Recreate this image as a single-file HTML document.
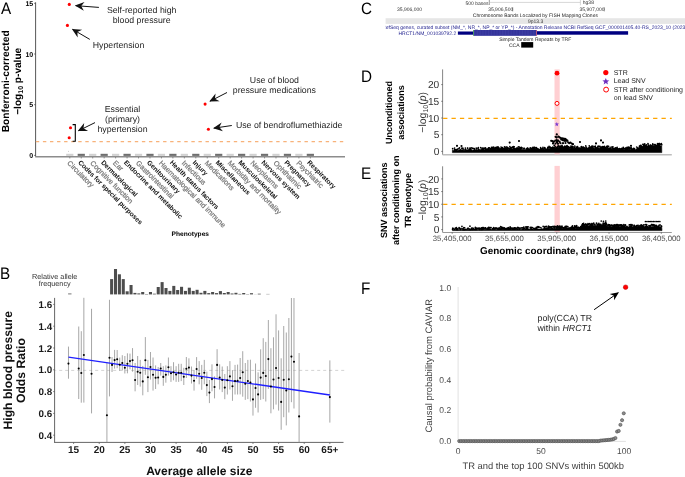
<!DOCTYPE html>
<html><head><meta charset="utf-8"><style>
html,body{margin:0;padding:0;background:#fff;overflow:hidden}
svg{display:block;will-change:transform}
text{font-family:"Liberation Sans",sans-serif;text-rendering:geometricPrecision}
</style></head><body>
<svg width="685" height="477" viewBox="0 0 685 477" font-family="Liberation Sans, sans-serif">
<rect width="685" height="477" fill="#fff"/>
<text transform="translate(1.0,14.3) scale(0.92,1)" font-size="16.6">A</text>
<line x1="35.6" y1="2.3" x2="35.6" y2="156.7" stroke="#444" stroke-width="0.9"/>
<line x1="35.2" y1="156.7" x2="345" y2="156.7" stroke="#8c8c8c" stroke-width="1.4"/>
<line x1="34.1" y1="155.40" x2="35.6" y2="155.40" stroke="#444" stroke-width="0.7"/>
<text x="33.20" y="157.90" font-size="7" font-weight="bold" fill="#000" text-anchor="end" >0</text>
<line x1="34.1" y1="104.70" x2="35.6" y2="104.70" stroke="#444" stroke-width="0.7"/>
<text x="33.20" y="107.20" font-size="7" font-weight="bold" fill="#000" text-anchor="end" >5</text>
<line x1="34.1" y1="54.00" x2="35.6" y2="54.00" stroke="#444" stroke-width="0.7"/>
<text x="33.20" y="56.50" font-size="7" font-weight="bold" fill="#000" text-anchor="end" >10</text>
<line x1="34.1" y1="3.30" x2="35.6" y2="3.30" stroke="#444" stroke-width="0.7"/>
<text x="33.20" y="5.80" font-size="7" font-weight="bold" fill="#000" text-anchor="end" >15</text>
<text transform="translate(8.8,81.3) rotate(-90)" font-size="10.2" font-weight="bold" text-anchor="middle">Bonferroni-corrected</text>
<text transform="translate(20.5,81.3) rotate(-90)" font-size="10.1" font-weight="bold" text-anchor="middle">−log<tspan font-size="7" dy="2">10</tspan><tspan dy="-2"> p-value</tspan></text>
<line x1="35.83" y1="141.6" x2="345" y2="141.6" stroke="#f8b27a" stroke-width="1.1" stroke-dasharray="3.4 3.67"/>
<rect x="66.20" y="153.8" width="7.2" height="2.1" fill="#d2d2d2"/>
<line x1="69.80" y1="157.2" x2="69.80" y2="158.4" stroke="#555" stroke-width="0.7"/>
<text transform="translate(66.80,163.60) rotate(45)" font-size="7.2" fill="#777" stroke="#777" stroke-width="0.22">Circulatory</text>
<rect x="77.66" y="153.8" width="7.2" height="2.1" fill="#6e6e6e"/>
<line x1="81.25" y1="157.2" x2="81.25" y2="158.4" stroke="#555" stroke-width="0.7"/>
<text transform="translate(77.75,162.90) rotate(45)" font-size="6.7" font-weight="bold" fill="#111">Codes for special purposes</text>
<rect x="89.11" y="153.8" width="7.2" height="2.1" fill="#d2d2d2"/>
<line x1="92.71" y1="157.2" x2="92.71" y2="158.4" stroke="#555" stroke-width="0.7"/>
<text transform="translate(89.71,163.60) rotate(45)" font-size="7.2" fill="#777" stroke="#777" stroke-width="0.22">Cognitive function</text>
<rect x="100.56" y="153.8" width="7.2" height="2.1" fill="#6e6e6e"/>
<line x1="104.16" y1="157.2" x2="104.16" y2="158.4" stroke="#555" stroke-width="0.7"/>
<text transform="translate(100.66,162.90) rotate(45)" font-size="6.7" font-weight="bold" fill="#111">Dermatological</text>
<rect x="112.02" y="153.8" width="7.2" height="2.1" fill="#d2d2d2"/>
<line x1="115.62" y1="157.2" x2="115.62" y2="158.4" stroke="#555" stroke-width="0.7"/>
<text transform="translate(112.62,163.60) rotate(45)" font-size="7.2" fill="#777" stroke="#777" stroke-width="0.22">Ear</text>
<rect x="123.47" y="153.8" width="7.2" height="2.1" fill="#6e6e6e"/>
<line x1="127.07" y1="157.2" x2="127.07" y2="158.4" stroke="#555" stroke-width="0.7"/>
<text transform="translate(123.57,162.90) rotate(45)" font-size="6.7" font-weight="bold" fill="#111">Endocrine and metabolic</text>
<rect x="134.93" y="153.8" width="7.2" height="2.1" fill="#d2d2d2"/>
<line x1="138.53" y1="157.2" x2="138.53" y2="158.4" stroke="#555" stroke-width="0.7"/>
<text transform="translate(135.53,163.60) rotate(45)" font-size="7.2" fill="#777" stroke="#777" stroke-width="0.22">Gastrointestinal</text>
<rect x="146.39" y="153.8" width="7.2" height="2.1" fill="#6e6e6e"/>
<line x1="149.99" y1="157.2" x2="149.99" y2="158.4" stroke="#555" stroke-width="0.7"/>
<text transform="translate(146.49,162.90) rotate(45)" font-size="6.7" font-weight="bold" fill="#111">Genitourinary</text>
<rect x="157.84" y="153.8" width="7.2" height="2.1" fill="#d2d2d2"/>
<line x1="161.44" y1="157.2" x2="161.44" y2="158.4" stroke="#555" stroke-width="0.7"/>
<text transform="translate(158.44,163.60) rotate(45)" font-size="7.2" fill="#777" stroke="#777" stroke-width="0.22">Haematological and immune</text>
<rect x="169.29" y="153.8" width="7.2" height="2.1" fill="#6e6e6e"/>
<line x1="172.89" y1="157.2" x2="172.89" y2="158.4" stroke="#555" stroke-width="0.7"/>
<text transform="translate(169.39,162.90) rotate(45)" font-size="6.7" font-weight="bold" fill="#111">Health status factors</text>
<rect x="180.75" y="153.8" width="7.2" height="2.1" fill="#d2d2d2"/>
<line x1="184.35" y1="157.2" x2="184.35" y2="158.4" stroke="#555" stroke-width="0.7"/>
<text transform="translate(181.35,163.60) rotate(45)" font-size="7.2" fill="#777" stroke="#777" stroke-width="0.22">Infectious</text>
<rect x="192.21" y="153.8" width="7.2" height="2.1" fill="#6e6e6e"/>
<line x1="195.81" y1="157.2" x2="195.81" y2="158.4" stroke="#555" stroke-width="0.7"/>
<text transform="translate(192.31,162.90) rotate(45)" font-size="6.7" font-weight="bold" fill="#111">Injury</text>
<rect x="203.66" y="153.8" width="7.2" height="2.1" fill="#d2d2d2"/>
<line x1="207.26" y1="157.2" x2="207.26" y2="158.4" stroke="#555" stroke-width="0.7"/>
<text transform="translate(204.26,163.60) rotate(45)" font-size="7.2" fill="#777" stroke="#777" stroke-width="0.22">Medications</text>
<rect x="215.11" y="153.8" width="7.2" height="2.1" fill="#6e6e6e"/>
<line x1="218.71" y1="157.2" x2="218.71" y2="158.4" stroke="#555" stroke-width="0.7"/>
<text transform="translate(215.21,162.90) rotate(45)" font-size="6.7" font-weight="bold" fill="#111">Miscellaneous</text>
<rect x="226.57" y="153.8" width="7.2" height="2.1" fill="#d2d2d2"/>
<line x1="230.17" y1="157.2" x2="230.17" y2="158.4" stroke="#555" stroke-width="0.7"/>
<text transform="translate(227.17,163.60) rotate(45)" font-size="7.2" fill="#777" stroke="#777" stroke-width="0.22">Morbidity and mortality</text>
<rect x="238.03" y="153.8" width="7.2" height="2.1" fill="#6e6e6e"/>
<line x1="241.62" y1="157.2" x2="241.62" y2="158.4" stroke="#555" stroke-width="0.7"/>
<text transform="translate(238.12,162.90) rotate(45)" font-size="6.7" font-weight="bold" fill="#111">Musculoskeletal</text>
<rect x="249.48" y="153.8" width="7.2" height="2.1" fill="#d2d2d2"/>
<line x1="253.08" y1="157.2" x2="253.08" y2="158.4" stroke="#555" stroke-width="0.7"/>
<text transform="translate(250.08,163.60) rotate(45)" font-size="7.2" fill="#777" stroke="#777" stroke-width="0.22">Neoplasms</text>
<rect x="260.94" y="153.8" width="7.2" height="2.1" fill="#6e6e6e"/>
<line x1="264.54" y1="157.2" x2="264.54" y2="158.4" stroke="#555" stroke-width="0.7"/>
<text transform="translate(261.04,162.90) rotate(45)" font-size="6.7" font-weight="bold" fill="#111">Nervous system</text>
<rect x="272.39" y="153.8" width="7.2" height="2.1" fill="#d2d2d2"/>
<line x1="275.99" y1="157.2" x2="275.99" y2="158.4" stroke="#555" stroke-width="0.7"/>
<text transform="translate(272.99,163.60) rotate(45)" font-size="7.2" fill="#777" stroke="#777" stroke-width="0.22">Ophthalmic</text>
<rect x="283.84" y="153.8" width="7.2" height="2.1" fill="#6e6e6e"/>
<line x1="287.44" y1="157.2" x2="287.44" y2="158.4" stroke="#555" stroke-width="0.7"/>
<text transform="translate(283.94,162.90) rotate(45)" font-size="6.7" font-weight="bold" fill="#111">Pregnancy</text>
<rect x="295.30" y="153.8" width="7.2" height="2.1" fill="#d2d2d2"/>
<line x1="298.90" y1="157.2" x2="298.90" y2="158.4" stroke="#555" stroke-width="0.7"/>
<text transform="translate(295.90,163.60) rotate(45)" font-size="7.2" fill="#777" stroke="#777" stroke-width="0.22">Psychiatric</text>
<rect x="306.75" y="153.8" width="7.2" height="2.1" fill="#6e6e6e"/>
<line x1="310.36" y1="157.2" x2="310.36" y2="158.4" stroke="#555" stroke-width="0.7"/>
<text transform="translate(306.86,162.90) rotate(45)" font-size="6.7" font-weight="bold" fill="#111">Respiratory</text>
<circle cx="68.5" cy="151.3" r="0.5" fill="#bbb"/>
<text x="190.30" y="236.40" font-size="6.6" font-weight="bold" fill="#000" text-anchor="middle" >Phenotypes</text>
<circle cx="69.3" cy="4.4" r="1.55" fill="#f00"/>
<circle cx="67.4" cy="25.4" r="1.55" fill="#f00"/>
<circle cx="70.5" cy="127.7" r="1.55" fill="#f00"/>
<circle cx="69.2" cy="137.7" r="1.55" fill="#f00"/>
<circle cx="205.1" cy="104.1" r="1.55" fill="#f00"/>
<circle cx="208.4" cy="129.3" r="1.55" fill="#f00"/>
<path d="M72.6,124.6 H75.3 V141.2 H72.6" fill="none" stroke="#000" stroke-width="1.1"/>
<line x1="98.90" y1="7.40" x2="75.70" y2="5.66" stroke="#111" stroke-width="1.0"/>
<path d="M74.90,5.60 L84.50,1.91 L81.21,6.07 L83.84,10.68 Z" fill="#111"/>
<line x1="89.80" y1="39.40" x2="72.59" y2="29.30" stroke="#111" stroke-width="1.0"/>
<path d="M71.90,28.90 L82.15,29.81 L77.35,32.10 L77.70,37.40 Z" fill="#111"/>
<line x1="95.00" y1="122.60" x2="78.52" y2="130.75" stroke="#111" stroke-width="1.0"/>
<path d="M77.80,131.10 L84.19,123.04 L83.47,128.30 L88.09,130.92 Z" fill="#111"/>
<line x1="227.00" y1="92.50" x2="210.01" y2="101.23" stroke="#111" stroke-width="1.0"/>
<path d="M209.30,101.60 L215.56,93.43 L214.92,98.71 L219.58,101.26 Z" fill="#111"/>
<line x1="231.80" y1="125.50" x2="213.89" y2="128.18" stroke="#111" stroke-width="1.0"/>
<path d="M213.10,128.30 L221.65,122.57 L219.35,127.36 L222.95,131.27 Z" fill="#111"/>
<text x="141.70" y="13.10" font-size="8.75" fill="#1c1c1c" text-anchor="middle" >Self-reported high</text>
<text x="141.70" y="22.80" font-size="8.75" fill="#1c1c1c" text-anchor="middle" >blood pressure</text>
<text x="118.50" y="48.20" font-size="8.75" fill="#1c1c1c" text-anchor="middle" >Hypertension</text>
<text x="122.50" y="111.70" font-size="8.75" fill="#1c1c1c" text-anchor="middle" >Essential</text>
<text x="122.50" y="121.80" font-size="8.75" fill="#1c1c1c" text-anchor="middle" >(primary)</text>
<text x="122.50" y="131.80" font-size="8.75" fill="#1c1c1c" text-anchor="middle" >hypertension</text>
<text x="274.40" y="82.50" font-size="8.75" fill="#1c1c1c" text-anchor="middle" >Use of blood</text>
<text x="274.40" y="93.20" font-size="8.75" fill="#1c1c1c" text-anchor="middle" >pressure medications</text>
<text x="235.90" y="127.90" font-size="8.75" fill="#1c1c1c" text-anchor="start" >Use of bendroflumethiazide</text>
<text transform="translate(0.0,278.7) scale(0.92,1)" font-size="16.6">B</text>
<text x="54.70" y="278.60" font-size="7.3" fill="#333" text-anchor="middle" >Relative allele</text>
<text x="54.70" y="286.10" font-size="7.3" fill="#333" text-anchor="middle" >frequency</text>
<rect x="68.1" y="293.4" width="3.4" height="1" fill="#777"/>
<rect x="110.10" y="279.10" width="3.05" height="15.30" fill="#4d4d4d"/>
<rect x="113.98" y="269.00" width="3.05" height="25.40" fill="#4d4d4d"/>
<rect x="117.87" y="274.30" width="3.05" height="20.10" fill="#4d4d4d"/>
<rect x="121.75" y="279.10" width="3.05" height="15.30" fill="#4d4d4d"/>
<rect x="125.64" y="291.30" width="3.05" height="3.10" fill="#4d4d4d"/>
<rect x="129.52" y="285.00" width="3.05" height="9.40" fill="#4d4d4d"/>
<rect x="133.41" y="292.90" width="3.05" height="1.50" fill="#4d4d4d"/>
<rect x="137.29" y="293.40" width="3.05" height="1.00" fill="#4d4d4d"/>
<rect x="141.18" y="292.00" width="3.05" height="2.40" fill="#4d4d4d"/>
<rect x="145.06" y="294.00" width="3.05" height="0.40" fill="#4d4d4d"/>
<rect x="148.95" y="292.00" width="3.05" height="2.40" fill="#4d4d4d"/>
<rect x="152.83" y="293.70" width="3.05" height="0.70" fill="#4d4d4d"/>
<rect x="156.72" y="287.00" width="3.05" height="7.40" fill="#4d4d4d"/>
<rect x="160.60" y="282.10" width="3.05" height="12.30" fill="#4d4d4d"/>
<rect x="164.49" y="288.00" width="3.05" height="6.40" fill="#4d4d4d"/>
<rect x="168.38" y="290.90" width="3.05" height="3.50" fill="#4d4d4d"/>
<rect x="172.26" y="285.90" width="3.05" height="8.50" fill="#4d4d4d"/>
<rect x="176.14" y="290.00" width="3.05" height="4.40" fill="#4d4d4d"/>
<rect x="180.03" y="286.80" width="3.05" height="7.60" fill="#4d4d4d"/>
<rect x="183.91" y="290.90" width="3.05" height="3.50" fill="#4d4d4d"/>
<rect x="187.80" y="287.70" width="3.05" height="6.70" fill="#4d4d4d"/>
<rect x="191.69" y="290.90" width="3.05" height="3.50" fill="#4d4d4d"/>
<rect x="195.57" y="289.80" width="3.05" height="4.60" fill="#4d4d4d"/>
<rect x="199.45" y="292.80" width="3.05" height="1.60" fill="#4d4d4d"/>
<rect x="203.34" y="290.90" width="3.05" height="3.50" fill="#4d4d4d"/>
<rect x="207.22" y="293.10" width="3.05" height="1.30" fill="#4d4d4d"/>
<rect x="211.11" y="292.00" width="3.05" height="2.40" fill="#4d4d4d"/>
<rect x="215.00" y="293.10" width="3.05" height="1.30" fill="#4d4d4d"/>
<rect x="218.88" y="291.10" width="3.05" height="3.30" fill="#4d4d4d"/>
<rect x="222.76" y="293.00" width="3.05" height="1.40" fill="#4d4d4d"/>
<rect x="226.65" y="292.00" width="3.05" height="2.40" fill="#4d4d4d"/>
<rect x="230.53" y="293.50" width="3.05" height="0.90" fill="#4d4d4d"/>
<rect x="234.42" y="292.80" width="3.05" height="1.60" fill="#4d4d4d"/>
<rect x="238.30" y="293.90" width="3.05" height="0.50" fill="#4d4d4d"/>
<rect x="242.19" y="293.00" width="3.05" height="1.40" fill="#4d4d4d"/>
<rect x="246.07" y="294.10" width="3.05" height="0.30" fill="#4d4d4d"/>
<rect x="249.96" y="293.20" width="3.05" height="1.20" fill="#4d4d4d"/>
<rect x="253.84" y="294.30" width="3.05" height="0.10" fill="#4d4d4d"/>
<rect x="257.73" y="293.70" width="3.05" height="0.70" fill="#4d4d4d"/>
<rect x="266.2" y="293.9" width="3.4" height="0.5" fill="#999"/>
<line x1="54.6" y1="297.9" x2="54.6" y2="442.6" stroke="#555" stroke-width="0.9"/>
<line x1="54.2" y1="442.4" x2="343.5" y2="442.4" stroke="#555" stroke-width="0.9"/>
<line x1="53.1" y1="435.20" x2="54.6" y2="435.20" stroke="#555" stroke-width="0.7"/>
<text x="52.20" y="438.70" font-size="9.8" font-weight="bold" fill="#1a1a1a" text-anchor="end" >0.4</text>
<line x1="53.1" y1="413.40" x2="54.6" y2="413.40" stroke="#555" stroke-width="0.7"/>
<text x="52.20" y="416.90" font-size="9.8" font-weight="bold" fill="#1a1a1a" text-anchor="end" >0.6</text>
<line x1="53.1" y1="391.60" x2="54.6" y2="391.60" stroke="#555" stroke-width="0.7"/>
<text x="52.20" y="395.10" font-size="9.8" font-weight="bold" fill="#1a1a1a" text-anchor="end" >0.8</text>
<line x1="53.1" y1="369.80" x2="54.6" y2="369.80" stroke="#555" stroke-width="0.7"/>
<text x="52.20" y="373.30" font-size="9.8" font-weight="bold" fill="#1a1a1a" text-anchor="end" >1.0</text>
<line x1="53.1" y1="348.00" x2="54.6" y2="348.00" stroke="#555" stroke-width="0.7"/>
<text x="52.20" y="351.50" font-size="9.8" font-weight="bold" fill="#1a1a1a" text-anchor="end" >1.2</text>
<line x1="53.1" y1="326.20" x2="54.6" y2="326.20" stroke="#555" stroke-width="0.7"/>
<text x="52.20" y="329.70" font-size="9.8" font-weight="bold" fill="#1a1a1a" text-anchor="end" >1.4</text>
<line x1="53.1" y1="304.40" x2="54.6" y2="304.40" stroke="#555" stroke-width="0.7"/>
<text x="52.20" y="307.90" font-size="9.8" font-weight="bold" fill="#1a1a1a" text-anchor="end" >1.6</text>
<line x1="73.60" y1="442.4" x2="73.60" y2="444" stroke="#555" stroke-width="0.7"/>
<text x="73.60" y="452.60" font-size="10" font-weight="bold" fill="#1a1a1a" text-anchor="middle" >15</text>
<line x1="99.22" y1="442.4" x2="99.22" y2="444" stroke="#555" stroke-width="0.7"/>
<text x="99.22" y="452.60" font-size="10" font-weight="bold" fill="#1a1a1a" text-anchor="middle" >20</text>
<line x1="124.85" y1="442.4" x2="124.85" y2="444" stroke="#555" stroke-width="0.7"/>
<text x="124.85" y="452.60" font-size="10" font-weight="bold" fill="#1a1a1a" text-anchor="middle" >25</text>
<line x1="150.47" y1="442.4" x2="150.47" y2="444" stroke="#555" stroke-width="0.7"/>
<text x="150.47" y="452.60" font-size="10" font-weight="bold" fill="#1a1a1a" text-anchor="middle" >30</text>
<line x1="176.10" y1="442.4" x2="176.10" y2="444" stroke="#555" stroke-width="0.7"/>
<text x="176.10" y="452.60" font-size="10" font-weight="bold" fill="#1a1a1a" text-anchor="middle" >35</text>
<line x1="201.72" y1="442.4" x2="201.72" y2="444" stroke="#555" stroke-width="0.7"/>
<text x="201.72" y="452.60" font-size="10" font-weight="bold" fill="#1a1a1a" text-anchor="middle" >40</text>
<line x1="227.35" y1="442.4" x2="227.35" y2="444" stroke="#555" stroke-width="0.7"/>
<text x="227.35" y="452.60" font-size="10" font-weight="bold" fill="#1a1a1a" text-anchor="middle" >45</text>
<line x1="252.97" y1="442.4" x2="252.97" y2="444" stroke="#555" stroke-width="0.7"/>
<text x="252.97" y="452.60" font-size="10" font-weight="bold" fill="#1a1a1a" text-anchor="middle" >50</text>
<line x1="278.60" y1="442.4" x2="278.60" y2="444" stroke="#555" stroke-width="0.7"/>
<text x="278.60" y="452.60" font-size="10" font-weight="bold" fill="#1a1a1a" text-anchor="middle" >55</text>
<line x1="304.23" y1="442.4" x2="304.23" y2="444" stroke="#555" stroke-width="0.7"/>
<text x="304.23" y="452.60" font-size="10" font-weight="bold" fill="#1a1a1a" text-anchor="middle" >60</text>
<line x1="329.85" y1="442.4" x2="329.85" y2="444" stroke="#555" stroke-width="0.7"/>
<text x="329.85" y="452.60" font-size="10" font-weight="bold" fill="#1a1a1a" text-anchor="middle" >65+</text>
<text x="199.30" y="474.80" font-size="12" font-weight="bold" fill="#111" text-anchor="middle" >Average allele size</text>
<text transform="translate(11.5,370.3) rotate(-90)" font-size="12.2" font-weight="bold" text-anchor="middle" fill="#111">High blood pressure</text>
<text transform="translate(25.0,370.6) rotate(-90)" font-size="12.2" font-weight="bold" text-anchor="middle" fill="#111">Odds Ratio</text>
<line x1="55.1" y1="370.4" x2="345.5" y2="370.4" stroke="#c8c8c8" stroke-width="0.8" stroke-dasharray="3 3" stroke-dashoffset="1.9"/>
<line x1="68.47" y1="346.60" x2="68.47" y2="378.70" stroke="#8a8a8a" stroke-width="0.75"/>
<line x1="78.72" y1="326.50" x2="78.72" y2="399.00" stroke="#8a8a8a" stroke-width="0.75"/>
<line x1="81.29" y1="331.20" x2="81.29" y2="402.70" stroke="#8a8a8a" stroke-width="0.75"/>
<line x1="83.85" y1="297.80" x2="83.85" y2="402.60" stroke="#8a8a8a" stroke-width="0.75"/>
<line x1="91.54" y1="308.80" x2="91.54" y2="413.40" stroke="#8a8a8a" stroke-width="0.75"/>
<line x1="106.91" y1="362.50" x2="106.91" y2="442.40" stroke="#8a8a8a" stroke-width="0.75"/>
<line x1="109.47" y1="299.80" x2="109.47" y2="396.40" stroke="#8a8a8a" stroke-width="0.75"/>
<line x1="112.04" y1="357.00" x2="112.04" y2="372.00" stroke="#8a8a8a" stroke-width="0.75"/>
<line x1="114.60" y1="349.90" x2="114.60" y2="368.60" stroke="#8a8a8a" stroke-width="0.75"/>
<line x1="117.16" y1="350.00" x2="117.16" y2="368.20" stroke="#8a8a8a" stroke-width="0.75"/>
<line x1="119.72" y1="357.60" x2="119.72" y2="370.80" stroke="#8a8a8a" stroke-width="0.75"/>
<line x1="122.29" y1="355.20" x2="122.29" y2="370.40" stroke="#8a8a8a" stroke-width="0.75"/>
<line x1="124.85" y1="356.00" x2="124.85" y2="373.50" stroke="#8a8a8a" stroke-width="0.75"/>
<line x1="127.41" y1="353.30" x2="127.41" y2="373.30" stroke="#8a8a8a" stroke-width="0.75"/>
<line x1="129.97" y1="353.60" x2="129.97" y2="369.30" stroke="#8a8a8a" stroke-width="0.75"/>
<line x1="132.54" y1="348.10" x2="132.54" y2="371.70" stroke="#8a8a8a" stroke-width="0.75"/>
<line x1="135.10" y1="363.00" x2="135.10" y2="391.30" stroke="#8a8a8a" stroke-width="0.75"/>
<line x1="137.66" y1="356.00" x2="137.66" y2="385.00" stroke="#8a8a8a" stroke-width="0.75"/>
<line x1="140.22" y1="359.90" x2="140.22" y2="386.60" stroke="#8a8a8a" stroke-width="0.75"/>
<line x1="142.79" y1="365.90" x2="142.79" y2="395.30" stroke="#8a8a8a" stroke-width="0.75"/>
<line x1="145.35" y1="337.10" x2="145.35" y2="374.80" stroke="#8a8a8a" stroke-width="0.75"/>
<line x1="147.91" y1="359.90" x2="147.91" y2="392.10" stroke="#8a8a8a" stroke-width="0.75"/>
<line x1="150.47" y1="352.00" x2="150.47" y2="379.60" stroke="#8a8a8a" stroke-width="0.75"/>
<line x1="153.04" y1="357.50" x2="153.04" y2="390.60" stroke="#8a8a8a" stroke-width="0.75"/>
<line x1="155.60" y1="365.40" x2="155.60" y2="389.00" stroke="#8a8a8a" stroke-width="0.75"/>
<line x1="158.16" y1="367.00" x2="158.16" y2="384.30" stroke="#8a8a8a" stroke-width="0.75"/>
<line x1="160.72" y1="363.00" x2="160.72" y2="375.60" stroke="#8a8a8a" stroke-width="0.75"/>
<line x1="163.29" y1="366.20" x2="163.29" y2="385.80" stroke="#8a8a8a" stroke-width="0.75"/>
<line x1="165.85" y1="365.40" x2="165.85" y2="382.70" stroke="#8a8a8a" stroke-width="0.75"/>
<line x1="168.41" y1="357.50" x2="168.41" y2="375.60" stroke="#8a8a8a" stroke-width="0.75"/>
<line x1="170.97" y1="366.20" x2="170.97" y2="381.90" stroke="#8a8a8a" stroke-width="0.75"/>
<line x1="173.54" y1="362.20" x2="173.54" y2="380.30" stroke="#8a8a8a" stroke-width="0.75"/>
<line x1="176.10" y1="366.20" x2="176.10" y2="381.90" stroke="#8a8a8a" stroke-width="0.75"/>
<line x1="178.66" y1="363.80" x2="178.66" y2="381.90" stroke="#8a8a8a" stroke-width="0.75"/>
<line x1="181.22" y1="363.80" x2="181.22" y2="381.10" stroke="#8a8a8a" stroke-width="0.75"/>
<line x1="183.79" y1="367.80" x2="183.79" y2="385.00" stroke="#8a8a8a" stroke-width="0.75"/>
<line x1="186.35" y1="357.00" x2="186.35" y2="378.00" stroke="#8a8a8a" stroke-width="0.75"/>
<line x1="188.91" y1="358.30" x2="188.91" y2="375.60" stroke="#8a8a8a" stroke-width="0.75"/>
<line x1="191.47" y1="366.50" x2="191.47" y2="383.50" stroke="#8a8a8a" stroke-width="0.75"/>
<line x1="194.04" y1="370.10" x2="194.04" y2="390.60" stroke="#8a8a8a" stroke-width="0.75"/>
<line x1="196.60" y1="357.10" x2="196.60" y2="378.80" stroke="#8a8a8a" stroke-width="0.75"/>
<line x1="199.16" y1="361.10" x2="199.16" y2="384.30" stroke="#8a8a8a" stroke-width="0.75"/>
<line x1="201.72" y1="364.90" x2="201.72" y2="389.80" stroke="#8a8a8a" stroke-width="0.75"/>
<line x1="204.29" y1="359.90" x2="204.29" y2="384.30" stroke="#8a8a8a" stroke-width="0.75"/>
<line x1="206.85" y1="371.70" x2="206.85" y2="396.10" stroke="#8a8a8a" stroke-width="0.75"/>
<line x1="209.41" y1="380.00" x2="209.41" y2="403.10" stroke="#8a8a8a" stroke-width="0.75"/>
<line x1="211.97" y1="364.30" x2="211.97" y2="391.30" stroke="#8a8a8a" stroke-width="0.75"/>
<line x1="214.54" y1="376.40" x2="214.54" y2="398.40" stroke="#8a8a8a" stroke-width="0.75"/>
<line x1="217.10" y1="349.20" x2="217.10" y2="378.00" stroke="#8a8a8a" stroke-width="0.75"/>
<line x1="219.66" y1="364.30" x2="219.66" y2="389.50" stroke="#8a8a8a" stroke-width="0.75"/>
<line x1="222.22" y1="366.50" x2="222.22" y2="392.10" stroke="#8a8a8a" stroke-width="0.75"/>
<line x1="224.79" y1="374.00" x2="224.79" y2="399.20" stroke="#8a8a8a" stroke-width="0.75"/>
<line x1="227.35" y1="366.20" x2="227.35" y2="394.50" stroke="#8a8a8a" stroke-width="0.75"/>
<line x1="229.91" y1="361.10" x2="229.91" y2="389.50" stroke="#8a8a8a" stroke-width="0.75"/>
<line x1="232.47" y1="370.10" x2="232.47" y2="400.80" stroke="#8a8a8a" stroke-width="0.75"/>
<line x1="235.04" y1="364.90" x2="235.04" y2="394.50" stroke="#8a8a8a" stroke-width="0.75"/>
<line x1="237.60" y1="364.60" x2="237.60" y2="394.50" stroke="#8a8a8a" stroke-width="0.75"/>
<line x1="240.16" y1="358.00" x2="240.16" y2="394.40" stroke="#8a8a8a" stroke-width="0.75"/>
<line x1="242.72" y1="351.20" x2="242.72" y2="396.70" stroke="#8a8a8a" stroke-width="0.75"/>
<line x1="245.29" y1="363.00" x2="245.29" y2="399.90" stroke="#8a8a8a" stroke-width="0.75"/>
<line x1="247.85" y1="359.90" x2="247.85" y2="399.10" stroke="#8a8a8a" stroke-width="0.75"/>
<line x1="250.41" y1="359.70" x2="250.41" y2="401.50" stroke="#8a8a8a" stroke-width="0.75"/>
<line x1="252.97" y1="384.00" x2="252.97" y2="415.60" stroke="#8a8a8a" stroke-width="0.75"/>
<line x1="255.54" y1="363.50" x2="255.54" y2="407.80" stroke="#8a8a8a" stroke-width="0.75"/>
<line x1="258.10" y1="372.30" x2="258.10" y2="412.50" stroke="#8a8a8a" stroke-width="0.75"/>
<line x1="260.66" y1="349.30" x2="260.66" y2="399.90" stroke="#8a8a8a" stroke-width="0.75"/>
<line x1="263.23" y1="338.20" x2="263.23" y2="399.10" stroke="#8a8a8a" stroke-width="0.75"/>
<line x1="265.79" y1="341.90" x2="265.79" y2="401.50" stroke="#8a8a8a" stroke-width="0.75"/>
<line x1="268.35" y1="320.00" x2="268.35" y2="388.90" stroke="#8a8a8a" stroke-width="0.75"/>
<line x1="270.91" y1="348.20" x2="270.91" y2="413.30" stroke="#8a8a8a" stroke-width="0.75"/>
<line x1="273.48" y1="337.30" x2="273.48" y2="409.30" stroke="#8a8a8a" stroke-width="0.75"/>
<line x1="276.04" y1="314.30" x2="276.04" y2="404.60" stroke="#8a8a8a" stroke-width="0.75"/>
<line x1="278.60" y1="330.40" x2="278.60" y2="410.60" stroke="#8a8a8a" stroke-width="0.75"/>
<line x1="281.16" y1="358.30" x2="281.16" y2="429.80" stroke="#8a8a8a" stroke-width="0.75"/>
<line x1="283.73" y1="326.00" x2="283.73" y2="417.20" stroke="#8a8a8a" stroke-width="0.75"/>
<line x1="286.29" y1="332.50" x2="286.29" y2="425.40" stroke="#8a8a8a" stroke-width="0.75"/>
<line x1="288.85" y1="318.00" x2="288.85" y2="412.50" stroke="#8a8a8a" stroke-width="0.75"/>
<line x1="291.41" y1="298.00" x2="291.41" y2="402.20" stroke="#8a8a8a" stroke-width="0.75"/>
<line x1="293.98" y1="298.00" x2="293.98" y2="408.50" stroke="#8a8a8a" stroke-width="0.75"/>
<line x1="299.10" y1="353.00" x2="299.10" y2="442.40" stroke="#8a8a8a" stroke-width="0.75"/>
<line x1="329.85" y1="360.40" x2="329.85" y2="422.60" stroke="#8a8a8a" stroke-width="0.75"/>
<line x1="68.47" y1="357.1" x2="329.85" y2="395.0" stroke="#1f1fff" stroke-width="1.3"/>
<circle cx="68.47" cy="363.60" r="1.05" fill="#000"/>
<circle cx="78.72" cy="368.50" r="1.05" fill="#000"/>
<circle cx="81.29" cy="373.00" r="1.05" fill="#000"/>
<circle cx="83.85" cy="355.00" r="1.05" fill="#000"/>
<circle cx="91.54" cy="373.80" r="1.05" fill="#000"/>
<circle cx="106.91" cy="415.30" r="1.05" fill="#000"/>
<circle cx="109.47" cy="357.70" r="1.05" fill="#000"/>
<circle cx="112.04" cy="364.90" r="1.05" fill="#000"/>
<circle cx="114.60" cy="360.10" r="1.05" fill="#000"/>
<circle cx="117.16" cy="359.30" r="1.05" fill="#000"/>
<circle cx="119.72" cy="364.70" r="1.05" fill="#000"/>
<circle cx="122.29" cy="363.00" r="1.05" fill="#000"/>
<circle cx="124.85" cy="367.70" r="1.05" fill="#000"/>
<circle cx="127.41" cy="363.80" r="1.05" fill="#000"/>
<circle cx="129.97" cy="361.10" r="1.05" fill="#000"/>
<circle cx="132.54" cy="360.20" r="1.05" fill="#000"/>
<circle cx="135.10" cy="380.00" r="1.05" fill="#000"/>
<circle cx="137.66" cy="371.70" r="1.05" fill="#000"/>
<circle cx="140.22" cy="372.80" r="1.05" fill="#000"/>
<circle cx="142.79" cy="381.40" r="1.05" fill="#000"/>
<circle cx="145.35" cy="360.20" r="1.05" fill="#000"/>
<circle cx="147.91" cy="377.20" r="1.05" fill="#000"/>
<circle cx="150.47" cy="367.00" r="1.05" fill="#000"/>
<circle cx="153.04" cy="374.80" r="1.05" fill="#000"/>
<circle cx="155.60" cy="377.70" r="1.05" fill="#000"/>
<circle cx="158.16" cy="377.50" r="1.05" fill="#000"/>
<circle cx="160.72" cy="368.50" r="1.05" fill="#000"/>
<circle cx="163.29" cy="376.90" r="1.05" fill="#000"/>
<circle cx="165.85" cy="374.80" r="1.05" fill="#000"/>
<circle cx="168.41" cy="367.30" r="1.05" fill="#000"/>
<circle cx="170.97" cy="373.30" r="1.05" fill="#000"/>
<circle cx="173.54" cy="372.20" r="1.05" fill="#000"/>
<circle cx="176.10" cy="374.50" r="1.05" fill="#000"/>
<circle cx="178.66" cy="372.80" r="1.05" fill="#000"/>
<circle cx="181.22" cy="372.80" r="1.05" fill="#000"/>
<circle cx="183.79" cy="376.70" r="1.05" fill="#000"/>
<circle cx="186.35" cy="368.70" r="1.05" fill="#000"/>
<circle cx="188.91" cy="367.60" r="1.05" fill="#000"/>
<circle cx="191.47" cy="375.60" r="1.05" fill="#000"/>
<circle cx="194.04" cy="380.80" r="1.05" fill="#000"/>
<circle cx="196.60" cy="369.00" r="1.05" fill="#000"/>
<circle cx="199.16" cy="373.70" r="1.05" fill="#000"/>
<circle cx="201.72" cy="378.00" r="1.05" fill="#000"/>
<circle cx="204.29" cy="372.80" r="1.05" fill="#000"/>
<circle cx="206.85" cy="385.10" r="1.05" fill="#000"/>
<circle cx="209.41" cy="392.60" r="1.05" fill="#000"/>
<circle cx="211.97" cy="379.10" r="1.05" fill="#000"/>
<circle cx="214.54" cy="387.00" r="1.05" fill="#000"/>
<circle cx="217.10" cy="364.90" r="1.05" fill="#000"/>
<circle cx="219.66" cy="377.50" r="1.05" fill="#000"/>
<circle cx="222.22" cy="380.00" r="1.05" fill="#000"/>
<circle cx="224.79" cy="387.60" r="1.05" fill="#000"/>
<circle cx="227.35" cy="380.30" r="1.05" fill="#000"/>
<circle cx="229.91" cy="376.40" r="1.05" fill="#000"/>
<circle cx="232.47" cy="386.30" r="1.05" fill="#000"/>
<circle cx="235.04" cy="381.10" r="1.05" fill="#000"/>
<circle cx="237.60" cy="380.70" r="1.05" fill="#000"/>
<circle cx="240.16" cy="378.00" r="1.05" fill="#000"/>
<circle cx="242.72" cy="372.30" r="1.05" fill="#000"/>
<circle cx="245.29" cy="383.80" r="1.05" fill="#000"/>
<circle cx="247.85" cy="381.00" r="1.05" fill="#000"/>
<circle cx="250.41" cy="382.50" r="1.05" fill="#000"/>
<circle cx="252.97" cy="399.40" r="1.05" fill="#000"/>
<circle cx="255.54" cy="388.00" r="1.05" fill="#000"/>
<circle cx="258.10" cy="394.40" r="1.05" fill="#000"/>
<circle cx="260.66" cy="377.60" r="1.05" fill="#000"/>
<circle cx="263.23" cy="372.90" r="1.05" fill="#000"/>
<circle cx="265.79" cy="376.00" r="1.05" fill="#000"/>
<circle cx="268.35" cy="359.10" r="1.05" fill="#000"/>
<circle cx="270.91" cy="386.50" r="1.05" fill="#000"/>
<circle cx="273.48" cy="379.50" r="1.05" fill="#000"/>
<circle cx="276.04" cy="368.10" r="1.05" fill="#000"/>
<circle cx="278.60" cy="378.00" r="1.05" fill="#000"/>
<circle cx="281.16" cy="401.90" r="1.05" fill="#000"/>
<circle cx="283.73" cy="379.70" r="1.05" fill="#000"/>
<circle cx="286.29" cy="390.50" r="1.05" fill="#000"/>
<circle cx="288.85" cy="379.30" r="1.05" fill="#000"/>
<circle cx="291.41" cy="356.60" r="1.05" fill="#000"/>
<circle cx="293.98" cy="361.80" r="1.05" fill="#000"/>
<circle cx="299.10" cy="416.40" r="1.05" fill="#000"/>
<circle cx="329.85" cy="397.10" r="1.05" fill="#000"/>
<text transform="translate(360.9,13.6) scale(0.92,1)" font-size="16.6">C</text>
<text x="409.50" y="11.20" font-size="5.0" fill="#333" text-anchor="middle" >35,906,000</text>
<text x="500.70" y="11.20" font-size="5.0" fill="#333" text-anchor="middle" >35,906,500</text>
<text x="592.00" y="11.20" font-size="5.0" fill="#333" text-anchor="middle" >35,907,000</text>
<line x1="512.7" y1="7.2" x2="512.7" y2="11.4" stroke="#333" stroke-width="0.5"/>
<line x1="604.3" y1="7.2" x2="604.3" y2="11.4" stroke="#333" stroke-width="0.5"/>
<text x="488.60" y="4.60" font-size="5.0" fill="#333" text-anchor="end" >500 bases</text>
<line x1="489.3" y1="0" x2="489.3" y2="5" stroke="#333" stroke-width="0.5"/>
<line x1="489.3" y1="2.4" x2="580.4" y2="2.4" stroke="#bbb" stroke-width="0.6"/>
<line x1="580.4" y1="0" x2="580.4" y2="5.3" stroke="#bbb" stroke-width="0.6"/>
<text x="582.80" y="3.90" font-size="5.0" fill="#333" text-anchor="start" >hg38</text>
<text x="535.40" y="17.30" font-size="5.0" fill="#222" text-anchor="middle" >Chromosome Bands Localized by FISH Mapping Clones</text>
<rect x="385.6" y="18.2" width="300" height="5.7" fill="#e6e6e6"/>
<text x="527.90" y="23.20" font-size="5.0" fill="#333" text-anchor="start" >9p13.3</text>
<clipPath id="cC"><rect x="385.6" y="24" width="300" height="8"/></clipPath>
<text x="382.20" y="29.40" font-size="5.0" fill="#1c1c8c" text-anchor="start" clip-path="url(#cC)">RefSeq genes, curated subset (NM_*, NR_*, NP_* or YP_*) - Annotation Release NCBI RefSeq GCF_000001405.40-RS_2023_10 (2023-10-26)</text>
<text x="456.30" y="34.60" font-size="5.0" fill="#1c1c8c" text-anchor="end" >HRCT1/NM_001039792.2</text>
<rect x="457.9" y="31.5" width="15.4" height="3.2" fill="#000080"/>
<rect x="537" y="31.2" width="91.1" height="3.5" fill="#000080"/>
<rect x="473.6" y="30" width="62.8" height="5.8" fill="#303096"/>
<line x1="474.50" y1="30" x2="474.50" y2="35.8" stroke="#5050b8" stroke-width="0.4"/>
<line x1="476.05" y1="30" x2="476.05" y2="35.8" stroke="#5050b8" stroke-width="0.4"/>
<line x1="477.60" y1="30" x2="477.60" y2="35.8" stroke="#5050b8" stroke-width="0.4"/>
<line x1="479.15" y1="30" x2="479.15" y2="35.8" stroke="#5050b8" stroke-width="0.4"/>
<line x1="480.70" y1="30" x2="480.70" y2="35.8" stroke="#5050b8" stroke-width="0.4"/>
<line x1="482.25" y1="30" x2="482.25" y2="35.8" stroke="#5050b8" stroke-width="0.4"/>
<line x1="483.80" y1="30" x2="483.80" y2="35.8" stroke="#5050b8" stroke-width="0.4"/>
<line x1="485.35" y1="30" x2="485.35" y2="35.8" stroke="#5050b8" stroke-width="0.4"/>
<line x1="486.90" y1="30" x2="486.90" y2="35.8" stroke="#5050b8" stroke-width="0.4"/>
<line x1="488.45" y1="30" x2="488.45" y2="35.8" stroke="#5050b8" stroke-width="0.4"/>
<line x1="490.00" y1="30" x2="490.00" y2="35.8" stroke="#5050b8" stroke-width="0.4"/>
<line x1="491.55" y1="30" x2="491.55" y2="35.8" stroke="#5050b8" stroke-width="0.4"/>
<line x1="493.10" y1="30" x2="493.10" y2="35.8" stroke="#5050b8" stroke-width="0.4"/>
<line x1="494.65" y1="30" x2="494.65" y2="35.8" stroke="#5050b8" stroke-width="0.4"/>
<line x1="496.20" y1="30" x2="496.20" y2="35.8" stroke="#5050b8" stroke-width="0.4"/>
<line x1="497.75" y1="30" x2="497.75" y2="35.8" stroke="#5050b8" stroke-width="0.4"/>
<line x1="499.30" y1="30" x2="499.30" y2="35.8" stroke="#5050b8" stroke-width="0.4"/>
<line x1="500.85" y1="30" x2="500.85" y2="35.8" stroke="#5050b8" stroke-width="0.4"/>
<line x1="502.40" y1="30" x2="502.40" y2="35.8" stroke="#5050b8" stroke-width="0.4"/>
<line x1="503.95" y1="30" x2="503.95" y2="35.8" stroke="#5050b8" stroke-width="0.4"/>
<line x1="505.50" y1="30" x2="505.50" y2="35.8" stroke="#5050b8" stroke-width="0.4"/>
<line x1="507.05" y1="30" x2="507.05" y2="35.8" stroke="#5050b8" stroke-width="0.4"/>
<line x1="508.60" y1="30" x2="508.60" y2="35.8" stroke="#5050b8" stroke-width="0.4"/>
<line x1="510.15" y1="30" x2="510.15" y2="35.8" stroke="#5050b8" stroke-width="0.4"/>
<line x1="511.70" y1="30" x2="511.70" y2="35.8" stroke="#5050b8" stroke-width="0.4"/>
<line x1="513.25" y1="30" x2="513.25" y2="35.8" stroke="#5050b8" stroke-width="0.4"/>
<line x1="514.80" y1="30" x2="514.80" y2="35.8" stroke="#5050b8" stroke-width="0.4"/>
<line x1="516.35" y1="30" x2="516.35" y2="35.8" stroke="#5050b8" stroke-width="0.4"/>
<line x1="517.90" y1="30" x2="517.90" y2="35.8" stroke="#5050b8" stroke-width="0.4"/>
<line x1="519.45" y1="30" x2="519.45" y2="35.8" stroke="#5050b8" stroke-width="0.4"/>
<line x1="521.00" y1="30" x2="521.00" y2="35.8" stroke="#5050b8" stroke-width="0.4"/>
<line x1="522.55" y1="30" x2="522.55" y2="35.8" stroke="#5050b8" stroke-width="0.4"/>
<line x1="524.10" y1="30" x2="524.10" y2="35.8" stroke="#5050b8" stroke-width="0.4"/>
<line x1="525.65" y1="30" x2="525.65" y2="35.8" stroke="#5050b8" stroke-width="0.4"/>
<line x1="527.20" y1="30" x2="527.20" y2="35.8" stroke="#5050b8" stroke-width="0.4"/>
<line x1="528.75" y1="30" x2="528.75" y2="35.8" stroke="#5050b8" stroke-width="0.4"/>
<line x1="530.30" y1="30" x2="530.30" y2="35.8" stroke="#5050b8" stroke-width="0.4"/>
<line x1="531.85" y1="30" x2="531.85" y2="35.8" stroke="#5050b8" stroke-width="0.4"/>
<line x1="533.40" y1="30" x2="533.40" y2="35.8" stroke="#5050b8" stroke-width="0.4"/>
<line x1="534.95" y1="30" x2="534.95" y2="35.8" stroke="#5050b8" stroke-width="0.4"/>
<line x1="473.5" y1="30" x2="473.5" y2="35.8" stroke="#20a020" stroke-width="0.6"/>
<line x1="536.5" y1="30" x2="536.5" y2="35.8" stroke="#c02040" stroke-width="0.6"/>
<text x="535.20" y="40.70" font-size="5.0" fill="#222" text-anchor="middle" >Simple Tandem Repeats by TRF</text>
<text x="519.50" y="47.00" font-size="5.0" fill="#222" text-anchor="end" >CCA</text>
<rect x="521.2" y="42.1" width="12.0" height="5.5" fill="#000"/>
<text transform="translate(360.9,81.7) scale(0.92,1)" font-size="16.6">D</text>
<line x1="442.6" y1="69.4" x2="442.6" y2="154.8" stroke="#333" stroke-width="0.6"/>
<line x1="442.6" y1="154.8" x2="671.8" y2="154.8" stroke="#bdbdbd" stroke-width="1.6"/>
<rect x="554.5" y="69.4" width="5.2" height="85" fill="#ffcfd2"/>
<line x1="441.20000000000005" y1="151.40" x2="442.6" y2="151.40" stroke="#333" stroke-width="0.6"/>
<text x="439.30" y="155.00" font-size="10.2" fill="#333" text-anchor="end" >0</text>
<line x1="441.20000000000005" y1="134.70" x2="442.6" y2="134.70" stroke="#333" stroke-width="0.6"/>
<text x="439.30" y="138.30" font-size="10.2" fill="#333" text-anchor="end" >5</text>
<line x1="441.20000000000005" y1="118.00" x2="442.6" y2="118.00" stroke="#333" stroke-width="0.6"/>
<text x="439.30" y="121.60" font-size="10.2" fill="#333" text-anchor="end" >10</text>
<line x1="441.20000000000005" y1="101.30" x2="442.6" y2="101.30" stroke="#333" stroke-width="0.6"/>
<text x="439.30" y="104.90" font-size="10.2" fill="#333" text-anchor="end" >15</text>
<line x1="441.20000000000005" y1="84.60" x2="442.6" y2="84.60" stroke="#333" stroke-width="0.6"/>
<text x="439.30" y="88.20" font-size="10.2" fill="#333" text-anchor="end" >20</text>
<line x1="443.1" y1="118.3" x2="671.8" y2="118.3" stroke="#ffa500" stroke-width="1.2" stroke-dasharray="4.3 4.1"/>
<text transform="translate(425.6,112.3) rotate(-90)" font-size="10.5" fill="#333" text-anchor="middle">−log<tspan font-size="7" dy="2">10</tspan><tspan dy="-2">(</tspan><tspan font-style="italic">p</tspan>)</text>
<text transform="translate(391.9,112.5) rotate(-90)" font-size="9" font-weight="bold" text-anchor="middle">Unconditioned</text>
<text transform="translate(403.5,112.5) rotate(-90)" font-size="9" font-weight="bold" text-anchor="middle">associations</text>
<polygon points="452.4,152.6 452.4,150.2 453.1,150.2 453.8,150.5 454.5,150.1 455.2,150.2 455.9,150.2 456.6,149.9 457.3,150.2 458.0,150.2 458.7,150.4 459.4,149.8 460.1,150.0 460.8,149.8 461.5,150.3 462.2,150.2 462.9,149.7 463.6,150.5 464.3,150.4 465.0,150.2 465.7,150.1 466.4,149.8 467.1,149.6 467.8,150.0 468.5,149.7 469.2,149.8 469.9,149.8 470.6,149.6 471.3,149.9 472.0,149.9 472.7,150.2 473.4,149.9 474.1,149.9 474.8,149.8 475.5,149.9 476.2,149.7 476.9,149.5 477.6,150.1 478.3,150.1 479.0,149.9 479.7,149.8 480.4,149.4 481.1,149.3 481.8,149.4 482.5,149.2 483.2,149.7 483.9,149.4 484.6,149.7 485.3,149.3 486.0,149.7 486.7,149.6 487.4,148.9 488.1,149.0 488.8,149.6 489.5,149.2 490.2,149.6 490.9,149.1 491.6,148.8 492.3,149.3 493.0,149.4 493.7,148.9 494.4,148.8 495.1,149.0 495.8,149.4 496.5,149.3 497.2,148.7 497.9,148.8 498.6,148.7 499.3,148.6 500.0,149.2 500.7,148.7 501.4,149.0 502.1,148.9 502.8,148.7 503.5,149.1 504.2,148.6 504.9,149.0 505.6,148.5 506.3,148.8 507.0,148.6 507.7,148.6 508.4,149.2 509.1,149.0 509.8,148.6 510.5,149.1 511.2,148.5 511.9,148.6 512.6,149.0 513.3,148.8 514.0,148.3 514.7,149.0 515.4,148.4 516.1,148.4 516.8,148.8 517.5,148.5 518.2,148.6 518.9,148.6 519.6,148.7 520.3,149.2 521.0,149.0 521.7,149.4 522.4,149.3 523.1,149.3 523.8,149.7 524.5,149.4 525.2,149.4 525.9,149.6 526.6,149.1 527.3,149.1 528.0,149.6 528.7,149.6 529.4,149.1 530.1,149.0 530.8,149.5 531.5,149.6 532.2,149.0 532.9,149.6 533.6,149.6 534.3,149.3 535.0,149.2 535.7,148.9 536.4,148.8 537.1,149.6 537.8,149.0 538.5,149.3 539.2,149.0 539.9,149.4 540.6,149.2 541.3,149.0 542.0,148.9 542.7,149.3 543.4,148.8 544.1,148.9 544.8,149.2 545.5,149.3 546.2,149.0 546.9,148.6 547.6,149.0 548.3,148.4 549.0,148.1 549.7,148.2 550.4,148.2 551.1,147.8 551.8,147.6 552.5,147.5 553.2,147.5 553.9,147.1 554.6,147.3 555.3,147.7 556.0,147.8 556.7,147.5 557.4,147.6 558.1,147.5 558.8,147.1 559.5,147.0 560.2,147.0 560.9,147.7 561.6,147.6 562.3,147.8 563.0,147.0 563.7,147.5 564.4,147.4 565.1,147.6 565.8,147.3 566.5,147.9 567.2,147.2 567.9,147.7 568.6,148.0 569.3,148.2 570.0,148.2 570.7,148.2 571.4,148.2 572.1,148.3 572.8,147.9 573.5,148.1 574.2,148.3 574.9,148.3 575.6,147.9 576.3,148.2 577.0,148.3 577.7,148.1 578.4,148.1 579.1,147.9 579.8,148.1 580.5,148.1 581.2,147.7 581.9,148.1 582.6,148.4 583.3,148.3 584.0,148.2 584.7,147.9 585.4,148.2 586.1,148.1 586.8,148.0 587.5,148.3 588.2,147.7 588.9,148.2 589.6,147.6 590.3,148.1 591.0,148.0 591.7,147.8 592.4,148.2 593.1,148.0 593.8,148.1 594.5,148.3 595.2,147.8 595.9,147.6 596.6,147.8 597.3,148.1 598.0,147.8 598.7,147.7 599.4,148.3 600.1,148.1 600.8,148.0 601.5,148.4 602.2,147.9 602.9,148.2 603.6,147.9 604.3,148.1 605.0,148.4 605.7,148.5 606.4,148.5 607.1,148.1 607.8,148.3 608.5,148.1 609.2,148.0 609.9,148.3 610.6,148.6 611.3,148.6 612.0,148.5 612.7,148.7 613.4,148.2 614.1,148.1 614.8,148.4 615.5,148.3 616.2,148.4 616.9,148.6 617.6,148.9 618.3,148.9 619.0,148.9 619.7,149.4 620.4,149.6 621.1,149.2 621.8,148.9 622.5,148.8 623.2,149.5 623.9,148.8 624.6,149.4 625.3,149.3 626.0,149.0 626.7,149.4 627.4,148.8 628.1,148.9 628.8,149.2 629.5,148.8 630.2,149.5 630.9,149.0 631.6,148.9 632.3,148.8 633.0,149.3 633.7,149.2 634.4,149.3 635.1,149.3 635.8,149.4 636.5,149.6 637.2,149.2 637.9,148.4 638.6,148.2 639.3,147.5 640.0,146.9 640.7,147.1 641.4,147.1 642.1,146.4 642.8,146.3 643.5,146.1 644.2,146.2 644.9,145.8 645.6,145.9 646.3,146.0 647.0,145.7 647.7,146.0 648.4,146.1 649.1,145.4 649.8,146.1 650.5,145.9 651.2,145.4 651.9,145.7 652.6,145.8 653.3,146.0 654.0,145.6 654.7,145.7 655.4,146.0 656.1,145.9 656.8,146.0 657.5,145.6 658.2,145.8 658.9,145.4 659.6,145.8 660.3,145.9 661.0,145.7 661.7,145.8 661.8,152.6" fill="#000" stroke="#000" stroke-width="0.6" stroke-linejoin="round"/>
<path d="M496.2,147.2a0.85,0.85 0 1,0 1.7,0a0.85,0.85 0 1,0 -1.7,0M656.9,143.5a0.85,0.85 0 1,0 1.7,0a0.85,0.85 0 1,0 -1.7,0M564.0,146.0a0.85,0.85 0 1,0 1.7,0a0.85,0.85 0 1,0 -1.7,0M518.6,147.1a0.85,0.85 0 1,0 1.7,0a0.85,0.85 0 1,0 -1.7,0M630.8,149.1a0.85,0.85 0 1,0 1.7,0a0.85,0.85 0 1,0 -1.7,0M468.9,149.6a0.85,0.85 0 1,0 1.7,0a0.85,0.85 0 1,0 -1.7,0M566.8,146.3a0.85,0.85 0 1,0 1.7,0a0.85,0.85 0 1,0 -1.7,0M553.6,147.8a0.85,0.85 0 1,0 1.7,0a0.85,0.85 0 1,0 -1.7,0M621.0,149.6a0.85,0.85 0 1,0 1.7,0a0.85,0.85 0 1,0 -1.7,0M619.0,149.4a0.85,0.85 0 1,0 1.7,0a0.85,0.85 0 1,0 -1.7,0M521.7,148.0a0.85,0.85 0 1,0 1.7,0a0.85,0.85 0 1,0 -1.7,0M481.0,149.8a0.85,0.85 0 1,0 1.7,0a0.85,0.85 0 1,0 -1.7,0M559.7,146.2a0.85,0.85 0 1,0 1.7,0a0.85,0.85 0 1,0 -1.7,0M627.4,148.1a0.85,0.85 0 1,0 1.7,0a0.85,0.85 0 1,0 -1.7,0M649.6,145.2a0.85,0.85 0 1,0 1.7,0a0.85,0.85 0 1,0 -1.7,0M650.3,146.1a0.85,0.85 0 1,0 1.7,0a0.85,0.85 0 1,0 -1.7,0M497.9,148.4a0.85,0.85 0 1,0 1.7,0a0.85,0.85 0 1,0 -1.7,0M512.3,147.5a0.85,0.85 0 1,0 1.7,0a0.85,0.85 0 1,0 -1.7,0M585.3,147.4a0.85,0.85 0 1,0 1.7,0a0.85,0.85 0 1,0 -1.7,0M628.2,148.5a0.85,0.85 0 1,0 1.7,0a0.85,0.85 0 1,0 -1.7,0M516.8,148.5a0.85,0.85 0 1,0 1.7,0a0.85,0.85 0 1,0 -1.7,0M628.5,147.4a0.85,0.85 0 1,0 1.7,0a0.85,0.85 0 1,0 -1.7,0M495.2,147.4a0.85,0.85 0 1,0 1.7,0a0.85,0.85 0 1,0 -1.7,0M654.3,145.1a0.85,0.85 0 1,0 1.7,0a0.85,0.85 0 1,0 -1.7,0M571.5,148.2a0.85,0.85 0 1,0 1.7,0a0.85,0.85 0 1,0 -1.7,0M563.8,146.9a0.85,0.85 0 1,0 1.7,0a0.85,0.85 0 1,0 -1.7,0M578.3,148.4a0.85,0.85 0 1,0 1.7,0a0.85,0.85 0 1,0 -1.7,0M654.5,145.1a0.85,0.85 0 1,0 1.7,0a0.85,0.85 0 1,0 -1.7,0M535.4,147.7a0.85,0.85 0 1,0 1.7,0a0.85,0.85 0 1,0 -1.7,0M569.4,147.5a0.85,0.85 0 1,0 1.7,0a0.85,0.85 0 1,0 -1.7,0M596.2,148.4a0.85,0.85 0 1,0 1.7,0a0.85,0.85 0 1,0 -1.7,0M564.4,147.1a0.85,0.85 0 1,0 1.7,0a0.85,0.85 0 1,0 -1.7,0M651.9,143.8a0.85,0.85 0 1,0 1.7,0a0.85,0.85 0 1,0 -1.7,0M507.9,148.3a0.85,0.85 0 1,0 1.7,0a0.85,0.85 0 1,0 -1.7,0M478.1,149.3a0.85,0.85 0 1,0 1.7,0a0.85,0.85 0 1,0 -1.7,0M622.4,147.4a0.85,0.85 0 1,0 1.7,0a0.85,0.85 0 1,0 -1.7,0M551.3,147.7a0.85,0.85 0 1,0 1.7,0a0.85,0.85 0 1,0 -1.7,0M491.6,148.3a0.85,0.85 0 1,0 1.7,0a0.85,0.85 0 1,0 -1.7,0M645.3,146.1a0.85,0.85 0 1,0 1.7,0a0.85,0.85 0 1,0 -1.7,0M614.7,148.9a0.85,0.85 0 1,0 1.7,0a0.85,0.85 0 1,0 -1.7,0M492.2,149.3a0.85,0.85 0 1,0 1.7,0a0.85,0.85 0 1,0 -1.7,0M595.4,147.9a0.85,0.85 0 1,0 1.7,0a0.85,0.85 0 1,0 -1.7,0M526.0,148.5a0.85,0.85 0 1,0 1.7,0a0.85,0.85 0 1,0 -1.7,0M473.5,148.6a0.85,0.85 0 1,0 1.7,0a0.85,0.85 0 1,0 -1.7,0M477.3,149.1a0.85,0.85 0 1,0 1.7,0a0.85,0.85 0 1,0 -1.7,0M504.0,149.0a0.85,0.85 0 1,0 1.7,0a0.85,0.85 0 1,0 -1.7,0M562.6,147.0a0.85,0.85 0 1,0 1.7,0a0.85,0.85 0 1,0 -1.7,0M530.2,149.0a0.85,0.85 0 1,0 1.7,0a0.85,0.85 0 1,0 -1.7,0M562.4,147.6a0.85,0.85 0 1,0 1.7,0a0.85,0.85 0 1,0 -1.7,0M494.3,148.2a0.85,0.85 0 1,0 1.7,0a0.85,0.85 0 1,0 -1.7,0M585.2,147.4a0.85,0.85 0 1,0 1.7,0a0.85,0.85 0 1,0 -1.7,0M629.8,148.4a0.85,0.85 0 1,0 1.7,0a0.85,0.85 0 1,0 -1.7,0M631.0,149.3a0.85,0.85 0 1,0 1.7,0a0.85,0.85 0 1,0 -1.7,0M606.7,146.7a0.85,0.85 0 1,0 1.7,0a0.85,0.85 0 1,0 -1.7,0M640.6,146.8a0.85,0.85 0 1,0 1.7,0a0.85,0.85 0 1,0 -1.7,0M517.5,146.9a0.85,0.85 0 1,0 1.7,0a0.85,0.85 0 1,0 -1.7,0M497.2,146.8a0.85,0.85 0 1,0 1.7,0a0.85,0.85 0 1,0 -1.7,0M637.4,148.7a0.85,0.85 0 1,0 1.7,0a0.85,0.85 0 1,0 -1.7,0M501.7,147.7a0.85,0.85 0 1,0 1.7,0a0.85,0.85 0 1,0 -1.7,0M505.9,149.1a0.85,0.85 0 1,0 1.7,0a0.85,0.85 0 1,0 -1.7,0M625.8,148.9a0.85,0.85 0 1,0 1.7,0a0.85,0.85 0 1,0 -1.7,0M617.0,149.1a0.85,0.85 0 1,0 1.7,0a0.85,0.85 0 1,0 -1.7,0M535.9,148.1a0.85,0.85 0 1,0 1.7,0a0.85,0.85 0 1,0 -1.7,0M455.3,150.3a0.85,0.85 0 1,0 1.7,0a0.85,0.85 0 1,0 -1.7,0M594.4,146.1a0.85,0.85 0 1,0 1.7,0a0.85,0.85 0 1,0 -1.7,0M654.3,146.0a0.85,0.85 0 1,0 1.7,0a0.85,0.85 0 1,0 -1.7,0M557.4,146.1a0.85,0.85 0 1,0 1.7,0a0.85,0.85 0 1,0 -1.7,0M556.8,146.3a0.85,0.85 0 1,0 1.7,0a0.85,0.85 0 1,0 -1.7,0M491.1,149.5a0.85,0.85 0 1,0 1.7,0a0.85,0.85 0 1,0 -1.7,0M473.8,150.2a0.85,0.85 0 1,0 1.7,0a0.85,0.85 0 1,0 -1.7,0M567.1,147.1a0.85,0.85 0 1,0 1.7,0a0.85,0.85 0 1,0 -1.7,0M570.6,148.3a0.85,0.85 0 1,0 1.7,0a0.85,0.85 0 1,0 -1.7,0M490.2,149.3a0.85,0.85 0 1,0 1.7,0a0.85,0.85 0 1,0 -1.7,0M627.5,147.0a0.85,0.85 0 1,0 1.7,0a0.85,0.85 0 1,0 -1.7,0M645.6,146.1a0.85,0.85 0 1,0 1.7,0a0.85,0.85 0 1,0 -1.7,0M464.5,148.0a0.85,0.85 0 1,0 1.7,0a0.85,0.85 0 1,0 -1.7,0M548.3,147.1a0.85,0.85 0 1,0 1.7,0a0.85,0.85 0 1,0 -1.7,0M520.0,148.8a0.85,0.85 0 1,0 1.7,0a0.85,0.85 0 1,0 -1.7,0M559.5,147.1a0.85,0.85 0 1,0 1.7,0a0.85,0.85 0 1,0 -1.7,0M577.4,148.4a0.85,0.85 0 1,0 1.7,0a0.85,0.85 0 1,0 -1.7,0M598.3,146.4a0.85,0.85 0 1,0 1.7,0a0.85,0.85 0 1,0 -1.7,0M489.5,148.8a0.85,0.85 0 1,0 1.7,0a0.85,0.85 0 1,0 -1.7,0M606.4,147.9a0.85,0.85 0 1,0 1.7,0a0.85,0.85 0 1,0 -1.7,0M492.4,149.4a0.85,0.85 0 1,0 1.7,0a0.85,0.85 0 1,0 -1.7,0M558.9,147.8a0.85,0.85 0 1,0 1.7,0a0.85,0.85 0 1,0 -1.7,0M638.6,146.2a0.85,0.85 0 1,0 1.7,0a0.85,0.85 0 1,0 -1.7,0M599.1,146.3a0.85,0.85 0 1,0 1.7,0a0.85,0.85 0 1,0 -1.7,0M583.3,147.7a0.85,0.85 0 1,0 1.7,0a0.85,0.85 0 1,0 -1.7,0M577.1,147.5a0.85,0.85 0 1,0 1.7,0a0.85,0.85 0 1,0 -1.7,0M657.3,144.2a0.85,0.85 0 1,0 1.7,0a0.85,0.85 0 1,0 -1.7,0M505.6,147.0a0.85,0.85 0 1,0 1.7,0a0.85,0.85 0 1,0 -1.7,0M607.4,146.8a0.85,0.85 0 1,0 1.7,0a0.85,0.85 0 1,0 -1.7,0M622.1,148.9a0.85,0.85 0 1,0 1.7,0a0.85,0.85 0 1,0 -1.7,0M639.3,145.5a0.85,0.85 0 1,0 1.7,0a0.85,0.85 0 1,0 -1.7,0M597.0,146.7a0.85,0.85 0 1,0 1.7,0a0.85,0.85 0 1,0 -1.7,0M611.8,148.1a0.85,0.85 0 1,0 1.7,0a0.85,0.85 0 1,0 -1.7,0M602.9,148.5a0.85,0.85 0 1,0 1.7,0a0.85,0.85 0 1,0 -1.7,0M523.1,148.9a0.85,0.85 0 1,0 1.7,0a0.85,0.85 0 1,0 -1.7,0M453.8,150.0a0.85,0.85 0 1,0 1.7,0a0.85,0.85 0 1,0 -1.7,0M585.3,147.1a0.85,0.85 0 1,0 1.7,0a0.85,0.85 0 1,0 -1.7,0M500.2,147.0a0.85,0.85 0 1,0 1.7,0a0.85,0.85 0 1,0 -1.7,0M591.0,147.9a0.85,0.85 0 1,0 1.7,0a0.85,0.85 0 1,0 -1.7,0M589.7,147.3a0.85,0.85 0 1,0 1.7,0a0.85,0.85 0 1,0 -1.7,0M563.2,147.2a0.85,0.85 0 1,0 1.7,0a0.85,0.85 0 1,0 -1.7,0M660.9,144.7a0.85,0.85 0 1,0 1.7,0a0.85,0.85 0 1,0 -1.7,0M598.4,146.7a0.85,0.85 0 1,0 1.7,0a0.85,0.85 0 1,0 -1.7,0M656.8,146.0a0.85,0.85 0 1,0 1.7,0a0.85,0.85 0 1,0 -1.7,0M580.4,146.7a0.85,0.85 0 1,0 1.7,0a0.85,0.85 0 1,0 -1.7,0M505.3,148.6a0.85,0.85 0 1,0 1.7,0a0.85,0.85 0 1,0 -1.7,0M462.1,150.3a0.85,0.85 0 1,0 1.7,0a0.85,0.85 0 1,0 -1.7,0M530.2,149.6a0.85,0.85 0 1,0 1.7,0a0.85,0.85 0 1,0 -1.7,0M504.1,147.0a0.85,0.85 0 1,0 1.7,0a0.85,0.85 0 1,0 -1.7,0M566.7,147.1a0.85,0.85 0 1,0 1.7,0a0.85,0.85 0 1,0 -1.7,0M654.1,145.0a0.85,0.85 0 1,0 1.7,0a0.85,0.85 0 1,0 -1.7,0M659.9,144.7a0.85,0.85 0 1,0 1.7,0a0.85,0.85 0 1,0 -1.7,0M621.1,149.5a0.85,0.85 0 1,0 1.7,0a0.85,0.85 0 1,0 -1.7,0M576.7,146.7a0.85,0.85 0 1,0 1.7,0a0.85,0.85 0 1,0 -1.7,0M461.0,148.2a0.85,0.85 0 1,0 1.7,0a0.85,0.85 0 1,0 -1.7,0M485.0,148.9a0.85,0.85 0 1,0 1.7,0a0.85,0.85 0 1,0 -1.7,0M487.0,148.8a0.85,0.85 0 1,0 1.7,0a0.85,0.85 0 1,0 -1.7,0M579.5,148.4a0.85,0.85 0 1,0 1.7,0a0.85,0.85 0 1,0 -1.7,0M649.5,145.4a0.85,0.85 0 1,0 1.7,0a0.85,0.85 0 1,0 -1.7,0M561.9,146.6a0.85,0.85 0 1,0 1.7,0a0.85,0.85 0 1,0 -1.7,0M528.1,149.3a0.85,0.85 0 1,0 1.7,0a0.85,0.85 0 1,0 -1.7,0M588.7,147.3a0.85,0.85 0 1,0 1.7,0a0.85,0.85 0 1,0 -1.7,0M510.9,147.5a0.85,0.85 0 1,0 1.7,0a0.85,0.85 0 1,0 -1.7,0M513.5,149.1a0.85,0.85 0 1,0 1.7,0a0.85,0.85 0 1,0 -1.7,0M502.9,149.3a0.85,0.85 0 1,0 1.7,0a0.85,0.85 0 1,0 -1.7,0M484.3,148.1a0.85,0.85 0 1,0 1.7,0a0.85,0.85 0 1,0 -1.7,0M533.2,147.4a0.85,0.85 0 1,0 1.7,0a0.85,0.85 0 1,0 -1.7,0M608.3,148.6a0.85,0.85 0 1,0 1.7,0a0.85,0.85 0 1,0 -1.7,0M658.6,143.6a0.85,0.85 0 1,0 1.7,0a0.85,0.85 0 1,0 -1.7,0M466.9,148.2a0.85,0.85 0 1,0 1.7,0a0.85,0.85 0 1,0 -1.7,0M541.5,148.7a0.85,0.85 0 1,0 1.7,0a0.85,0.85 0 1,0 -1.7,0M655.3,145.8a0.85,0.85 0 1,0 1.7,0a0.85,0.85 0 1,0 -1.7,0M561.1,145.4a0.85,0.85 0 1,0 1.7,0a0.85,0.85 0 1,0 -1.7,0M602.9,147.7a0.85,0.85 0 1,0 1.7,0a0.85,0.85 0 1,0 -1.7,0M656.5,144.1a0.85,0.85 0 1,0 1.7,0a0.85,0.85 0 1,0 -1.7,0M577.9,148.3a0.85,0.85 0 1,0 1.7,0a0.85,0.85 0 1,0 -1.7,0M582.3,147.6a0.85,0.85 0 1,0 1.7,0a0.85,0.85 0 1,0 -1.7,0M494.2,149.5a0.85,0.85 0 1,0 1.7,0a0.85,0.85 0 1,0 -1.7,0M562.1,147.7a0.85,0.85 0 1,0 1.7,0a0.85,0.85 0 1,0 -1.7,0M544.3,148.1a0.85,0.85 0 1,0 1.7,0a0.85,0.85 0 1,0 -1.7,0M546.9,148.7a0.85,0.85 0 1,0 1.7,0a0.85,0.85 0 1,0 -1.7,0M573.5,147.7a0.85,0.85 0 1,0 1.7,0a0.85,0.85 0 1,0 -1.7,0M614.5,147.8a0.85,0.85 0 1,0 1.7,0a0.85,0.85 0 1,0 -1.7,0M660.5,143.6a0.85,0.85 0 1,0 1.7,0a0.85,0.85 0 1,0 -1.7,0M605.3,148.3a0.85,0.85 0 1,0 1.7,0a0.85,0.85 0 1,0 -1.7,0M475.4,148.0a0.85,0.85 0 1,0 1.7,0a0.85,0.85 0 1,0 -1.7,0M615.8,147.8a0.85,0.85 0 1,0 1.7,0a0.85,0.85 0 1,0 -1.7,0M526.8,149.4a0.85,0.85 0 1,0 1.7,0a0.85,0.85 0 1,0 -1.7,0M595.0,147.3a0.85,0.85 0 1,0 1.7,0a0.85,0.85 0 1,0 -1.7,0M575.4,147.1a0.85,0.85 0 1,0 1.7,0a0.85,0.85 0 1,0 -1.7,0M609.3,148.5a0.85,0.85 0 1,0 1.7,0a0.85,0.85 0 1,0 -1.7,0M503.7,146.8a0.85,0.85 0 1,0 1.7,0a0.85,0.85 0 1,0 -1.7,0M643.3,144.3a0.85,0.85 0 1,0 1.7,0a0.85,0.85 0 1,0 -1.7,0M459.8,150.5a0.85,0.85 0 1,0 1.7,0a0.85,0.85 0 1,0 -1.7,0M508.3,148.5a0.85,0.85 0 1,0 1.7,0a0.85,0.85 0 1,0 -1.7,0M582.1,148.3a0.85,0.85 0 1,0 1.7,0a0.85,0.85 0 1,0 -1.7,0M565.0,147.7a0.85,0.85 0 1,0 1.7,0a0.85,0.85 0 1,0 -1.7,0M469.7,148.9a0.85,0.85 0 1,0 1.7,0a0.85,0.85 0 1,0 -1.7,0M566.9,146.8a0.85,0.85 0 1,0 1.7,0a0.85,0.85 0 1,0 -1.7,0M529.7,148.8a0.85,0.85 0 1,0 1.7,0a0.85,0.85 0 1,0 -1.7,0M495.7,148.9a0.85,0.85 0 1,0 1.7,0a0.85,0.85 0 1,0 -1.7,0M607.5,146.6a0.85,0.85 0 1,0 1.7,0a0.85,0.85 0 1,0 -1.7,0M467.1,150.3a0.85,0.85 0 1,0 1.7,0a0.85,0.85 0 1,0 -1.7,0M621.0,148.3a0.85,0.85 0 1,0 1.7,0a0.85,0.85 0 1,0 -1.7,0M612.5,148.5a0.85,0.85 0 1,0 1.7,0a0.85,0.85 0 1,0 -1.7,0M540.4,149.2a0.85,0.85 0 1,0 1.7,0a0.85,0.85 0 1,0 -1.7,0M621.1,149.0a0.85,0.85 0 1,0 1.7,0a0.85,0.85 0 1,0 -1.7,0M588.4,145.8a0.85,0.85 0 1,0 1.7,0a0.85,0.85 0 1,0 -1.7,0M519.7,148.5a0.85,0.85 0 1,0 1.7,0a0.85,0.85 0 1,0 -1.7,0M607.8,146.3a0.85,0.85 0 1,0 1.7,0a0.85,0.85 0 1,0 -1.7,0M541.1,149.0a0.85,0.85 0 1,0 1.7,0a0.85,0.85 0 1,0 -1.7,0M471.9,148.2a0.85,0.85 0 1,0 1.7,0a0.85,0.85 0 1,0 -1.7,0M468.0,150.4a0.85,0.85 0 1,0 1.7,0a0.85,0.85 0 1,0 -1.7,0M569.7,147.5a0.85,0.85 0 1,0 1.7,0a0.85,0.85 0 1,0 -1.7,0M595.1,148.0a0.85,0.85 0 1,0 1.7,0a0.85,0.85 0 1,0 -1.7,0M613.9,148.7a0.85,0.85 0 1,0 1.7,0a0.85,0.85 0 1,0 -1.7,0M496.2,148.0a0.85,0.85 0 1,0 1.7,0a0.85,0.85 0 1,0 -1.7,0M468.7,150.0a0.85,0.85 0 1,0 1.7,0a0.85,0.85 0 1,0 -1.7,0M603.4,147.0a0.85,0.85 0 1,0 1.7,0a0.85,0.85 0 1,0 -1.7,0M510.8,149.0a0.85,0.85 0 1,0 1.7,0a0.85,0.85 0 1,0 -1.7,0M526.5,148.1a0.85,0.85 0 1,0 1.7,0a0.85,0.85 0 1,0 -1.7,0M528.3,149.6a0.85,0.85 0 1,0 1.7,0a0.85,0.85 0 1,0 -1.7,0M600.1,147.3a0.85,0.85 0 1,0 1.7,0a0.85,0.85 0 1,0 -1.7,0M643.9,143.9a0.85,0.85 0 1,0 1.7,0a0.85,0.85 0 1,0 -1.7,0M642.8,145.8a0.85,0.85 0 1,0 1.7,0a0.85,0.85 0 1,0 -1.7,0M619.7,149.2a0.85,0.85 0 1,0 1.7,0a0.85,0.85 0 1,0 -1.7,0M518.1,148.6a0.85,0.85 0 1,0 1.7,0a0.85,0.85 0 1,0 -1.7,0M647.3,144.0a0.85,0.85 0 1,0 1.7,0a0.85,0.85 0 1,0 -1.7,0M503.5,148.7a0.85,0.85 0 1,0 1.7,0a0.85,0.85 0 1,0 -1.7,0M528.1,149.1a0.85,0.85 0 1,0 1.7,0a0.85,0.85 0 1,0 -1.7,0M534.4,149.0a0.85,0.85 0 1,0 1.7,0a0.85,0.85 0 1,0 -1.7,0M492.4,148.4a0.85,0.85 0 1,0 1.7,0a0.85,0.85 0 1,0 -1.7,0M618.5,148.5a0.85,0.85 0 1,0 1.7,0a0.85,0.85 0 1,0 -1.7,0M626.7,148.5a0.85,0.85 0 1,0 1.7,0a0.85,0.85 0 1,0 -1.7,0M488.5,147.9a0.85,0.85 0 1,0 1.7,0a0.85,0.85 0 1,0 -1.7,0M636.0,149.2a0.85,0.85 0 1,0 1.7,0a0.85,0.85 0 1,0 -1.7,0M456.2,149.6a0.85,0.85 0 1,0 1.7,0a0.85,0.85 0 1,0 -1.7,0M565.5,146.7a0.85,0.85 0 1,0 1.7,0a0.85,0.85 0 1,0 -1.7,0M653.9,144.7a0.85,0.85 0 1,0 1.7,0a0.85,0.85 0 1,0 -1.7,0M620.0,149.6a0.85,0.85 0 1,0 1.7,0a0.85,0.85 0 1,0 -1.7,0M566.1,146.1a0.85,0.85 0 1,0 1.7,0a0.85,0.85 0 1,0 -1.7,0M469.1,150.3a0.85,0.85 0 1,0 1.7,0a0.85,0.85 0 1,0 -1.7,0M605.9,146.4a0.85,0.85 0 1,0 1.7,0a0.85,0.85 0 1,0 -1.7,0M469.3,149.1a0.85,0.85 0 1,0 1.7,0a0.85,0.85 0 1,0 -1.7,0M481.7,148.2a0.85,0.85 0 1,0 1.7,0a0.85,0.85 0 1,0 -1.7,0M587.5,148.1a0.85,0.85 0 1,0 1.7,0a0.85,0.85 0 1,0 -1.7,0M497.7,147.7a0.85,0.85 0 1,0 1.7,0a0.85,0.85 0 1,0 -1.7,0M560.8,146.1a0.85,0.85 0 1,0 1.7,0a0.85,0.85 0 1,0 -1.7,0M534.1,149.1a0.85,0.85 0 1,0 1.7,0a0.85,0.85 0 1,0 -1.7,0M654.3,144.6a0.85,0.85 0 1,0 1.7,0a0.85,0.85 0 1,0 -1.7,0M554.9,146.8a0.85,0.85 0 1,0 1.7,0a0.85,0.85 0 1,0 -1.7,0M602.5,146.9a0.85,0.85 0 1,0 1.7,0a0.85,0.85 0 1,0 -1.7,0M643.1,145.8a0.85,0.85 0 1,0 1.7,0a0.85,0.85 0 1,0 -1.7,0M624.6,148.2a0.85,0.85 0 1,0 1.7,0a0.85,0.85 0 1,0 -1.7,0M630.3,147.7a0.85,0.85 0 1,0 1.7,0a0.85,0.85 0 1,0 -1.7,0M626.2,147.4a0.85,0.85 0 1,0 1.7,0a0.85,0.85 0 1,0 -1.7,0M652.1,144.8a0.85,0.85 0 1,0 1.7,0a0.85,0.85 0 1,0 -1.7,0M561.2,146.2a0.85,0.85 0 1,0 1.7,0a0.85,0.85 0 1,0 -1.7,0M619.5,148.9a0.85,0.85 0 1,0 1.7,0a0.85,0.85 0 1,0 -1.7,0M539.6,149.4a0.85,0.85 0 1,0 1.7,0a0.85,0.85 0 1,0 -1.7,0M606.8,146.0a0.85,0.85 0 1,0 1.7,0a0.85,0.85 0 1,0 -1.7,0M530.2,149.5a0.85,0.85 0 1,0 1.7,0a0.85,0.85 0 1,0 -1.7,0M494.3,148.8a0.85,0.85 0 1,0 1.7,0a0.85,0.85 0 1,0 -1.7,0M512.7,146.6a0.85,0.85 0 1,0 1.7,0a0.85,0.85 0 1,0 -1.7,0M463.9,150.0a0.85,0.85 0 1,0 1.7,0a0.85,0.85 0 1,0 -1.7,0M475.6,148.8a0.85,0.85 0 1,0 1.7,0a0.85,0.85 0 1,0 -1.7,0M614.0,148.6a0.85,0.85 0 1,0 1.7,0a0.85,0.85 0 1,0 -1.7,0M464.6,149.6a0.85,0.85 0 1,0 1.7,0a0.85,0.85 0 1,0 -1.7,0M573.9,146.1a0.85,0.85 0 1,0 1.7,0a0.85,0.85 0 1,0 -1.7,0M459.2,150.4a0.85,0.85 0 1,0 1.7,0a0.85,0.85 0 1,0 -1.7,0M490.2,149.3a0.85,0.85 0 1,0 1.7,0a0.85,0.85 0 1,0 -1.7,0M500.8,147.8a0.85,0.85 0 1,0 1.7,0a0.85,0.85 0 1,0 -1.7,0M576.1,148.1a0.85,0.85 0 1,0 1.7,0a0.85,0.85 0 1,0 -1.7,0M490.3,149.2a0.85,0.85 0 1,0 1.7,0a0.85,0.85 0 1,0 -1.7,0M487.7,147.9a0.85,0.85 0 1,0 1.7,0a0.85,0.85 0 1,0 -1.7,0M516.8,148.1a0.85,0.85 0 1,0 1.7,0a0.85,0.85 0 1,0 -1.7,0M622.7,148.7a0.85,0.85 0 1,0 1.7,0a0.85,0.85 0 1,0 -1.7,0M506.1,147.0a0.85,0.85 0 1,0 1.7,0a0.85,0.85 0 1,0 -1.7,0M643.0,146.0a0.85,0.85 0 1,0 1.7,0a0.85,0.85 0 1,0 -1.7,0M566.2,145.5a0.85,0.85 0 1,0 1.7,0a0.85,0.85 0 1,0 -1.7,0M552.6,147.5a0.85,0.85 0 1,0 1.7,0a0.85,0.85 0 1,0 -1.7,0M462.0,148.1a0.85,0.85 0 1,0 1.7,0a0.85,0.85 0 1,0 -1.7,0M619.4,149.0a0.85,0.85 0 1,0 1.7,0a0.85,0.85 0 1,0 -1.7,0M562.0,146.8a0.85,0.85 0 1,0 1.7,0a0.85,0.85 0 1,0 -1.7,0M509.0,146.6a0.85,0.85 0 1,0 1.7,0a0.85,0.85 0 1,0 -1.7,0M589.2,148.1a0.85,0.85 0 1,0 1.7,0a0.85,0.85 0 1,0 -1.7,0M453.8,149.7a0.85,0.85 0 1,0 1.7,0a0.85,0.85 0 1,0 -1.7,0M529.4,147.8a0.85,0.85 0 1,0 1.7,0a0.85,0.85 0 1,0 -1.7,0M600.9,147.2a0.85,0.85 0 1,0 1.7,0a0.85,0.85 0 1,0 -1.7,0M484.5,149.6a0.85,0.85 0 1,0 1.7,0a0.85,0.85 0 1,0 -1.7,0M518.9,149.1a0.85,0.85 0 1,0 1.7,0a0.85,0.85 0 1,0 -1.7,0M633.6,148.6a0.85,0.85 0 1,0 1.7,0a0.85,0.85 0 1,0 -1.7,0M584.9,145.8a0.85,0.85 0 1,0 1.7,0a0.85,0.85 0 1,0 -1.7,0M507.4,148.2a0.85,0.85 0 1,0 1.7,0a0.85,0.85 0 1,0 -1.7,0M483.1,148.1a0.85,0.85 0 1,0 1.7,0a0.85,0.85 0 1,0 -1.7,0M451.8,148.7a0.85,0.85 0 1,0 1.7,0a0.85,0.85 0 1,0 -1.7,0M628.7,147.7a0.85,0.85 0 1,0 1.7,0a0.85,0.85 0 1,0 -1.7,0M468.8,150.0a0.85,0.85 0 1,0 1.7,0a0.85,0.85 0 1,0 -1.7,0M601.6,148.4a0.85,0.85 0 1,0 1.7,0a0.85,0.85 0 1,0 -1.7,0M552.1,147.0a0.85,0.85 0 1,0 1.7,0a0.85,0.85 0 1,0 -1.7,0M651.6,144.9a0.85,0.85 0 1,0 1.7,0a0.85,0.85 0 1,0 -1.7,0M631.1,149.2a0.85,0.85 0 1,0 1.7,0a0.85,0.85 0 1,0 -1.7,0M616.8,148.5a0.85,0.85 0 1,0 1.7,0a0.85,0.85 0 1,0 -1.7,0M643.5,146.3a0.85,0.85 0 1,0 1.7,0a0.85,0.85 0 1,0 -1.7,0M624.6,149.4a0.85,0.85 0 1,0 1.7,0a0.85,0.85 0 1,0 -1.7,0M565.3,146.8a0.85,0.85 0 1,0 1.7,0a0.85,0.85 0 1,0 -1.7,0M484.5,147.8a0.85,0.85 0 1,0 1.7,0a0.85,0.85 0 1,0 -1.7,0M516.8,148.6a0.85,0.85 0 1,0 1.7,0a0.85,0.85 0 1,0 -1.7,0M467.5,150.0a0.85,0.85 0 1,0 1.7,0a0.85,0.85 0 1,0 -1.7,0M549.4,147.1a0.85,0.85 0 1,0 1.7,0a0.85,0.85 0 1,0 -1.7,0M526.9,148.2a0.85,0.85 0 1,0 1.7,0a0.85,0.85 0 1,0 -1.7,0M473.7,149.6a0.85,0.85 0 1,0 1.7,0a0.85,0.85 0 1,0 -1.7,0M548.2,146.4a0.85,0.85 0 1,0 1.7,0a0.85,0.85 0 1,0 -1.7,0M625.3,148.2a0.85,0.85 0 1,0 1.7,0a0.85,0.85 0 1,0 -1.7,0M454.1,150.0a0.85,0.85 0 1,0 1.7,0a0.85,0.85 0 1,0 -1.7,0M600.2,148.1a0.85,0.85 0 1,0 1.7,0a0.85,0.85 0 1,0 -1.7,0M569.7,147.6a0.85,0.85 0 1,0 1.7,0a0.85,0.85 0 1,0 -1.7,0M453.7,148.0a0.85,0.85 0 1,0 1.7,0a0.85,0.85 0 1,0 -1.7,0M619.0,149.3a0.85,0.85 0 1,0 1.7,0a0.85,0.85 0 1,0 -1.7,0M580.6,148.0a0.85,0.85 0 1,0 1.7,0a0.85,0.85 0 1,0 -1.7,0M530.3,148.6a0.85,0.85 0 1,0 1.7,0a0.85,0.85 0 1,0 -1.7,0M514.0,148.5a0.85,0.85 0 1,0 1.7,0a0.85,0.85 0 1,0 -1.7,0M533.7,148.2a0.85,0.85 0 1,0 1.7,0a0.85,0.85 0 1,0 -1.7,0M505.2,149.0a0.85,0.85 0 1,0 1.7,0a0.85,0.85 0 1,0 -1.7,0M604.7,148.1a0.85,0.85 0 1,0 1.7,0a0.85,0.85 0 1,0 -1.7,0M649.4,145.0a0.85,0.85 0 1,0 1.7,0a0.85,0.85 0 1,0 -1.7,0M603.1,148.0a0.85,0.85 0 1,0 1.7,0a0.85,0.85 0 1,0 -1.7,0M624.7,149.5a0.85,0.85 0 1,0 1.7,0a0.85,0.85 0 1,0 -1.7,0M481.0,149.8a0.85,0.85 0 1,0 1.7,0a0.85,0.85 0 1,0 -1.7,0M593.5,146.9a0.85,0.85 0 1,0 1.7,0a0.85,0.85 0 1,0 -1.7,0M489.2,148.9a0.85,0.85 0 1,0 1.7,0a0.85,0.85 0 1,0 -1.7,0M626.8,148.4a0.85,0.85 0 1,0 1.7,0a0.85,0.85 0 1,0 -1.7,0M470.4,150.1a0.85,0.85 0 1,0 1.7,0a0.85,0.85 0 1,0 -1.7,0M484.4,149.7a0.85,0.85 0 1,0 1.7,0a0.85,0.85 0 1,0 -1.7,0M536.7,149.5a0.85,0.85 0 1,0 1.7,0a0.85,0.85 0 1,0 -1.7,0M644.3,145.5a0.85,0.85 0 1,0 1.7,0a0.85,0.85 0 1,0 -1.7,0M558.7,146.4a0.85,0.85 0 1,0 1.7,0a0.85,0.85 0 1,0 -1.7,0M612.1,146.8a0.85,0.85 0 1,0 1.7,0a0.85,0.85 0 1,0 -1.7,0M532.4,149.2a0.85,0.85 0 1,0 1.7,0a0.85,0.85 0 1,0 -1.7,0M537.9,149.6a0.85,0.85 0 1,0 1.7,0a0.85,0.85 0 1,0 -1.7,0M535.5,148.1a0.85,0.85 0 1,0 1.7,0a0.85,0.85 0 1,0 -1.7,0M657.2,144.2a0.85,0.85 0 1,0 1.7,0a0.85,0.85 0 1,0 -1.7,0M589.8,147.2a0.85,0.85 0 1,0 1.7,0a0.85,0.85 0 1,0 -1.7,0M455.4,150.1a0.85,0.85 0 1,0 1.7,0a0.85,0.85 0 1,0 -1.7,0M523.2,148.4a0.85,0.85 0 1,0 1.7,0a0.85,0.85 0 1,0 -1.7,0M473.8,149.6a0.85,0.85 0 1,0 1.7,0a0.85,0.85 0 1,0 -1.7,0M558.2,146.0a0.85,0.85 0 1,0 1.7,0a0.85,0.85 0 1,0 -1.7,0M624.3,148.4a0.85,0.85 0 1,0 1.7,0a0.85,0.85 0 1,0 -1.7,0M484.7,148.0a0.85,0.85 0 1,0 1.7,0a0.85,0.85 0 1,0 -1.7,0M640.6,146.2a0.85,0.85 0 1,0 1.7,0a0.85,0.85 0 1,0 -1.7,0M525.4,148.8a0.85,0.85 0 1,0 1.7,0a0.85,0.85 0 1,0 -1.7,0M481.2,148.3a0.85,0.85 0 1,0 1.7,0a0.85,0.85 0 1,0 -1.7,0M658.2,145.1a0.85,0.85 0 1,0 1.7,0a0.85,0.85 0 1,0 -1.7,0M601.4,146.5a0.85,0.85 0 1,0 1.7,0a0.85,0.85 0 1,0 -1.7,0M492.8,147.1a0.85,0.85 0 1,0 1.7,0a0.85,0.85 0 1,0 -1.7,0M582.9,148.2a0.85,0.85 0 1,0 1.7,0a0.85,0.85 0 1,0 -1.7,0M469.0,150.1a0.85,0.85 0 1,0 1.7,0a0.85,0.85 0 1,0 -1.7,0M572.3,146.9a0.85,0.85 0 1,0 1.7,0a0.85,0.85 0 1,0 -1.7,0M520.5,147.4a0.85,0.85 0 1,0 1.7,0a0.85,0.85 0 1,0 -1.7,0M527.2,148.9a0.85,0.85 0 1,0 1.7,0a0.85,0.85 0 1,0 -1.7,0M477.5,147.6a0.85,0.85 0 1,0 1.7,0a0.85,0.85 0 1,0 -1.7,0M479.9,147.7a0.85,0.85 0 1,0 1.7,0a0.85,0.85 0 1,0 -1.7,0M565.3,146.7a0.85,0.85 0 1,0 1.7,0a0.85,0.85 0 1,0 -1.7,0M568.9,148.0a0.85,0.85 0 1,0 1.7,0a0.85,0.85 0 1,0 -1.7,0M642.0,144.3a0.85,0.85 0 1,0 1.7,0a0.85,0.85 0 1,0 -1.7,0M622.7,148.4a0.85,0.85 0 1,0 1.7,0a0.85,0.85 0 1,0 -1.7,0M477.2,148.1a0.85,0.85 0 1,0 1.7,0a0.85,0.85 0 1,0 -1.7,0M512.0,146.9a0.85,0.85 0 1,0 1.7,0a0.85,0.85 0 1,0 -1.7,0M502.0,148.2a0.85,0.85 0 1,0 1.7,0a0.85,0.85 0 1,0 -1.7,0M625.5,149.4a0.85,0.85 0 1,0 1.7,0a0.85,0.85 0 1,0 -1.7,0M566.3,147.9a0.85,0.85 0 1,0 1.7,0a0.85,0.85 0 1,0 -1.7,0M458.3,150.3a0.85,0.85 0 1,0 1.7,0a0.85,0.85 0 1,0 -1.7,0M658.2,143.7a0.85,0.85 0 1,0 1.7,0a0.85,0.85 0 1,0 -1.7,0M589.4,148.0a0.85,0.85 0 1,0 1.7,0a0.85,0.85 0 1,0 -1.7,0M592.1,146.8a0.85,0.85 0 1,0 1.7,0a0.85,0.85 0 1,0 -1.7,0M531.5,148.5a0.85,0.85 0 1,0 1.7,0a0.85,0.85 0 1,0 -1.7,0M619.9,149.6a0.85,0.85 0 1,0 1.7,0a0.85,0.85 0 1,0 -1.7,0M493.3,148.7a0.85,0.85 0 1,0 1.7,0a0.85,0.85 0 1,0 -1.7,0M481.5,149.3a0.85,0.85 0 1,0 1.7,0a0.85,0.85 0 1,0 -1.7,0M570.8,148.2a0.85,0.85 0 1,0 1.7,0a0.85,0.85 0 1,0 -1.7,0M560.4,147.4a0.85,0.85 0 1,0 1.7,0a0.85,0.85 0 1,0 -1.7,0M570.5,147.9a0.85,0.85 0 1,0 1.7,0a0.85,0.85 0 1,0 -1.7,0M585.9,148.4a0.85,0.85 0 1,0 1.7,0a0.85,0.85 0 1,0 -1.7,0M592.1,148.3a0.85,0.85 0 1,0 1.7,0a0.85,0.85 0 1,0 -1.7,0M652.4,144.9a0.85,0.85 0 1,0 1.7,0a0.85,0.85 0 1,0 -1.7,0M549.9,147.9a0.85,0.85 0 1,0 1.7,0a0.85,0.85 0 1,0 -1.7,0M582.2,146.9a0.85,0.85 0 1,0 1.7,0a0.85,0.85 0 1,0 -1.7,0M610.3,147.0a0.85,0.85 0 1,0 1.7,0a0.85,0.85 0 1,0 -1.7,0M553.3,145.2a0.85,0.85 0 1,0 1.7,0a0.85,0.85 0 1,0 -1.7,0M627.1,147.5a0.85,0.85 0 1,0 1.7,0a0.85,0.85 0 1,0 -1.7,0M537.2,148.8a0.85,0.85 0 1,0 1.7,0a0.85,0.85 0 1,0 -1.7,0M570.1,146.2a0.85,0.85 0 1,0 1.7,0a0.85,0.85 0 1,0 -1.7,0M561.7,146.8a0.85,0.85 0 1,0 1.7,0a0.85,0.85 0 1,0 -1.7,0M542.1,147.3a0.85,0.85 0 1,0 1.7,0a0.85,0.85 0 1,0 -1.7,0M518.7,149.4a0.85,0.85 0 1,0 1.7,0a0.85,0.85 0 1,0 -1.7,0M603.5,146.3a0.85,0.85 0 1,0 1.7,0a0.85,0.85 0 1,0 -1.7,0M604.8,147.4a0.85,0.85 0 1,0 1.7,0a0.85,0.85 0 1,0 -1.7,0M609.0,148.2a0.85,0.85 0 1,0 1.7,0a0.85,0.85 0 1,0 -1.7,0M575.8,148.4a0.85,0.85 0 1,0 1.7,0a0.85,0.85 0 1,0 -1.7,0M477.6,149.3a0.85,0.85 0 1,0 1.7,0a0.85,0.85 0 1,0 -1.7,0M556.8,147.2a0.85,0.85 0 1,0 1.7,0a0.85,0.85 0 1,0 -1.7,0M462.4,149.0a0.85,0.85 0 1,0 1.7,0a0.85,0.85 0 1,0 -1.7,0M561.7,147.5a0.85,0.85 0 1,0 1.7,0a0.85,0.85 0 1,0 -1.7,0M515.7,148.4a0.85,0.85 0 1,0 1.7,0a0.85,0.85 0 1,0 -1.7,0M500.9,149.3a0.85,0.85 0 1,0 1.7,0a0.85,0.85 0 1,0 -1.7,0M642.4,144.3a0.85,0.85 0 1,0 1.7,0a0.85,0.85 0 1,0 -1.7,0M590.9,146.3a0.85,0.85 0 1,0 1.7,0a0.85,0.85 0 1,0 -1.7,0M539.8,147.7a0.85,0.85 0 1,0 1.7,0a0.85,0.85 0 1,0 -1.7,0M498.0,147.7a0.85,0.85 0 1,0 1.7,0a0.85,0.85 0 1,0 -1.7,0M570.2,146.2a0.85,0.85 0 1,0 1.7,0a0.85,0.85 0 1,0 -1.7,0M472.2,148.4a0.85,0.85 0 1,0 1.7,0a0.85,0.85 0 1,0 -1.7,0M477.5,149.0a0.85,0.85 0 1,0 1.7,0a0.85,0.85 0 1,0 -1.7,0M650.7,146.1a0.85,0.85 0 1,0 1.7,0a0.85,0.85 0 1,0 -1.7,0M502.6,148.9a0.85,0.85 0 1,0 1.7,0a0.85,0.85 0 1,0 -1.7,0M519.6,149.5a0.85,0.85 0 1,0 1.7,0a0.85,0.85 0 1,0 -1.7,0M639.0,145.9a0.85,0.85 0 1,0 1.7,0a0.85,0.85 0 1,0 -1.7,0M534.7,149.1a0.85,0.85 0 1,0 1.7,0a0.85,0.85 0 1,0 -1.7,0M574.2,148.4a0.85,0.85 0 1,0 1.7,0a0.85,0.85 0 1,0 -1.7,0M458.1,148.3a0.85,0.85 0 1,0 1.7,0a0.85,0.85 0 1,0 -1.7,0M516.0,148.1a0.85,0.85 0 1,0 1.7,0a0.85,0.85 0 1,0 -1.7,0M647.1,143.7a0.85,0.85 0 1,0 1.7,0a0.85,0.85 0 1,0 -1.7,0M550.5,148.2a0.85,0.85 0 1,0 1.7,0a0.85,0.85 0 1,0 -1.7,0M513.4,146.8a0.85,0.85 0 1,0 1.7,0a0.85,0.85 0 1,0 -1.7,0M639.3,147.4a0.85,0.85 0 1,0 1.7,0a0.85,0.85 0 1,0 -1.7,0M627.0,149.1a0.85,0.85 0 1,0 1.7,0a0.85,0.85 0 1,0 -1.7,0M550.5,148.3a0.85,0.85 0 1,0 1.7,0a0.85,0.85 0 1,0 -1.7,0M635.8,147.0a0.85,0.85 0 1,0 1.7,0a0.85,0.85 0 1,0 -1.7,0M493.9,148.2a0.85,0.85 0 1,0 1.7,0a0.85,0.85 0 1,0 -1.7,0M491.7,147.4a0.85,0.85 0 1,0 1.7,0a0.85,0.85 0 1,0 -1.7,0M462.0,150.4a0.85,0.85 0 1,0 1.7,0a0.85,0.85 0 1,0 -1.7,0M603.5,148.1a0.85,0.85 0 1,0 1.7,0a0.85,0.85 0 1,0 -1.7,0M640.1,145.3a0.85,0.85 0 1,0 1.7,0a0.85,0.85 0 1,0 -1.7,0M600.9,148.3a0.85,0.85 0 1,0 1.7,0a0.85,0.85 0 1,0 -1.7,0M597.3,146.0a0.85,0.85 0 1,0 1.7,0a0.85,0.85 0 1,0 -1.7,0M544.8,149.3a0.85,0.85 0 1,0 1.7,0a0.85,0.85 0 1,0 -1.7,0M498.3,149.0a0.85,0.85 0 1,0 1.7,0a0.85,0.85 0 1,0 -1.7,0M600.3,148.2a0.85,0.85 0 1,0 1.7,0a0.85,0.85 0 1,0 -1.7,0M489.5,149.3a0.85,0.85 0 1,0 1.7,0a0.85,0.85 0 1,0 -1.7,0M590.7,146.6a0.85,0.85 0 1,0 1.7,0a0.85,0.85 0 1,0 -1.7,0M529.6,148.3a0.85,0.85 0 1,0 1.7,0a0.85,0.85 0 1,0 -1.7,0M636.8,148.0a0.85,0.85 0 1,0 1.7,0a0.85,0.85 0 1,0 -1.7,0M499.5,148.9a0.85,0.85 0 1,0 1.7,0a0.85,0.85 0 1,0 -1.7,0M645.6,144.8a0.85,0.85 0 1,0 1.7,0a0.85,0.85 0 1,0 -1.7,0M509.5,147.8a0.85,0.85 0 1,0 1.7,0a0.85,0.85 0 1,0 -1.7,0M470.4,147.8a0.85,0.85 0 1,0 1.7,0a0.85,0.85 0 1,0 -1.7,0M543.8,148.5a0.85,0.85 0 1,0 1.7,0a0.85,0.85 0 1,0 -1.7,0M562.7,147.8a0.85,0.85 0 1,0 1.7,0a0.85,0.85 0 1,0 -1.7,0M577.1,148.0a0.85,0.85 0 1,0 1.7,0a0.85,0.85 0 1,0 -1.7,0M504.1,147.4a0.85,0.85 0 1,0 1.7,0a0.85,0.85 0 1,0 -1.7,0M469.8,150.0a0.85,0.85 0 1,0 1.7,0a0.85,0.85 0 1,0 -1.7,0M609.8,148.4a0.85,0.85 0 1,0 1.7,0a0.85,0.85 0 1,0 -1.7,0M510.0,148.1a0.85,0.85 0 1,0 1.7,0a0.85,0.85 0 1,0 -1.7,0M490.6,147.4a0.85,0.85 0 1,0 1.7,0a0.85,0.85 0 1,0 -1.7,0M658.4,146.0a0.85,0.85 0 1,0 1.7,0a0.85,0.85 0 1,0 -1.7,0M548.2,147.2a0.85,0.85 0 1,0 1.7,0a0.85,0.85 0 1,0 -1.7,0M532.1,147.3a0.85,0.85 0 1,0 1.7,0a0.85,0.85 0 1,0 -1.7,0M556.2,147.6a0.85,0.85 0 1,0 1.7,0a0.85,0.85 0 1,0 -1.7,0M568.0,146.9a0.85,0.85 0 1,0 1.7,0a0.85,0.85 0 1,0 -1.7,0M526.9,148.3a0.85,0.85 0 1,0 1.7,0a0.85,0.85 0 1,0 -1.7,0M615.5,148.1a0.85,0.85 0 1,0 1.7,0a0.85,0.85 0 1,0 -1.7,0M557.4,145.8a0.85,0.85 0 1,0 1.7,0a0.85,0.85 0 1,0 -1.7,0M594.8,147.4a0.85,0.85 0 1,0 1.7,0a0.85,0.85 0 1,0 -1.7,0M650.8,145.9a0.85,0.85 0 1,0 1.7,0a0.85,0.85 0 1,0 -1.7,0M614.8,148.7a0.85,0.85 0 1,0 1.7,0a0.85,0.85 0 1,0 -1.7,0M578.9,148.1a0.85,0.85 0 1,0 1.7,0a0.85,0.85 0 1,0 -1.7,0M543.8,147.7a0.85,0.85 0 1,0 1.7,0a0.85,0.85 0 1,0 -1.7,0M616.3,147.3a0.85,0.85 0 1,0 1.7,0a0.85,0.85 0 1,0 -1.7,0M501.0,148.4a0.85,0.85 0 1,0 1.7,0a0.85,0.85 0 1,0 -1.7,0M497.9,148.3a0.85,0.85 0 1,0 1.7,0a0.85,0.85 0 1,0 -1.7,0M556.0,147.8a0.85,0.85 0 1,0 1.7,0a0.85,0.85 0 1,0 -1.7,0M576.5,146.8a0.85,0.85 0 1,0 1.7,0a0.85,0.85 0 1,0 -1.7,0M571.5,146.3a0.85,0.85 0 1,0 1.7,0a0.85,0.85 0 1,0 -1.7,0M489.2,149.4a0.85,0.85 0 1,0 1.7,0a0.85,0.85 0 1,0 -1.7,0M455.3,149.6a0.85,0.85 0 1,0 1.7,0a0.85,0.85 0 1,0 -1.7,0M542.6,148.8a0.85,0.85 0 1,0 1.7,0a0.85,0.85 0 1,0 -1.7,0M506.6,147.4a0.85,0.85 0 1,0 1.7,0a0.85,0.85 0 1,0 -1.7,0M466.7,148.2a0.85,0.85 0 1,0 1.7,0a0.85,0.85 0 1,0 -1.7,0M570.7,147.4a0.85,0.85 0 1,0 1.7,0a0.85,0.85 0 1,0 -1.7,0M617.3,149.0a0.85,0.85 0 1,0 1.7,0a0.85,0.85 0 1,0 -1.7,0M482.2,149.4a0.85,0.85 0 1,0 1.7,0a0.85,0.85 0 1,0 -1.7,0M460.4,150.0a0.85,0.85 0 1,0 1.7,0a0.85,0.85 0 1,0 -1.7,0M581.6,147.4a0.85,0.85 0 1,0 1.7,0a0.85,0.85 0 1,0 -1.7,0M507.0,148.0a0.85,0.85 0 1,0 1.7,0a0.85,0.85 0 1,0 -1.7,0M470.1,148.4a0.85,0.85 0 1,0 1.7,0a0.85,0.85 0 1,0 -1.7,0M487.5,149.3a0.85,0.85 0 1,0 1.7,0a0.85,0.85 0 1,0 -1.7,0M485.0,148.3a0.85,0.85 0 1,0 1.7,0a0.85,0.85 0 1,0 -1.7,0M625.5,147.8a0.85,0.85 0 1,0 1.7,0a0.85,0.85 0 1,0 -1.7,0M464.4,149.8a0.85,0.85 0 1,0 1.7,0a0.85,0.85 0 1,0 -1.7,0M527.9,149.5a0.85,0.85 0 1,0 1.7,0a0.85,0.85 0 1,0 -1.7,0M654.8,146.1a0.85,0.85 0 1,0 1.7,0a0.85,0.85 0 1,0 -1.7,0M554.1,146.1a0.85,0.85 0 1,0 1.7,0a0.85,0.85 0 1,0 -1.7,0M658.1,145.9a0.85,0.85 0 1,0 1.7,0a0.85,0.85 0 1,0 -1.7,0M546.9,147.4a0.85,0.85 0 1,0 1.7,0a0.85,0.85 0 1,0 -1.7,0M459.8,150.2a0.85,0.85 0 1,0 1.7,0a0.85,0.85 0 1,0 -1.7,0M637.9,148.3a0.85,0.85 0 1,0 1.7,0a0.85,0.85 0 1,0 -1.7,0M533.8,149.2a0.85,0.85 0 1,0 1.7,0a0.85,0.85 0 1,0 -1.7,0M540.4,149.5a0.85,0.85 0 1,0 1.7,0a0.85,0.85 0 1,0 -1.7,0M458.7,147.9a0.85,0.85 0 1,0 1.7,0a0.85,0.85 0 1,0 -1.7,0M611.4,147.1a0.85,0.85 0 1,0 1.7,0a0.85,0.85 0 1,0 -1.7,0M499.7,149.0a0.85,0.85 0 1,0 1.7,0a0.85,0.85 0 1,0 -1.7,0M567.1,147.8a0.85,0.85 0 1,0 1.7,0a0.85,0.85 0 1,0 -1.7,0M548.2,146.6a0.85,0.85 0 1,0 1.7,0a0.85,0.85 0 1,0 -1.7,0M527.8,149.2a0.85,0.85 0 1,0 1.7,0a0.85,0.85 0 1,0 -1.7,0M657.0,144.8a0.85,0.85 0 1,0 1.7,0a0.85,0.85 0 1,0 -1.7,0M459.9,149.8a0.85,0.85 0 1,0 1.7,0a0.85,0.85 0 1,0 -1.7,0M587.6,148.4a0.85,0.85 0 1,0 1.7,0a0.85,0.85 0 1,0 -1.7,0M523.4,148.3a0.85,0.85 0 1,0 1.7,0a0.85,0.85 0 1,0 -1.7,0M632.6,148.4a0.85,0.85 0 1,0 1.7,0a0.85,0.85 0 1,0 -1.7,0M637.2,148.1a0.85,0.85 0 1,0 1.7,0a0.85,0.85 0 1,0 -1.7,0M533.8,147.6a0.85,0.85 0 1,0 1.7,0a0.85,0.85 0 1,0 -1.7,0M531.4,147.9a0.85,0.85 0 1,0 1.7,0a0.85,0.85 0 1,0 -1.7,0M496.7,148.9a0.85,0.85 0 1,0 1.7,0a0.85,0.85 0 1,0 -1.7,0M490.0,148.5a0.85,0.85 0 1,0 1.7,0a0.85,0.85 0 1,0 -1.7,0M485.9,149.5a0.85,0.85 0 1,0 1.7,0a0.85,0.85 0 1,0 -1.7,0M496.5,148.6a0.85,0.85 0 1,0 1.7,0a0.85,0.85 0 1,0 -1.7,0M516.2,148.2a0.85,0.85 0 1,0 1.7,0a0.85,0.85 0 1,0 -1.7,0M659.6,144.6a0.85,0.85 0 1,0 1.7,0a0.85,0.85 0 1,0 -1.7,0M632.2,149.4a0.85,0.85 0 1,0 1.7,0a0.85,0.85 0 1,0 -1.7,0M531.7,149.6a0.85,0.85 0 1,0 1.7,0a0.85,0.85 0 1,0 -1.7,0M596.3,147.8a0.85,0.85 0 1,0 1.7,0a0.85,0.85 0 1,0 -1.7,0M509.0,149.2a0.85,0.85 0 1,0 1.7,0a0.85,0.85 0 1,0 -1.7,0M489.7,149.2a0.85,0.85 0 1,0 1.7,0a0.85,0.85 0 1,0 -1.7,0M533.8,147.3a0.85,0.85 0 1,0 1.7,0a0.85,0.85 0 1,0 -1.7,0M601.3,148.1a0.85,0.85 0 1,0 1.7,0a0.85,0.85 0 1,0 -1.7,0M527.2,149.6a0.85,0.85 0 1,0 1.7,0a0.85,0.85 0 1,0 -1.7,0M647.7,145.6a0.85,0.85 0 1,0 1.7,0a0.85,0.85 0 1,0 -1.7,0M611.9,147.1a0.85,0.85 0 1,0 1.7,0a0.85,0.85 0 1,0 -1.7,0M641.5,147.0a0.85,0.85 0 1,0 1.7,0a0.85,0.85 0 1,0 -1.7,0M519.0,148.8a0.85,0.85 0 1,0 1.7,0a0.85,0.85 0 1,0 -1.7,0M469.0,148.2a0.85,0.85 0 1,0 1.7,0a0.85,0.85 0 1,0 -1.7,0M519.7,147.8a0.85,0.85 0 1,0 1.7,0a0.85,0.85 0 1,0 -1.7,0M560.3,147.8a0.85,0.85 0 1,0 1.7,0a0.85,0.85 0 1,0 -1.7,0M534.0,149.3a0.85,0.85 0 1,0 1.7,0a0.85,0.85 0 1,0 -1.7,0M460.1,150.4a0.85,0.85 0 1,0 1.7,0a0.85,0.85 0 1,0 -1.7,0M576.2,148.4a0.85,0.85 0 1,0 1.7,0a0.85,0.85 0 1,0 -1.7,0M516.9,148.4a0.85,0.85 0 1,0 1.7,0a0.85,0.85 0 1,0 -1.7,0M565.5,147.7a0.85,0.85 0 1,0 1.7,0a0.85,0.85 0 1,0 -1.7,0M599.5,148.1a0.85,0.85 0 1,0 1.7,0a0.85,0.85 0 1,0 -1.7,0M603.5,147.1a0.85,0.85 0 1,0 1.7,0a0.85,0.85 0 1,0 -1.7,0M482.4,149.6a0.85,0.85 0 1,0 1.7,0a0.85,0.85 0 1,0 -1.7,0M510.3,147.6a0.85,0.85 0 1,0 1.7,0a0.85,0.85 0 1,0 -1.7,0M536.4,149.0a0.85,0.85 0 1,0 1.7,0a0.85,0.85 0 1,0 -1.7,0M632.9,149.3a0.85,0.85 0 1,0 1.7,0a0.85,0.85 0 1,0 -1.7,0M512.7,148.5a0.85,0.85 0 1,0 1.7,0a0.85,0.85 0 1,0 -1.7,0M496.7,149.4a0.85,0.85 0 1,0 1.7,0a0.85,0.85 0 1,0 -1.7,0M456.7,149.2a0.85,0.85 0 1,0 1.7,0a0.85,0.85 0 1,0 -1.7,0M570.1,146.5a0.85,0.85 0 1,0 1.7,0a0.85,0.85 0 1,0 -1.7,0M655.8,145.6a0.85,0.85 0 1,0 1.7,0a0.85,0.85 0 1,0 -1.7,0M592.0,146.1a0.85,0.85 0 1,0 1.7,0a0.85,0.85 0 1,0 -1.7,0M496.8,147.9a0.85,0.85 0 1,0 1.7,0a0.85,0.85 0 1,0 -1.7,0M591.1,146.0a0.85,0.85 0 1,0 1.7,0a0.85,0.85 0 1,0 -1.7,0M633.4,149.3a0.85,0.85 0 1,0 1.7,0a0.85,0.85 0 1,0 -1.7,0M584.0,148.3a0.85,0.85 0 1,0 1.7,0a0.85,0.85 0 1,0 -1.7,0M541.1,148.9a0.85,0.85 0 1,0 1.7,0a0.85,0.85 0 1,0 -1.7,0M464.1,149.8a0.85,0.85 0 1,0 1.7,0a0.85,0.85 0 1,0 -1.7,0M520.3,148.7a0.85,0.85 0 1,0 1.7,0a0.85,0.85 0 1,0 -1.7,0M510.1,149.0a0.85,0.85 0 1,0 1.7,0a0.85,0.85 0 1,0 -1.7,0" fill="#000"/>
<path d="M555.7,134.4a1.1,1.1 0 1,0 2.2,0a1.1,1.1 0 1,0 -2.2,0M554.5,136.8a1.1,1.1 0 1,0 2.2,0a1.1,1.1 0 1,0 -2.2,0M555.5,137.6a1.1,1.1 0 1,0 2.2,0a1.1,1.1 0 1,0 -2.2,0M557.3,136.6a1.1,1.1 0 1,0 2.2,0a1.1,1.1 0 1,0 -2.2,0M558.5,137.4a1.1,1.1 0 1,0 2.2,0a1.1,1.1 0 1,0 -2.2,0M559.7,138.0a1.1,1.1 0 1,0 2.2,0a1.1,1.1 0 1,0 -2.2,0M561.1,138.4a1.1,1.1 0 1,0 2.2,0a1.1,1.1 0 1,0 -2.2,0M562.5,138.6a1.1,1.1 0 1,0 2.2,0a1.1,1.1 0 1,0 -2.2,0M563.9,139.2a1.1,1.1 0 1,0 2.2,0a1.1,1.1 0 1,0 -2.2,0M565.1,139.6a1.1,1.1 0 1,0 2.2,0a1.1,1.1 0 1,0 -2.2,0M560.1,139.6a1.1,1.1 0 1,0 2.2,0a1.1,1.1 0 1,0 -2.2,0M561.7,140.2a1.1,1.1 0 1,0 2.2,0a1.1,1.1 0 1,0 -2.2,0M563.3,140.8a1.1,1.1 0 1,0 2.2,0a1.1,1.1 0 1,0 -2.2,0M564.9,141.0a1.1,1.1 0 1,0 2.2,0a1.1,1.1 0 1,0 -2.2,0M550.1,140.8a1.1,1.1 0 1,0 2.2,0a1.1,1.1 0 1,0 -2.2,0M551.5,141.2a1.1,1.1 0 1,0 2.2,0a1.1,1.1 0 1,0 -2.2,0M552.9,141.6a1.1,1.1 0 1,0 2.2,0a1.1,1.1 0 1,0 -2.2,0M554.3,140.6a1.1,1.1 0 1,0 2.2,0a1.1,1.1 0 1,0 -2.2,0M555.7,140.2a1.1,1.1 0 1,0 2.2,0a1.1,1.1 0 1,0 -2.2,0M557.1,140.6a1.1,1.1 0 1,0 2.2,0a1.1,1.1 0 1,0 -2.2,0M555.9,142.2a1.1,1.1 0 1,0 2.2,0a1.1,1.1 0 1,0 -2.2,0M558.5,141.8a1.1,1.1 0 1,0 2.2,0a1.1,1.1 0 1,0 -2.2,0M566.3,140.6a1.1,1.1 0 1,0 2.2,0a1.1,1.1 0 1,0 -2.2,0M567.1,142.4a1.1,1.1 0 1,0 2.2,0a1.1,1.1 0 1,0 -2.2,0M568.1,143.2a1.1,1.1 0 1,0 2.2,0a1.1,1.1 0 1,0 -2.2,0M569.3,142.6a1.1,1.1 0 1,0 2.2,0a1.1,1.1 0 1,0 -2.2,0M570.7,143.6a1.1,1.1 0 1,0 2.2,0a1.1,1.1 0 1,0 -2.2,0M571.9,144.2a1.1,1.1 0 1,0 2.2,0a1.1,1.1 0 1,0 -2.2,0M559.4,143.2a1.1,1.1 0 1,0 2.2,0a1.1,1.1 0 1,0 -2.2,0M561.9,143.2a1.1,1.1 0 1,0 2.2,0a1.1,1.1 0 1,0 -2.2,0M564.4,143.0a1.1,1.1 0 1,0 2.2,0a1.1,1.1 0 1,0 -2.2,0M551.9,143.4a1.1,1.1 0 1,0 2.2,0a1.1,1.1 0 1,0 -2.2,0M554.4,143.6a1.1,1.1 0 1,0 2.2,0a1.1,1.1 0 1,0 -2.2,0M556.9,143.8a1.1,1.1 0 1,0 2.2,0a1.1,1.1 0 1,0 -2.2,0M517.9,141.0a1.1,1.1 0 1,0 2.2,0a1.1,1.1 0 1,0 -2.2,0M508.6,142.6a1.1,1.1 0 1,0 2.2,0a1.1,1.1 0 1,0 -2.2,0M563.9,138.8a1.1,1.1 0 1,0 2.2,0a1.1,1.1 0 1,0 -2.2,0M599.9,140.4a1.1,1.1 0 1,0 2.2,0a1.1,1.1 0 1,0 -2.2,0M578.9,142.0a1.1,1.1 0 1,0 2.2,0a1.1,1.1 0 1,0 -2.2,0M594.9,143.4a1.1,1.1 0 1,0 2.2,0a1.1,1.1 0 1,0 -2.2,0M601.9,142.6a1.1,1.1 0 1,0 2.2,0a1.1,1.1 0 1,0 -2.2,0M455.9,145.8a1.1,1.1 0 1,0 2.2,0a1.1,1.1 0 1,0 -2.2,0M460.4,146.0a1.1,1.1 0 1,0 2.2,0a1.1,1.1 0 1,0 -2.2,0M629.9,145.8a1.1,1.1 0 1,0 2.2,0a1.1,1.1 0 1,0 -2.2,0" fill="#000"/>
<circle cx="557" cy="73.2" r="2.4" fill="#f00"/>
<circle cx="557" cy="103.4" r="2.0" fill="#fff" stroke="#f00" stroke-width="1.0"/>
<polygon points="556.80,122.00 557.41,123.46 558.99,123.59 557.78,124.62 558.15,126.16 556.80,125.33 555.45,126.16 555.82,124.62 554.61,123.59 556.19,123.46" fill="#7a3ad0"/>
<circle cx="605.8" cy="72.6" r="2.6" fill="#f00"/>
<polygon points="605.80,77.90 606.75,80.19 609.22,80.39 607.34,82.00 607.92,84.41 605.80,83.12 603.68,84.41 604.26,82.00 602.38,80.39 604.85,80.19" fill="#7030c0"/>
<circle cx="606.1" cy="89.6" r="2.45" fill="#fff" stroke="#f00" stroke-width="1.0"/>
<text x="613.70" y="75.20" font-size="7.0" fill="#222" text-anchor="start" >STR</text>
<text x="613.70" y="83.20" font-size="7.0" fill="#222" text-anchor="start" >Lead SNV</text>
<text x="613.70" y="91.90" font-size="7.0" fill="#222" text-anchor="start" >STR after conditioning</text>
<text x="613.70" y="99.80" font-size="7.0" fill="#222" text-anchor="start" >on lead SNV</text>
<text transform="translate(360.9,178.6) scale(0.92,1)" font-size="16.6">E</text>
<line x1="442.6" y1="166.3" x2="442.6" y2="232.4" stroke="#333" stroke-width="0.6"/>
<line x1="442.6" y1="232.5" x2="671.8" y2="232.5" stroke="#999" stroke-width="1"/>
<rect x="554.5" y="165.9" width="5.3" height="66.2" fill="#ffcfd2"/>
<line x1="441.20000000000005" y1="229.60" x2="442.6" y2="229.60" stroke="#333" stroke-width="0.6"/>
<text x="439.30" y="233.20" font-size="10.2" fill="#333" text-anchor="end" >0</text>
<line x1="441.20000000000005" y1="216.92" x2="442.6" y2="216.92" stroke="#333" stroke-width="0.6"/>
<text x="439.30" y="220.52" font-size="10.2" fill="#333" text-anchor="end" >5</text>
<line x1="441.20000000000005" y1="204.25" x2="442.6" y2="204.25" stroke="#333" stroke-width="0.6"/>
<text x="439.30" y="207.85" font-size="10.2" fill="#333" text-anchor="end" >10</text>
<line x1="441.20000000000005" y1="191.57" x2="442.6" y2="191.57" stroke="#333" stroke-width="0.6"/>
<text x="439.30" y="195.17" font-size="10.2" fill="#333" text-anchor="end" >15</text>
<line x1="441.20000000000005" y1="178.90" x2="442.6" y2="178.90" stroke="#333" stroke-width="0.6"/>
<text x="439.30" y="182.50" font-size="10.2" fill="#333" text-anchor="end" >20</text>
<line x1="443.1" y1="204.4" x2="671.8" y2="204.4" stroke="#ffa500" stroke-width="1.2" stroke-dasharray="4.3 4.1"/>
<text transform="translate(425.6,200.0) rotate(-90)" font-size="10.5" fill="#333" text-anchor="middle">−log<tspan font-size="7" dy="2">10</tspan><tspan dy="-2">(</tspan><tspan font-style="italic">p</tspan>)</text>
<text transform="translate(387.0,200.3) rotate(-90)" font-size="9" font-weight="bold" text-anchor="middle">SNV associations</text>
<text transform="translate(398.8,200.3) rotate(-90)" font-size="9" font-weight="bold" text-anchor="middle">after conditioning on</text>
<text transform="translate(410.5,200.3) rotate(-90)" font-size="9" font-weight="bold" text-anchor="middle">TR genotype</text>
<polygon points="452.4,230.6 452.4,230.2 453.1,230.2 453.8,230.2 454.5,229.5 455.2,229.9 455.9,229.8 456.6,229.9 457.3,229.5 458.0,229.6 458.7,229.8 459.4,229.6 460.1,229.8 460.8,229.4 461.5,229.4 462.2,229.9 462.9,229.7 463.6,229.7 464.3,229.9 465.0,229.6 465.7,229.4 466.4,229.9 467.1,229.8 467.8,229.8 468.5,229.8 469.2,230.0 469.9,229.5 470.6,229.8 471.3,229.5 472.0,229.7 472.7,229.7 473.4,229.4 474.1,229.3 474.8,229.6 475.5,229.7 476.2,229.6 476.9,229.5 477.6,229.6 478.3,229.3 479.0,229.3 479.7,229.4 480.4,229.7 481.1,229.2 481.8,229.1 482.5,229.1 483.2,229.0 483.9,229.2 484.6,229.4 485.3,229.6 486.0,229.2 486.7,229.2 487.4,229.1 488.1,229.1 488.8,229.5 489.5,229.3 490.2,229.0 490.9,228.9 491.6,229.4 492.3,229.3 493.0,229.4 493.7,228.9 494.4,229.1 495.1,229.4 495.8,229.1 496.5,229.4 497.2,228.7 497.9,229.3 498.6,228.6 499.3,228.9 500.0,228.5 500.7,229.1 501.4,229.0 502.1,229.3 502.8,229.1 503.5,229.3 504.2,228.9 504.9,229.3 505.6,229.1 506.3,228.8 507.0,229.3 507.7,228.8 508.4,228.7 509.1,228.6 509.8,228.9 510.5,228.7 511.2,229.2 511.9,229.3 512.6,228.7 513.3,228.6 514.0,228.9 514.7,228.6 515.4,228.9 516.1,229.2 516.8,228.7 517.5,228.8 518.2,229.2 518.9,228.9 519.6,228.8 520.3,229.2 521.0,229.2 521.7,229.2 522.4,229.1 523.1,228.8 523.8,229.1 524.5,229.2 525.2,229.0 525.9,228.7 526.6,228.7 527.3,228.8 528.0,229.1 528.7,228.9 529.4,228.9 530.1,229.2 530.8,228.6 531.5,229.0 532.2,228.8 532.9,228.9 533.6,229.2 534.3,228.7 535.0,229.3 535.7,228.6 536.4,228.9 537.1,228.9 537.8,228.7 538.5,228.9 539.2,228.9 539.9,228.9 540.6,229.0 541.3,228.4 542.0,228.6 542.7,228.9 543.4,228.3 544.1,228.8 544.8,228.2 545.5,228.6 546.2,228.1 546.9,228.2 547.6,228.2 548.3,227.8 549.0,228.3 549.7,228.1 550.4,228.2 551.1,228.1 551.8,228.1 552.5,228.1 553.2,227.9 553.9,228.4 554.6,227.7 555.3,228.4 556.0,228.3 556.7,228.0 557.4,228.3 558.1,228.2 558.8,228.1 559.5,227.9 560.2,227.9 560.9,227.9 561.6,227.9 562.3,228.4 563.0,227.9 563.7,227.9 564.4,227.9 565.1,228.2 565.8,228.0 566.5,228.0 567.2,227.8 567.9,227.8 568.6,227.6 569.3,227.7 570.0,227.8 570.7,228.2 571.4,228.0 572.1,227.6 572.8,227.9 573.5,227.6 574.2,228.0 574.9,227.9 575.6,228.2 576.3,227.7 577.0,228.2 577.7,227.7 578.4,228.3 579.1,228.0 579.8,227.5 580.5,227.7 581.2,226.8 581.9,226.3 582.6,225.5 583.3,225.8 584.0,225.2 584.7,225.7 585.4,225.4 586.1,225.6 586.8,225.3 587.5,225.1 588.2,225.8 588.9,225.5 589.6,225.1 590.3,225.8 591.0,225.7 591.7,225.1 592.4,225.0 593.1,225.5 593.8,225.1 594.5,225.5 595.2,225.3 595.9,225.5 596.6,225.4 597.3,225.5 598.0,225.6 598.7,225.1 599.4,224.8 600.1,224.4 600.8,224.2 601.5,224.2 602.2,224.8 602.9,224.3 603.6,224.4 604.3,224.4 605.0,224.6 605.7,224.5 606.4,225.2 607.1,225.5 607.8,226.2 608.5,226.6 609.2,226.7 609.9,226.9 610.6,226.4 611.3,226.8 612.0,226.9 612.7,226.9 613.4,226.2 614.1,226.4 614.8,226.8 615.5,226.8 616.2,226.2 616.9,226.5 617.6,226.7 618.3,226.8 619.0,226.6 619.7,226.3 620.4,226.5 621.1,226.2 621.8,226.4 622.5,226.5 623.2,226.9 623.9,226.7 624.6,226.5 625.3,226.4 626.0,226.5 626.7,226.8 627.4,226.6 628.1,226.4 628.8,226.9 629.5,226.7 630.2,227.0 630.9,226.7 631.6,226.7 632.3,226.6 633.0,226.7 633.7,227.0 634.4,227.1 635.1,226.8 635.8,226.6 636.5,226.3 637.2,227.0 637.9,226.6 638.6,226.6 639.3,226.3 640.0,226.3 640.7,226.6 641.4,227.1 642.1,226.9 642.8,226.9 643.5,226.8 644.2,226.5 644.9,226.4 645.6,226.8 646.3,226.4 647.0,226.8 647.7,226.7 648.4,226.7 649.1,226.4 649.8,226.4 650.5,226.7 651.2,226.4 651.9,226.8 652.6,226.5 653.3,226.8 654.0,226.9 654.7,226.8 655.4,226.7 656.1,226.5 656.8,226.6 657.5,227.1 658.2,226.5 658.9,226.5 659.6,226.7 660.3,226.7 661.0,226.9 661.7,226.5 662.0,230.6" fill="#000" stroke="#000" stroke-width="0.6" stroke-linejoin="round"/>
<path d="M653.4,226.7a0.85,0.85 0 1,0 1.7,0a0.85,0.85 0 1,0 -1.7,0M617.2,225.5a0.85,0.85 0 1,0 1.7,0a0.85,0.85 0 1,0 -1.7,0M640.4,226.5a0.85,0.85 0 1,0 1.7,0a0.85,0.85 0 1,0 -1.7,0M596.0,223.3a0.85,0.85 0 1,0 1.7,0a0.85,0.85 0 1,0 -1.7,0M591.4,225.2a0.85,0.85 0 1,0 1.7,0a0.85,0.85 0 1,0 -1.7,0M644.6,224.6a0.85,0.85 0 1,0 1.7,0a0.85,0.85 0 1,0 -1.7,0M474.8,227.8a0.85,0.85 0 1,0 1.7,0a0.85,0.85 0 1,0 -1.7,0M468.2,229.6a0.85,0.85 0 1,0 1.7,0a0.85,0.85 0 1,0 -1.7,0M618.3,225.1a0.85,0.85 0 1,0 1.7,0a0.85,0.85 0 1,0 -1.7,0M652.2,225.5a0.85,0.85 0 1,0 1.7,0a0.85,0.85 0 1,0 -1.7,0M558.8,227.6a0.85,0.85 0 1,0 1.7,0a0.85,0.85 0 1,0 -1.7,0M571.6,225.8a0.85,0.85 0 1,0 1.7,0a0.85,0.85 0 1,0 -1.7,0M587.1,223.6a0.85,0.85 0 1,0 1.7,0a0.85,0.85 0 1,0 -1.7,0M492.9,227.6a0.85,0.85 0 1,0 1.7,0a0.85,0.85 0 1,0 -1.7,0M604.9,224.4a0.85,0.85 0 1,0 1.7,0a0.85,0.85 0 1,0 -1.7,0M623.5,226.4a0.85,0.85 0 1,0 1.7,0a0.85,0.85 0 1,0 -1.7,0M497.1,228.9a0.85,0.85 0 1,0 1.7,0a0.85,0.85 0 1,0 -1.7,0M590.4,225.2a0.85,0.85 0 1,0 1.7,0a0.85,0.85 0 1,0 -1.7,0M656.1,226.7a0.85,0.85 0 1,0 1.7,0a0.85,0.85 0 1,0 -1.7,0M621.2,225.1a0.85,0.85 0 1,0 1.7,0a0.85,0.85 0 1,0 -1.7,0M570.9,226.9a0.85,0.85 0 1,0 1.7,0a0.85,0.85 0 1,0 -1.7,0M618.8,225.4a0.85,0.85 0 1,0 1.7,0a0.85,0.85 0 1,0 -1.7,0M480.8,227.8a0.85,0.85 0 1,0 1.7,0a0.85,0.85 0 1,0 -1.7,0M525.7,227.8a0.85,0.85 0 1,0 1.7,0a0.85,0.85 0 1,0 -1.7,0M559.0,226.1a0.85,0.85 0 1,0 1.7,0a0.85,0.85 0 1,0 -1.7,0M538.4,227.1a0.85,0.85 0 1,0 1.7,0a0.85,0.85 0 1,0 -1.7,0M468.7,229.1a0.85,0.85 0 1,0 1.7,0a0.85,0.85 0 1,0 -1.7,0M592.1,224.2a0.85,0.85 0 1,0 1.7,0a0.85,0.85 0 1,0 -1.7,0M626.0,226.3a0.85,0.85 0 1,0 1.7,0a0.85,0.85 0 1,0 -1.7,0M620.1,224.9a0.85,0.85 0 1,0 1.7,0a0.85,0.85 0 1,0 -1.7,0M481.5,229.3a0.85,0.85 0 1,0 1.7,0a0.85,0.85 0 1,0 -1.7,0M573.8,225.8a0.85,0.85 0 1,0 1.7,0a0.85,0.85 0 1,0 -1.7,0M580.2,226.3a0.85,0.85 0 1,0 1.7,0a0.85,0.85 0 1,0 -1.7,0M557.8,226.4a0.85,0.85 0 1,0 1.7,0a0.85,0.85 0 1,0 -1.7,0M561.0,227.0a0.85,0.85 0 1,0 1.7,0a0.85,0.85 0 1,0 -1.7,0M575.9,225.9a0.85,0.85 0 1,0 1.7,0a0.85,0.85 0 1,0 -1.7,0M619.3,224.8a0.85,0.85 0 1,0 1.7,0a0.85,0.85 0 1,0 -1.7,0M507.3,227.8a0.85,0.85 0 1,0 1.7,0a0.85,0.85 0 1,0 -1.7,0M624.1,225.2a0.85,0.85 0 1,0 1.7,0a0.85,0.85 0 1,0 -1.7,0M651.1,224.7a0.85,0.85 0 1,0 1.7,0a0.85,0.85 0 1,0 -1.7,0M478.3,228.6a0.85,0.85 0 1,0 1.7,0a0.85,0.85 0 1,0 -1.7,0M526.5,228.6a0.85,0.85 0 1,0 1.7,0a0.85,0.85 0 1,0 -1.7,0M556.5,225.9a0.85,0.85 0 1,0 1.7,0a0.85,0.85 0 1,0 -1.7,0M612.6,226.4a0.85,0.85 0 1,0 1.7,0a0.85,0.85 0 1,0 -1.7,0M503.5,228.3a0.85,0.85 0 1,0 1.7,0a0.85,0.85 0 1,0 -1.7,0M637.1,225.9a0.85,0.85 0 1,0 1.7,0a0.85,0.85 0 1,0 -1.7,0M485.0,228.3a0.85,0.85 0 1,0 1.7,0a0.85,0.85 0 1,0 -1.7,0M503.4,228.9a0.85,0.85 0 1,0 1.7,0a0.85,0.85 0 1,0 -1.7,0M575.8,225.7a0.85,0.85 0 1,0 1.7,0a0.85,0.85 0 1,0 -1.7,0M614.2,225.1a0.85,0.85 0 1,0 1.7,0a0.85,0.85 0 1,0 -1.7,0M483.5,228.3a0.85,0.85 0 1,0 1.7,0a0.85,0.85 0 1,0 -1.7,0M585.0,223.9a0.85,0.85 0 1,0 1.7,0a0.85,0.85 0 1,0 -1.7,0M545.2,228.3a0.85,0.85 0 1,0 1.7,0a0.85,0.85 0 1,0 -1.7,0M646.0,226.3a0.85,0.85 0 1,0 1.7,0a0.85,0.85 0 1,0 -1.7,0M606.3,224.9a0.85,0.85 0 1,0 1.7,0a0.85,0.85 0 1,0 -1.7,0M614.9,226.0a0.85,0.85 0 1,0 1.7,0a0.85,0.85 0 1,0 -1.7,0M470.9,228.9a0.85,0.85 0 1,0 1.7,0a0.85,0.85 0 1,0 -1.7,0M552.2,226.4a0.85,0.85 0 1,0 1.7,0a0.85,0.85 0 1,0 -1.7,0M536.2,227.6a0.85,0.85 0 1,0 1.7,0a0.85,0.85 0 1,0 -1.7,0M530.4,227.4a0.85,0.85 0 1,0 1.7,0a0.85,0.85 0 1,0 -1.7,0M488.1,227.4a0.85,0.85 0 1,0 1.7,0a0.85,0.85 0 1,0 -1.7,0M649.5,226.7a0.85,0.85 0 1,0 1.7,0a0.85,0.85 0 1,0 -1.7,0M631.5,225.1a0.85,0.85 0 1,0 1.7,0a0.85,0.85 0 1,0 -1.7,0M596.8,225.2a0.85,0.85 0 1,0 1.7,0a0.85,0.85 0 1,0 -1.7,0M605.2,222.9a0.85,0.85 0 1,0 1.7,0a0.85,0.85 0 1,0 -1.7,0M582.8,223.4a0.85,0.85 0 1,0 1.7,0a0.85,0.85 0 1,0 -1.7,0M650.0,225.5a0.85,0.85 0 1,0 1.7,0a0.85,0.85 0 1,0 -1.7,0M645.4,226.5a0.85,0.85 0 1,0 1.7,0a0.85,0.85 0 1,0 -1.7,0M514.1,227.9a0.85,0.85 0 1,0 1.7,0a0.85,0.85 0 1,0 -1.7,0M561.1,226.0a0.85,0.85 0 1,0 1.7,0a0.85,0.85 0 1,0 -1.7,0M584.8,224.3a0.85,0.85 0 1,0 1.7,0a0.85,0.85 0 1,0 -1.7,0M581.8,223.8a0.85,0.85 0 1,0 1.7,0a0.85,0.85 0 1,0 -1.7,0M535.5,227.4a0.85,0.85 0 1,0 1.7,0a0.85,0.85 0 1,0 -1.7,0M577.3,227.2a0.85,0.85 0 1,0 1.7,0a0.85,0.85 0 1,0 -1.7,0M522.6,228.7a0.85,0.85 0 1,0 1.7,0a0.85,0.85 0 1,0 -1.7,0M453.8,229.3a0.85,0.85 0 1,0 1.7,0a0.85,0.85 0 1,0 -1.7,0M514.5,228.8a0.85,0.85 0 1,0 1.7,0a0.85,0.85 0 1,0 -1.7,0M553.3,227.5a0.85,0.85 0 1,0 1.7,0a0.85,0.85 0 1,0 -1.7,0M645.6,225.1a0.85,0.85 0 1,0 1.7,0a0.85,0.85 0 1,0 -1.7,0M591.0,223.6a0.85,0.85 0 1,0 1.7,0a0.85,0.85 0 1,0 -1.7,0M509.1,228.8a0.85,0.85 0 1,0 1.7,0a0.85,0.85 0 1,0 -1.7,0M579.3,227.4a0.85,0.85 0 1,0 1.7,0a0.85,0.85 0 1,0 -1.7,0M658.0,226.0a0.85,0.85 0 1,0 1.7,0a0.85,0.85 0 1,0 -1.7,0M637.3,226.3a0.85,0.85 0 1,0 1.7,0a0.85,0.85 0 1,0 -1.7,0M471.2,228.4a0.85,0.85 0 1,0 1.7,0a0.85,0.85 0 1,0 -1.7,0M596.8,224.9a0.85,0.85 0 1,0 1.7,0a0.85,0.85 0 1,0 -1.7,0M645.8,224.6a0.85,0.85 0 1,0 1.7,0a0.85,0.85 0 1,0 -1.7,0M595.6,223.2a0.85,0.85 0 1,0 1.7,0a0.85,0.85 0 1,0 -1.7,0M657.6,226.5a0.85,0.85 0 1,0 1.7,0a0.85,0.85 0 1,0 -1.7,0M604.6,223.0a0.85,0.85 0 1,0 1.7,0a0.85,0.85 0 1,0 -1.7,0M605.0,224.0a0.85,0.85 0 1,0 1.7,0a0.85,0.85 0 1,0 -1.7,0M565.4,226.9a0.85,0.85 0 1,0 1.7,0a0.85,0.85 0 1,0 -1.7,0M629.7,226.6a0.85,0.85 0 1,0 1.7,0a0.85,0.85 0 1,0 -1.7,0M530.2,228.4a0.85,0.85 0 1,0 1.7,0a0.85,0.85 0 1,0 -1.7,0M617.5,226.4a0.85,0.85 0 1,0 1.7,0a0.85,0.85 0 1,0 -1.7,0M464.5,229.6a0.85,0.85 0 1,0 1.7,0a0.85,0.85 0 1,0 -1.7,0M475.9,228.8a0.85,0.85 0 1,0 1.7,0a0.85,0.85 0 1,0 -1.7,0M633.0,226.1a0.85,0.85 0 1,0 1.7,0a0.85,0.85 0 1,0 -1.7,0M472.8,228.3a0.85,0.85 0 1,0 1.7,0a0.85,0.85 0 1,0 -1.7,0M521.3,227.8a0.85,0.85 0 1,0 1.7,0a0.85,0.85 0 1,0 -1.7,0M608.3,225.7a0.85,0.85 0 1,0 1.7,0a0.85,0.85 0 1,0 -1.7,0M605.2,223.4a0.85,0.85 0 1,0 1.7,0a0.85,0.85 0 1,0 -1.7,0M630.1,225.1a0.85,0.85 0 1,0 1.7,0a0.85,0.85 0 1,0 -1.7,0M640.4,225.2a0.85,0.85 0 1,0 1.7,0a0.85,0.85 0 1,0 -1.7,0M510.7,228.0a0.85,0.85 0 1,0 1.7,0a0.85,0.85 0 1,0 -1.7,0M613.4,224.9a0.85,0.85 0 1,0 1.7,0a0.85,0.85 0 1,0 -1.7,0M604.6,222.7a0.85,0.85 0 1,0 1.7,0a0.85,0.85 0 1,0 -1.7,0M624.4,225.6a0.85,0.85 0 1,0 1.7,0a0.85,0.85 0 1,0 -1.7,0M585.8,225.4a0.85,0.85 0 1,0 1.7,0a0.85,0.85 0 1,0 -1.7,0M551.6,226.6a0.85,0.85 0 1,0 1.7,0a0.85,0.85 0 1,0 -1.7,0M643.0,224.9a0.85,0.85 0 1,0 1.7,0a0.85,0.85 0 1,0 -1.7,0M543.6,228.2a0.85,0.85 0 1,0 1.7,0a0.85,0.85 0 1,0 -1.7,0M637.2,225.4a0.85,0.85 0 1,0 1.7,0a0.85,0.85 0 1,0 -1.7,0M491.7,229.1a0.85,0.85 0 1,0 1.7,0a0.85,0.85 0 1,0 -1.7,0M635.6,225.6a0.85,0.85 0 1,0 1.7,0a0.85,0.85 0 1,0 -1.7,0M474.5,227.4a0.85,0.85 0 1,0 1.7,0a0.85,0.85 0 1,0 -1.7,0M574.6,226.4a0.85,0.85 0 1,0 1.7,0a0.85,0.85 0 1,0 -1.7,0M620.6,226.2a0.85,0.85 0 1,0 1.7,0a0.85,0.85 0 1,0 -1.7,0M561.0,227.8a0.85,0.85 0 1,0 1.7,0a0.85,0.85 0 1,0 -1.7,0M579.9,226.5a0.85,0.85 0 1,0 1.7,0a0.85,0.85 0 1,0 -1.7,0M617.1,226.4a0.85,0.85 0 1,0 1.7,0a0.85,0.85 0 1,0 -1.7,0M494.6,228.4a0.85,0.85 0 1,0 1.7,0a0.85,0.85 0 1,0 -1.7,0M451.9,229.2a0.85,0.85 0 1,0 1.7,0a0.85,0.85 0 1,0 -1.7,0M653.3,224.9a0.85,0.85 0 1,0 1.7,0a0.85,0.85 0 1,0 -1.7,0M489.3,227.5a0.85,0.85 0 1,0 1.7,0a0.85,0.85 0 1,0 -1.7,0M498.7,228.6a0.85,0.85 0 1,0 1.7,0a0.85,0.85 0 1,0 -1.7,0M585.2,225.0a0.85,0.85 0 1,0 1.7,0a0.85,0.85 0 1,0 -1.7,0M493.7,229.0a0.85,0.85 0 1,0 1.7,0a0.85,0.85 0 1,0 -1.7,0M488.6,229.0a0.85,0.85 0 1,0 1.7,0a0.85,0.85 0 1,0 -1.7,0M642.7,226.7a0.85,0.85 0 1,0 1.7,0a0.85,0.85 0 1,0 -1.7,0M564.8,227.7a0.85,0.85 0 1,0 1.7,0a0.85,0.85 0 1,0 -1.7,0M602.5,224.5a0.85,0.85 0 1,0 1.7,0a0.85,0.85 0 1,0 -1.7,0M529.4,227.4a0.85,0.85 0 1,0 1.7,0a0.85,0.85 0 1,0 -1.7,0M457.0,229.1a0.85,0.85 0 1,0 1.7,0a0.85,0.85 0 1,0 -1.7,0M519.9,228.0a0.85,0.85 0 1,0 1.7,0a0.85,0.85 0 1,0 -1.7,0M583.3,225.4a0.85,0.85 0 1,0 1.7,0a0.85,0.85 0 1,0 -1.7,0M633.0,226.3a0.85,0.85 0 1,0 1.7,0a0.85,0.85 0 1,0 -1.7,0M613.4,226.4a0.85,0.85 0 1,0 1.7,0a0.85,0.85 0 1,0 -1.7,0M471.2,229.4a0.85,0.85 0 1,0 1.7,0a0.85,0.85 0 1,0 -1.7,0M469.1,229.3a0.85,0.85 0 1,0 1.7,0a0.85,0.85 0 1,0 -1.7,0M480.8,229.4a0.85,0.85 0 1,0 1.7,0a0.85,0.85 0 1,0 -1.7,0M630.1,225.7a0.85,0.85 0 1,0 1.7,0a0.85,0.85 0 1,0 -1.7,0M555.6,227.1a0.85,0.85 0 1,0 1.7,0a0.85,0.85 0 1,0 -1.7,0M621.4,226.5a0.85,0.85 0 1,0 1.7,0a0.85,0.85 0 1,0 -1.7,0M461.1,228.5a0.85,0.85 0 1,0 1.7,0a0.85,0.85 0 1,0 -1.7,0M453.0,229.0a0.85,0.85 0 1,0 1.7,0a0.85,0.85 0 1,0 -1.7,0M582.5,223.7a0.85,0.85 0 1,0 1.7,0a0.85,0.85 0 1,0 -1.7,0M451.7,229.2a0.85,0.85 0 1,0 1.7,0a0.85,0.85 0 1,0 -1.7,0M517.1,227.8a0.85,0.85 0 1,0 1.7,0a0.85,0.85 0 1,0 -1.7,0M458.5,228.3a0.85,0.85 0 1,0 1.7,0a0.85,0.85 0 1,0 -1.7,0M652.1,225.7a0.85,0.85 0 1,0 1.7,0a0.85,0.85 0 1,0 -1.7,0M591.2,223.6a0.85,0.85 0 1,0 1.7,0a0.85,0.85 0 1,0 -1.7,0M628.4,224.9a0.85,0.85 0 1,0 1.7,0a0.85,0.85 0 1,0 -1.7,0M553.7,228.0a0.85,0.85 0 1,0 1.7,0a0.85,0.85 0 1,0 -1.7,0M618.1,224.8a0.85,0.85 0 1,0 1.7,0a0.85,0.85 0 1,0 -1.7,0M598.5,224.3a0.85,0.85 0 1,0 1.7,0a0.85,0.85 0 1,0 -1.7,0M655.9,225.5a0.85,0.85 0 1,0 1.7,0a0.85,0.85 0 1,0 -1.7,0M517.0,227.3a0.85,0.85 0 1,0 1.7,0a0.85,0.85 0 1,0 -1.7,0M498.5,228.6a0.85,0.85 0 1,0 1.7,0a0.85,0.85 0 1,0 -1.7,0M641.3,226.6a0.85,0.85 0 1,0 1.7,0a0.85,0.85 0 1,0 -1.7,0M633.9,226.0a0.85,0.85 0 1,0 1.7,0a0.85,0.85 0 1,0 -1.7,0M571.4,226.6a0.85,0.85 0 1,0 1.7,0a0.85,0.85 0 1,0 -1.7,0M640.7,226.4a0.85,0.85 0 1,0 1.7,0a0.85,0.85 0 1,0 -1.7,0M471.0,228.7a0.85,0.85 0 1,0 1.7,0a0.85,0.85 0 1,0 -1.7,0M498.5,228.2a0.85,0.85 0 1,0 1.7,0a0.85,0.85 0 1,0 -1.7,0M474.7,229.5a0.85,0.85 0 1,0 1.7,0a0.85,0.85 0 1,0 -1.7,0M570.5,227.9a0.85,0.85 0 1,0 1.7,0a0.85,0.85 0 1,0 -1.7,0M507.4,228.3a0.85,0.85 0 1,0 1.7,0a0.85,0.85 0 1,0 -1.7,0M471.5,228.0a0.85,0.85 0 1,0 1.7,0a0.85,0.85 0 1,0 -1.7,0M640.5,226.7a0.85,0.85 0 1,0 1.7,0a0.85,0.85 0 1,0 -1.7,0M620.7,226.4a0.85,0.85 0 1,0 1.7,0a0.85,0.85 0 1,0 -1.7,0M604.5,224.4a0.85,0.85 0 1,0 1.7,0a0.85,0.85 0 1,0 -1.7,0M607.8,224.5a0.85,0.85 0 1,0 1.7,0a0.85,0.85 0 1,0 -1.7,0M505.8,228.7a0.85,0.85 0 1,0 1.7,0a0.85,0.85 0 1,0 -1.7,0M522.9,227.1a0.85,0.85 0 1,0 1.7,0a0.85,0.85 0 1,0 -1.7,0M615.1,226.4a0.85,0.85 0 1,0 1.7,0a0.85,0.85 0 1,0 -1.7,0M640.6,225.2a0.85,0.85 0 1,0 1.7,0a0.85,0.85 0 1,0 -1.7,0M652.2,224.6a0.85,0.85 0 1,0 1.7,0a0.85,0.85 0 1,0 -1.7,0M484.8,227.9a0.85,0.85 0 1,0 1.7,0a0.85,0.85 0 1,0 -1.7,0M456.7,229.6a0.85,0.85 0 1,0 1.7,0a0.85,0.85 0 1,0 -1.7,0M564.0,227.7a0.85,0.85 0 1,0 1.7,0a0.85,0.85 0 1,0 -1.7,0M497.3,228.4a0.85,0.85 0 1,0 1.7,0a0.85,0.85 0 1,0 -1.7,0M547.8,226.2a0.85,0.85 0 1,0 1.7,0a0.85,0.85 0 1,0 -1.7,0M573.4,226.9a0.85,0.85 0 1,0 1.7,0a0.85,0.85 0 1,0 -1.7,0M602.3,224.2a0.85,0.85 0 1,0 1.7,0a0.85,0.85 0 1,0 -1.7,0M619.9,225.0a0.85,0.85 0 1,0 1.7,0a0.85,0.85 0 1,0 -1.7,0M622.2,225.8a0.85,0.85 0 1,0 1.7,0a0.85,0.85 0 1,0 -1.7,0M565.1,227.9a0.85,0.85 0 1,0 1.7,0a0.85,0.85 0 1,0 -1.7,0M547.6,226.9a0.85,0.85 0 1,0 1.7,0a0.85,0.85 0 1,0 -1.7,0M650.7,224.8a0.85,0.85 0 1,0 1.7,0a0.85,0.85 0 1,0 -1.7,0M522.7,227.4a0.85,0.85 0 1,0 1.7,0a0.85,0.85 0 1,0 -1.7,0M631.0,224.6a0.85,0.85 0 1,0 1.7,0a0.85,0.85 0 1,0 -1.7,0M594.2,224.8a0.85,0.85 0 1,0 1.7,0a0.85,0.85 0 1,0 -1.7,0M634.6,226.7a0.85,0.85 0 1,0 1.7,0a0.85,0.85 0 1,0 -1.7,0M570.5,227.2a0.85,0.85 0 1,0 1.7,0a0.85,0.85 0 1,0 -1.7,0M636.6,225.5a0.85,0.85 0 1,0 1.7,0a0.85,0.85 0 1,0 -1.7,0M493.6,228.9a0.85,0.85 0 1,0 1.7,0a0.85,0.85 0 1,0 -1.7,0M459.1,228.3a0.85,0.85 0 1,0 1.7,0a0.85,0.85 0 1,0 -1.7,0M615.7,225.9a0.85,0.85 0 1,0 1.7,0a0.85,0.85 0 1,0 -1.7,0M498.4,227.9a0.85,0.85 0 1,0 1.7,0a0.85,0.85 0 1,0 -1.7,0M492.5,228.1a0.85,0.85 0 1,0 1.7,0a0.85,0.85 0 1,0 -1.7,0M523.6,228.4a0.85,0.85 0 1,0 1.7,0a0.85,0.85 0 1,0 -1.7,0M596.4,224.9a0.85,0.85 0 1,0 1.7,0a0.85,0.85 0 1,0 -1.7,0M521.0,227.9a0.85,0.85 0 1,0 1.7,0a0.85,0.85 0 1,0 -1.7,0M649.0,226.5a0.85,0.85 0 1,0 1.7,0a0.85,0.85 0 1,0 -1.7,0M515.8,228.5a0.85,0.85 0 1,0 1.7,0a0.85,0.85 0 1,0 -1.7,0M517.6,228.0a0.85,0.85 0 1,0 1.7,0a0.85,0.85 0 1,0 -1.7,0M623.5,226.4a0.85,0.85 0 1,0 1.7,0a0.85,0.85 0 1,0 -1.7,0M602.2,223.8a0.85,0.85 0 1,0 1.7,0a0.85,0.85 0 1,0 -1.7,0M571.4,227.1a0.85,0.85 0 1,0 1.7,0a0.85,0.85 0 1,0 -1.7,0M577.9,227.7a0.85,0.85 0 1,0 1.7,0a0.85,0.85 0 1,0 -1.7,0M580.7,226.0a0.85,0.85 0 1,0 1.7,0a0.85,0.85 0 1,0 -1.7,0M615.9,225.4a0.85,0.85 0 1,0 1.7,0a0.85,0.85 0 1,0 -1.7,0M537.1,226.7a0.85,0.85 0 1,0 1.7,0a0.85,0.85 0 1,0 -1.7,0M489.1,229.2a0.85,0.85 0 1,0 1.7,0a0.85,0.85 0 1,0 -1.7,0M477.4,228.2a0.85,0.85 0 1,0 1.7,0a0.85,0.85 0 1,0 -1.7,0M470.8,228.1a0.85,0.85 0 1,0 1.7,0a0.85,0.85 0 1,0 -1.7,0M470.1,229.2a0.85,0.85 0 1,0 1.7,0a0.85,0.85 0 1,0 -1.7,0M582.0,225.6a0.85,0.85 0 1,0 1.7,0a0.85,0.85 0 1,0 -1.7,0M542.3,226.4a0.85,0.85 0 1,0 1.7,0a0.85,0.85 0 1,0 -1.7,0M604.1,223.9a0.85,0.85 0 1,0 1.7,0a0.85,0.85 0 1,0 -1.7,0M642.0,225.6a0.85,0.85 0 1,0 1.7,0a0.85,0.85 0 1,0 -1.7,0M621.5,226.0a0.85,0.85 0 1,0 1.7,0a0.85,0.85 0 1,0 -1.7,0M531.5,227.5a0.85,0.85 0 1,0 1.7,0a0.85,0.85 0 1,0 -1.7,0M611.0,225.2a0.85,0.85 0 1,0 1.7,0a0.85,0.85 0 1,0 -1.7,0M483.1,228.7a0.85,0.85 0 1,0 1.7,0a0.85,0.85 0 1,0 -1.7,0M518.3,228.6a0.85,0.85 0 1,0 1.7,0a0.85,0.85 0 1,0 -1.7,0M475.9,228.0a0.85,0.85 0 1,0 1.7,0a0.85,0.85 0 1,0 -1.7,0M481.2,228.9a0.85,0.85 0 1,0 1.7,0a0.85,0.85 0 1,0 -1.7,0M455.5,228.4a0.85,0.85 0 1,0 1.7,0a0.85,0.85 0 1,0 -1.7,0M582.6,225.4a0.85,0.85 0 1,0 1.7,0a0.85,0.85 0 1,0 -1.7,0M650.7,224.5a0.85,0.85 0 1,0 1.7,0a0.85,0.85 0 1,0 -1.7,0M608.8,224.8a0.85,0.85 0 1,0 1.7,0a0.85,0.85 0 1,0 -1.7,0M599.0,224.5a0.85,0.85 0 1,0 1.7,0a0.85,0.85 0 1,0 -1.7,0M508.8,228.6a0.85,0.85 0 1,0 1.7,0a0.85,0.85 0 1,0 -1.7,0M456.1,228.6a0.85,0.85 0 1,0 1.7,0a0.85,0.85 0 1,0 -1.7,0M575.5,227.3a0.85,0.85 0 1,0 1.7,0a0.85,0.85 0 1,0 -1.7,0M608.4,226.2a0.85,0.85 0 1,0 1.7,0a0.85,0.85 0 1,0 -1.7,0M510.4,228.8a0.85,0.85 0 1,0 1.7,0a0.85,0.85 0 1,0 -1.7,0M500.9,227.1a0.85,0.85 0 1,0 1.7,0a0.85,0.85 0 1,0 -1.7,0M554.3,226.6a0.85,0.85 0 1,0 1.7,0a0.85,0.85 0 1,0 -1.7,0M633.4,225.4a0.85,0.85 0 1,0 1.7,0a0.85,0.85 0 1,0 -1.7,0M527.3,226.8a0.85,0.85 0 1,0 1.7,0a0.85,0.85 0 1,0 -1.7,0M468.3,229.0a0.85,0.85 0 1,0 1.7,0a0.85,0.85 0 1,0 -1.7,0M637.1,225.3a0.85,0.85 0 1,0 1.7,0a0.85,0.85 0 1,0 -1.7,0M525.7,227.2a0.85,0.85 0 1,0 1.7,0a0.85,0.85 0 1,0 -1.7,0M610.4,225.1a0.85,0.85 0 1,0 1.7,0a0.85,0.85 0 1,0 -1.7,0M507.4,227.6a0.85,0.85 0 1,0 1.7,0a0.85,0.85 0 1,0 -1.7,0M589.0,223.7a0.85,0.85 0 1,0 1.7,0a0.85,0.85 0 1,0 -1.7,0M559.1,226.0a0.85,0.85 0 1,0 1.7,0a0.85,0.85 0 1,0 -1.7,0M602.5,224.2a0.85,0.85 0 1,0 1.7,0a0.85,0.85 0 1,0 -1.7,0M572.8,227.7a0.85,0.85 0 1,0 1.7,0a0.85,0.85 0 1,0 -1.7,0M581.0,225.9a0.85,0.85 0 1,0 1.7,0a0.85,0.85 0 1,0 -1.7,0M660.7,226.2a0.85,0.85 0 1,0 1.7,0a0.85,0.85 0 1,0 -1.7,0M617.1,224.8a0.85,0.85 0 1,0 1.7,0a0.85,0.85 0 1,0 -1.7,0M529.8,227.8a0.85,0.85 0 1,0 1.7,0a0.85,0.85 0 1,0 -1.7,0M500.3,228.3a0.85,0.85 0 1,0 1.7,0a0.85,0.85 0 1,0 -1.7,0M543.6,227.1a0.85,0.85 0 1,0 1.7,0a0.85,0.85 0 1,0 -1.7,0M558.1,227.8a0.85,0.85 0 1,0 1.7,0a0.85,0.85 0 1,0 -1.7,0M587.6,224.5a0.85,0.85 0 1,0 1.7,0a0.85,0.85 0 1,0 -1.7,0M561.6,227.2a0.85,0.85 0 1,0 1.7,0a0.85,0.85 0 1,0 -1.7,0M633.2,225.4a0.85,0.85 0 1,0 1.7,0a0.85,0.85 0 1,0 -1.7,0M590.2,224.5a0.85,0.85 0 1,0 1.7,0a0.85,0.85 0 1,0 -1.7,0M535.8,228.2a0.85,0.85 0 1,0 1.7,0a0.85,0.85 0 1,0 -1.7,0M593.8,224.6a0.85,0.85 0 1,0 1.7,0a0.85,0.85 0 1,0 -1.7,0M466.1,229.4a0.85,0.85 0 1,0 1.7,0a0.85,0.85 0 1,0 -1.7,0M462.8,229.7a0.85,0.85 0 1,0 1.7,0a0.85,0.85 0 1,0 -1.7,0M526.8,228.3a0.85,0.85 0 1,0 1.7,0a0.85,0.85 0 1,0 -1.7,0M547.2,227.9a0.85,0.85 0 1,0 1.7,0a0.85,0.85 0 1,0 -1.7,0M500.4,228.1a0.85,0.85 0 1,0 1.7,0a0.85,0.85 0 1,0 -1.7,0M512.4,228.5a0.85,0.85 0 1,0 1.7,0a0.85,0.85 0 1,0 -1.7,0M554.6,226.5a0.85,0.85 0 1,0 1.7,0a0.85,0.85 0 1,0 -1.7,0M464.3,229.7a0.85,0.85 0 1,0 1.7,0a0.85,0.85 0 1,0 -1.7,0M545.4,226.4a0.85,0.85 0 1,0 1.7,0a0.85,0.85 0 1,0 -1.7,0M584.0,224.9a0.85,0.85 0 1,0 1.7,0a0.85,0.85 0 1,0 -1.7,0M655.4,225.4a0.85,0.85 0 1,0 1.7,0a0.85,0.85 0 1,0 -1.7,0M624.6,224.8a0.85,0.85 0 1,0 1.7,0a0.85,0.85 0 1,0 -1.7,0M459.7,229.5a0.85,0.85 0 1,0 1.7,0a0.85,0.85 0 1,0 -1.7,0M617.3,225.9a0.85,0.85 0 1,0 1.7,0a0.85,0.85 0 1,0 -1.7,0M640.3,226.6a0.85,0.85 0 1,0 1.7,0a0.85,0.85 0 1,0 -1.7,0M648.1,225.5a0.85,0.85 0 1,0 1.7,0a0.85,0.85 0 1,0 -1.7,0M537.8,227.2a0.85,0.85 0 1,0 1.7,0a0.85,0.85 0 1,0 -1.7,0M563.8,227.2a0.85,0.85 0 1,0 1.7,0a0.85,0.85 0 1,0 -1.7,0M490.2,227.6a0.85,0.85 0 1,0 1.7,0a0.85,0.85 0 1,0 -1.7,0M482.2,228.9a0.85,0.85 0 1,0 1.7,0a0.85,0.85 0 1,0 -1.7,0M470.0,229.6a0.85,0.85 0 1,0 1.7,0a0.85,0.85 0 1,0 -1.7,0M513.8,228.9a0.85,0.85 0 1,0 1.7,0a0.85,0.85 0 1,0 -1.7,0M549.9,227.5a0.85,0.85 0 1,0 1.7,0a0.85,0.85 0 1,0 -1.7,0M455.3,229.0a0.85,0.85 0 1,0 1.7,0a0.85,0.85 0 1,0 -1.7,0M511.6,228.6a0.85,0.85 0 1,0 1.7,0a0.85,0.85 0 1,0 -1.7,0M565.0,227.5a0.85,0.85 0 1,0 1.7,0a0.85,0.85 0 1,0 -1.7,0M463.0,227.7a0.85,0.85 0 1,0 1.7,0a0.85,0.85 0 1,0 -1.7,0M655.2,226.4a0.85,0.85 0 1,0 1.7,0a0.85,0.85 0 1,0 -1.7,0M589.7,224.3a0.85,0.85 0 1,0 1.7,0a0.85,0.85 0 1,0 -1.7,0M503.7,227.9a0.85,0.85 0 1,0 1.7,0a0.85,0.85 0 1,0 -1.7,0M507.2,228.5a0.85,0.85 0 1,0 1.7,0a0.85,0.85 0 1,0 -1.7,0M546.6,228.2a0.85,0.85 0 1,0 1.7,0a0.85,0.85 0 1,0 -1.7,0M499.8,226.7a0.85,0.85 0 1,0 1.7,0a0.85,0.85 0 1,0 -1.7,0M613.0,226.0a0.85,0.85 0 1,0 1.7,0a0.85,0.85 0 1,0 -1.7,0M660.5,226.2a0.85,0.85 0 1,0 1.7,0a0.85,0.85 0 1,0 -1.7,0M630.0,226.1a0.85,0.85 0 1,0 1.7,0a0.85,0.85 0 1,0 -1.7,0M639.0,225.9a0.85,0.85 0 1,0 1.7,0a0.85,0.85 0 1,0 -1.7,0M634.3,226.5a0.85,0.85 0 1,0 1.7,0a0.85,0.85 0 1,0 -1.7,0M534.2,228.3a0.85,0.85 0 1,0 1.7,0a0.85,0.85 0 1,0 -1.7,0M615.4,224.7a0.85,0.85 0 1,0 1.7,0a0.85,0.85 0 1,0 -1.7,0M480.0,228.8a0.85,0.85 0 1,0 1.7,0a0.85,0.85 0 1,0 -1.7,0M487.7,229.2a0.85,0.85 0 1,0 1.7,0a0.85,0.85 0 1,0 -1.7,0M478.8,229.4a0.85,0.85 0 1,0 1.7,0a0.85,0.85 0 1,0 -1.7,0M514.8,228.2a0.85,0.85 0 1,0 1.7,0a0.85,0.85 0 1,0 -1.7,0M641.2,225.4a0.85,0.85 0 1,0 1.7,0a0.85,0.85 0 1,0 -1.7,0M611.0,226.0a0.85,0.85 0 1,0 1.7,0a0.85,0.85 0 1,0 -1.7,0M519.0,228.2a0.85,0.85 0 1,0 1.7,0a0.85,0.85 0 1,0 -1.7,0M500.3,228.9a0.85,0.85 0 1,0 1.7,0a0.85,0.85 0 1,0 -1.7,0M509.3,226.9a0.85,0.85 0 1,0 1.7,0a0.85,0.85 0 1,0 -1.7,0M462.3,228.8a0.85,0.85 0 1,0 1.7,0a0.85,0.85 0 1,0 -1.7,0M500.2,227.4a0.85,0.85 0 1,0 1.7,0a0.85,0.85 0 1,0 -1.7,0M459.5,228.9a0.85,0.85 0 1,0 1.7,0a0.85,0.85 0 1,0 -1.7,0M603.5,223.7a0.85,0.85 0 1,0 1.7,0a0.85,0.85 0 1,0 -1.7,0M481.6,227.5a0.85,0.85 0 1,0 1.7,0a0.85,0.85 0 1,0 -1.7,0M455.6,227.8a0.85,0.85 0 1,0 1.7,0a0.85,0.85 0 1,0 -1.7,0M623.0,224.7a0.85,0.85 0 1,0 1.7,0a0.85,0.85 0 1,0 -1.7,0M633.0,226.1a0.85,0.85 0 1,0 1.7,0a0.85,0.85 0 1,0 -1.7,0M582.8,224.7a0.85,0.85 0 1,0 1.7,0a0.85,0.85 0 1,0 -1.7,0M574.2,227.3a0.85,0.85 0 1,0 1.7,0a0.85,0.85 0 1,0 -1.7,0M630.7,226.2a0.85,0.85 0 1,0 1.7,0a0.85,0.85 0 1,0 -1.7,0M569.2,227.9a0.85,0.85 0 1,0 1.7,0a0.85,0.85 0 1,0 -1.7,0M463.8,227.8a0.85,0.85 0 1,0 1.7,0a0.85,0.85 0 1,0 -1.7,0M526.3,228.3a0.85,0.85 0 1,0 1.7,0a0.85,0.85 0 1,0 -1.7,0M658.1,225.3a0.85,0.85 0 1,0 1.7,0a0.85,0.85 0 1,0 -1.7,0M484.1,228.4a0.85,0.85 0 1,0 1.7,0a0.85,0.85 0 1,0 -1.7,0M552.8,226.9a0.85,0.85 0 1,0 1.7,0a0.85,0.85 0 1,0 -1.7,0M508.7,228.5a0.85,0.85 0 1,0 1.7,0a0.85,0.85 0 1,0 -1.7,0M649.6,225.6a0.85,0.85 0 1,0 1.7,0a0.85,0.85 0 1,0 -1.7,0M567.0,226.6a0.85,0.85 0 1,0 1.7,0a0.85,0.85 0 1,0 -1.7,0M609.2,226.3a0.85,0.85 0 1,0 1.7,0a0.85,0.85 0 1,0 -1.7,0M615.6,225.7a0.85,0.85 0 1,0 1.7,0a0.85,0.85 0 1,0 -1.7,0M483.1,228.9a0.85,0.85 0 1,0 1.7,0a0.85,0.85 0 1,0 -1.7,0M659.2,224.9a0.85,0.85 0 1,0 1.7,0a0.85,0.85 0 1,0 -1.7,0M640.9,225.8a0.85,0.85 0 1,0 1.7,0a0.85,0.85 0 1,0 -1.7,0M584.9,224.8a0.85,0.85 0 1,0 1.7,0a0.85,0.85 0 1,0 -1.7,0M605.6,223.9a0.85,0.85 0 1,0 1.7,0a0.85,0.85 0 1,0 -1.7,0M526.5,226.8a0.85,0.85 0 1,0 1.7,0a0.85,0.85 0 1,0 -1.7,0M556.5,228.0a0.85,0.85 0 1,0 1.7,0a0.85,0.85 0 1,0 -1.7,0M622.2,226.5a0.85,0.85 0 1,0 1.7,0a0.85,0.85 0 1,0 -1.7,0M510.2,228.1a0.85,0.85 0 1,0 1.7,0a0.85,0.85 0 1,0 -1.7,0M495.9,228.2a0.85,0.85 0 1,0 1.7,0a0.85,0.85 0 1,0 -1.7,0M543.7,227.5a0.85,0.85 0 1,0 1.7,0a0.85,0.85 0 1,0 -1.7,0M588.2,224.1a0.85,0.85 0 1,0 1.7,0a0.85,0.85 0 1,0 -1.7,0M462.1,229.4a0.85,0.85 0 1,0 1.7,0a0.85,0.85 0 1,0 -1.7,0M476.0,229.0a0.85,0.85 0 1,0 1.7,0a0.85,0.85 0 1,0 -1.7,0M547.3,226.4a0.85,0.85 0 1,0 1.7,0a0.85,0.85 0 1,0 -1.7,0M454.5,228.2a0.85,0.85 0 1,0 1.7,0a0.85,0.85 0 1,0 -1.7,0M484.2,227.9a0.85,0.85 0 1,0 1.7,0a0.85,0.85 0 1,0 -1.7,0M629.4,224.5a0.85,0.85 0 1,0 1.7,0a0.85,0.85 0 1,0 -1.7,0M572.2,227.9a0.85,0.85 0 1,0 1.7,0a0.85,0.85 0 1,0 -1.7,0M511.8,228.2a0.85,0.85 0 1,0 1.7,0a0.85,0.85 0 1,0 -1.7,0M592.9,223.2a0.85,0.85 0 1,0 1.7,0a0.85,0.85 0 1,0 -1.7,0M635.3,226.6a0.85,0.85 0 1,0 1.7,0a0.85,0.85 0 1,0 -1.7,0M478.5,228.2a0.85,0.85 0 1,0 1.7,0a0.85,0.85 0 1,0 -1.7,0M495.0,227.9a0.85,0.85 0 1,0 1.7,0a0.85,0.85 0 1,0 -1.7,0M558.3,227.0a0.85,0.85 0 1,0 1.7,0a0.85,0.85 0 1,0 -1.7,0M524.7,227.0a0.85,0.85 0 1,0 1.7,0a0.85,0.85 0 1,0 -1.7,0M513.1,228.3a0.85,0.85 0 1,0 1.7,0a0.85,0.85 0 1,0 -1.7,0M485.4,228.9a0.85,0.85 0 1,0 1.7,0a0.85,0.85 0 1,0 -1.7,0M479.4,228.3a0.85,0.85 0 1,0 1.7,0a0.85,0.85 0 1,0 -1.7,0M455.9,229.5a0.85,0.85 0 1,0 1.7,0a0.85,0.85 0 1,0 -1.7,0M620.9,224.8a0.85,0.85 0 1,0 1.7,0a0.85,0.85 0 1,0 -1.7,0M522.7,227.4a0.85,0.85 0 1,0 1.7,0a0.85,0.85 0 1,0 -1.7,0M621.3,225.3a0.85,0.85 0 1,0 1.7,0a0.85,0.85 0 1,0 -1.7,0M581.7,224.3a0.85,0.85 0 1,0 1.7,0a0.85,0.85 0 1,0 -1.7,0M518.5,228.4a0.85,0.85 0 1,0 1.7,0a0.85,0.85 0 1,0 -1.7,0M505.3,228.6a0.85,0.85 0 1,0 1.7,0a0.85,0.85 0 1,0 -1.7,0M559.1,227.0a0.85,0.85 0 1,0 1.7,0a0.85,0.85 0 1,0 -1.7,0M491.5,229.0a0.85,0.85 0 1,0 1.7,0a0.85,0.85 0 1,0 -1.7,0M456.7,229.5a0.85,0.85 0 1,0 1.7,0a0.85,0.85 0 1,0 -1.7,0M484.3,228.2a0.85,0.85 0 1,0 1.7,0a0.85,0.85 0 1,0 -1.7,0M621.7,225.6a0.85,0.85 0 1,0 1.7,0a0.85,0.85 0 1,0 -1.7,0M586.5,224.7a0.85,0.85 0 1,0 1.7,0a0.85,0.85 0 1,0 -1.7,0M467.2,228.2a0.85,0.85 0 1,0 1.7,0a0.85,0.85 0 1,0 -1.7,0M612.1,226.3a0.85,0.85 0 1,0 1.7,0a0.85,0.85 0 1,0 -1.7,0M516.6,227.6a0.85,0.85 0 1,0 1.7,0a0.85,0.85 0 1,0 -1.7,0M599.5,224.3a0.85,0.85 0 1,0 1.7,0a0.85,0.85 0 1,0 -1.7,0M532.7,228.3a0.85,0.85 0 1,0 1.7,0a0.85,0.85 0 1,0 -1.7,0M565.9,226.3a0.85,0.85 0 1,0 1.7,0a0.85,0.85 0 1,0 -1.7,0M482.2,228.8a0.85,0.85 0 1,0 1.7,0a0.85,0.85 0 1,0 -1.7,0M644.9,226.5a0.85,0.85 0 1,0 1.7,0a0.85,0.85 0 1,0 -1.7,0M488.6,227.6a0.85,0.85 0 1,0 1.7,0a0.85,0.85 0 1,0 -1.7,0M582.3,224.7a0.85,0.85 0 1,0 1.7,0a0.85,0.85 0 1,0 -1.7,0M547.6,228.1a0.85,0.85 0 1,0 1.7,0a0.85,0.85 0 1,0 -1.7,0M585.9,225.1a0.85,0.85 0 1,0 1.7,0a0.85,0.85 0 1,0 -1.7,0M544.1,226.5a0.85,0.85 0 1,0 1.7,0a0.85,0.85 0 1,0 -1.7,0M555.5,227.4a0.85,0.85 0 1,0 1.7,0a0.85,0.85 0 1,0 -1.7,0M525.4,228.5a0.85,0.85 0 1,0 1.7,0a0.85,0.85 0 1,0 -1.7,0M581.1,224.9a0.85,0.85 0 1,0 1.7,0a0.85,0.85 0 1,0 -1.7,0M475.7,229.5a0.85,0.85 0 1,0 1.7,0a0.85,0.85 0 1,0 -1.7,0M534.3,228.7a0.85,0.85 0 1,0 1.7,0a0.85,0.85 0 1,0 -1.7,0M577.0,227.7a0.85,0.85 0 1,0 1.7,0a0.85,0.85 0 1,0 -1.7,0M557.3,227.2a0.85,0.85 0 1,0 1.7,0a0.85,0.85 0 1,0 -1.7,0M655.5,226.2a0.85,0.85 0 1,0 1.7,0a0.85,0.85 0 1,0 -1.7,0M506.5,228.4a0.85,0.85 0 1,0 1.7,0a0.85,0.85 0 1,0 -1.7,0M589.7,225.1a0.85,0.85 0 1,0 1.7,0a0.85,0.85 0 1,0 -1.7,0M502.2,227.5a0.85,0.85 0 1,0 1.7,0a0.85,0.85 0 1,0 -1.7,0M562.5,227.9a0.85,0.85 0 1,0 1.7,0a0.85,0.85 0 1,0 -1.7,0M629.0,226.5a0.85,0.85 0 1,0 1.7,0a0.85,0.85 0 1,0 -1.7,0M513.7,227.9a0.85,0.85 0 1,0 1.7,0a0.85,0.85 0 1,0 -1.7,0M547.3,226.6a0.85,0.85 0 1,0 1.7,0a0.85,0.85 0 1,0 -1.7,0M482.6,228.1a0.85,0.85 0 1,0 1.7,0a0.85,0.85 0 1,0 -1.7,0M489.1,229.1a0.85,0.85 0 1,0 1.7,0a0.85,0.85 0 1,0 -1.7,0M598.0,223.4a0.85,0.85 0 1,0 1.7,0a0.85,0.85 0 1,0 -1.7,0M474.2,229.5a0.85,0.85 0 1,0 1.7,0a0.85,0.85 0 1,0 -1.7,0M493.6,228.0a0.85,0.85 0 1,0 1.7,0a0.85,0.85 0 1,0 -1.7,0M458.2,227.7a0.85,0.85 0 1,0 1.7,0a0.85,0.85 0 1,0 -1.7,0M455.4,228.4a0.85,0.85 0 1,0 1.7,0a0.85,0.85 0 1,0 -1.7,0M620.3,225.9a0.85,0.85 0 1,0 1.7,0a0.85,0.85 0 1,0 -1.7,0M622.4,226.4a0.85,0.85 0 1,0 1.7,0a0.85,0.85 0 1,0 -1.7,0M614.0,225.5a0.85,0.85 0 1,0 1.7,0a0.85,0.85 0 1,0 -1.7,0M630.0,225.0a0.85,0.85 0 1,0 1.7,0a0.85,0.85 0 1,0 -1.7,0M616.5,224.7a0.85,0.85 0 1,0 1.7,0a0.85,0.85 0 1,0 -1.7,0M504.9,228.9a0.85,0.85 0 1,0 1.7,0a0.85,0.85 0 1,0 -1.7,0M487.4,227.7a0.85,0.85 0 1,0 1.7,0a0.85,0.85 0 1,0 -1.7,0M560.1,227.1a0.85,0.85 0 1,0 1.7,0a0.85,0.85 0 1,0 -1.7,0M550.7,228.1a0.85,0.85 0 1,0 1.7,0a0.85,0.85 0 1,0 -1.7,0M645.6,225.6a0.85,0.85 0 1,0 1.7,0a0.85,0.85 0 1,0 -1.7,0M574.2,227.1a0.85,0.85 0 1,0 1.7,0a0.85,0.85 0 1,0 -1.7,0M637.0,225.9a0.85,0.85 0 1,0 1.7,0a0.85,0.85 0 1,0 -1.7,0M564.5,226.4a0.85,0.85 0 1,0 1.7,0a0.85,0.85 0 1,0 -1.7,0M482.6,227.7a0.85,0.85 0 1,0 1.7,0a0.85,0.85 0 1,0 -1.7,0M582.4,225.0a0.85,0.85 0 1,0 1.7,0a0.85,0.85 0 1,0 -1.7,0M482.7,228.5a0.85,0.85 0 1,0 1.7,0a0.85,0.85 0 1,0 -1.7,0M513.1,228.9a0.85,0.85 0 1,0 1.7,0a0.85,0.85 0 1,0 -1.7,0M624.4,225.1a0.85,0.85 0 1,0 1.7,0a0.85,0.85 0 1,0 -1.7,0M640.1,225.2a0.85,0.85 0 1,0 1.7,0a0.85,0.85 0 1,0 -1.7,0M536.6,226.9a0.85,0.85 0 1,0 1.7,0a0.85,0.85 0 1,0 -1.7,0M501.9,228.5a0.85,0.85 0 1,0 1.7,0a0.85,0.85 0 1,0 -1.7,0M549.8,226.8a0.85,0.85 0 1,0 1.7,0a0.85,0.85 0 1,0 -1.7,0M472.3,229.5a0.85,0.85 0 1,0 1.7,0a0.85,0.85 0 1,0 -1.7,0M646.8,226.7a0.85,0.85 0 1,0 1.7,0a0.85,0.85 0 1,0 -1.7,0M607.2,225.7a0.85,0.85 0 1,0 1.7,0a0.85,0.85 0 1,0 -1.7,0M652.7,224.9a0.85,0.85 0 1,0 1.7,0a0.85,0.85 0 1,0 -1.7,0M548.8,227.1a0.85,0.85 0 1,0 1.7,0a0.85,0.85 0 1,0 -1.7,0M597.6,224.7a0.85,0.85 0 1,0 1.7,0a0.85,0.85 0 1,0 -1.7,0M455.6,227.7a0.85,0.85 0 1,0 1.7,0a0.85,0.85 0 1,0 -1.7,0M565.5,226.3a0.85,0.85 0 1,0 1.7,0a0.85,0.85 0 1,0 -1.7,0M564.4,227.9a0.85,0.85 0 1,0 1.7,0a0.85,0.85 0 1,0 -1.7,0M473.1,229.3a0.85,0.85 0 1,0 1.7,0a0.85,0.85 0 1,0 -1.7,0M653.9,225.0a0.85,0.85 0 1,0 1.7,0a0.85,0.85 0 1,0 -1.7,0M512.9,228.1a0.85,0.85 0 1,0 1.7,0a0.85,0.85 0 1,0 -1.7,0M654.5,225.8a0.85,0.85 0 1,0 1.7,0a0.85,0.85 0 1,0 -1.7,0M517.9,227.9a0.85,0.85 0 1,0 1.7,0a0.85,0.85 0 1,0 -1.7,0M486.9,228.2a0.85,0.85 0 1,0 1.7,0a0.85,0.85 0 1,0 -1.7,0M466.6,228.7a0.85,0.85 0 1,0 1.7,0a0.85,0.85 0 1,0 -1.7,0M474.8,229.5a0.85,0.85 0 1,0 1.7,0a0.85,0.85 0 1,0 -1.7,0M609.8,225.6a0.85,0.85 0 1,0 1.7,0a0.85,0.85 0 1,0 -1.7,0M485.0,228.7a0.85,0.85 0 1,0 1.7,0a0.85,0.85 0 1,0 -1.7,0M637.6,226.1a0.85,0.85 0 1,0 1.7,0a0.85,0.85 0 1,0 -1.7,0M508.8,228.1a0.85,0.85 0 1,0 1.7,0a0.85,0.85 0 1,0 -1.7,0M639.2,225.5a0.85,0.85 0 1,0 1.7,0a0.85,0.85 0 1,0 -1.7,0M550.8,226.9a0.85,0.85 0 1,0 1.7,0a0.85,0.85 0 1,0 -1.7,0M525.5,226.9a0.85,0.85 0 1,0 1.7,0a0.85,0.85 0 1,0 -1.7,0M508.6,228.6a0.85,0.85 0 1,0 1.7,0a0.85,0.85 0 1,0 -1.7,0M553.7,226.4a0.85,0.85 0 1,0 1.7,0a0.85,0.85 0 1,0 -1.7,0M613.4,225.3a0.85,0.85 0 1,0 1.7,0a0.85,0.85 0 1,0 -1.7,0M452.0,228.2a0.85,0.85 0 1,0 1.7,0a0.85,0.85 0 1,0 -1.7,0M642.6,226.6a0.85,0.85 0 1,0 1.7,0a0.85,0.85 0 1,0 -1.7,0M492.7,228.8a0.85,0.85 0 1,0 1.7,0a0.85,0.85 0 1,0 -1.7,0M478.8,229.3a0.85,0.85 0 1,0 1.7,0a0.85,0.85 0 1,0 -1.7,0M556.8,226.7a0.85,0.85 0 1,0 1.7,0a0.85,0.85 0 1,0 -1.7,0M548.9,227.1a0.85,0.85 0 1,0 1.7,0a0.85,0.85 0 1,0 -1.7,0M595.6,223.6a0.85,0.85 0 1,0 1.7,0a0.85,0.85 0 1,0 -1.7,0M655.4,225.3a0.85,0.85 0 1,0 1.7,0a0.85,0.85 0 1,0 -1.7,0M555.7,228.0a0.85,0.85 0 1,0 1.7,0a0.85,0.85 0 1,0 -1.7,0M513.3,228.6a0.85,0.85 0 1,0 1.7,0a0.85,0.85 0 1,0 -1.7,0M652.6,225.2a0.85,0.85 0 1,0 1.7,0a0.85,0.85 0 1,0 -1.7,0M478.4,229.0a0.85,0.85 0 1,0 1.7,0a0.85,0.85 0 1,0 -1.7,0M540.0,227.6a0.85,0.85 0 1,0 1.7,0a0.85,0.85 0 1,0 -1.7,0M655.7,226.2a0.85,0.85 0 1,0 1.7,0a0.85,0.85 0 1,0 -1.7,0M598.0,224.3a0.85,0.85 0 1,0 1.7,0a0.85,0.85 0 1,0 -1.7,0M641.1,225.8a0.85,0.85 0 1,0 1.7,0a0.85,0.85 0 1,0 -1.7,0M612.2,225.4a0.85,0.85 0 1,0 1.7,0a0.85,0.85 0 1,0 -1.7,0M602.4,223.0a0.85,0.85 0 1,0 1.7,0a0.85,0.85 0 1,0 -1.7,0" fill="#000"/>
<path d="M644.6,221.5a0.85,0.85 0 1,0 1.7,0a0.85,0.85 0 1,0 -1.7,0M646.2,221.5a0.85,0.85 0 1,0 1.7,0a0.85,0.85 0 1,0 -1.7,0M647.9,221.5a0.85,0.85 0 1,0 1.7,0a0.85,0.85 0 1,0 -1.7,0M649.4,221.5a0.85,0.85 0 1,0 1.7,0a0.85,0.85 0 1,0 -1.7,0M651.0,221.5a0.85,0.85 0 1,0 1.7,0a0.85,0.85 0 1,0 -1.7,0M652.6,221.5a0.85,0.85 0 1,0 1.7,0a0.85,0.85 0 1,0 -1.7,0M654.2,221.5a0.85,0.85 0 1,0 1.7,0a0.85,0.85 0 1,0 -1.7,0M655.9,221.5a0.85,0.85 0 1,0 1.7,0a0.85,0.85 0 1,0 -1.7,0M657.4,221.5a0.85,0.85 0 1,0 1.7,0a0.85,0.85 0 1,0 -1.7,0M659.0,221.5a0.85,0.85 0 1,0 1.7,0a0.85,0.85 0 1,0 -1.7,0M600.4,221.0a0.85,0.85 0 1,0 1.7,0a0.85,0.85 0 1,0 -1.7,0M604.9,221.0a0.85,0.85 0 1,0 1.7,0a0.85,0.85 0 1,0 -1.7,0M602.6,221.4a0.85,0.85 0 1,0 1.7,0a0.85,0.85 0 1,0 -1.7,0M469.1,226.2a0.85,0.85 0 1,0 1.7,0a0.85,0.85 0 1,0 -1.7,0M461.1,226.4a0.85,0.85 0 1,0 1.7,0a0.85,0.85 0 1,0 -1.7,0" fill="#000"/>
<line x1="452.20" y1="232.4" x2="452.20" y2="233.8" stroke="#333" stroke-width="0.6"/>
<text x="452.20" y="241.40" font-size="7.75" fill="#4d4d4d" text-anchor="middle" >35,405,000</text>
<line x1="504.47" y1="232.4" x2="504.47" y2="233.8" stroke="#333" stroke-width="0.6"/>
<text x="504.47" y="241.40" font-size="7.75" fill="#4d4d4d" text-anchor="middle" >35,655,000</text>
<line x1="556.75" y1="232.4" x2="556.75" y2="233.8" stroke="#333" stroke-width="0.6"/>
<text x="556.75" y="241.40" font-size="7.75" fill="#4d4d4d" text-anchor="middle" >35,905,000</text>
<line x1="609.02" y1="232.4" x2="609.02" y2="233.8" stroke="#333" stroke-width="0.6"/>
<text x="609.02" y="241.40" font-size="7.75" fill="#4d4d4d" text-anchor="middle" >36,155,000</text>
<line x1="661.30" y1="232.4" x2="661.30" y2="233.8" stroke="#333" stroke-width="0.6"/>
<text x="661.30" y="241.40" font-size="7.75" fill="#4d4d4d" text-anchor="middle" >36,405,000</text>
<text x="557.20" y="253.50" font-size="9.9" font-weight="bold" fill="#000" text-anchor="middle" >Genomic coordinate, chr9 (hg38)</text>
<text transform="translate(360.9,294.4) scale(0.92,1)" font-size="16.6">F</text>
<line x1="458.1" y1="287" x2="458.1" y2="441.5" stroke="#d9d9d9" stroke-width="0.8"/>
<line x1="458.1" y1="441.4" x2="625.9" y2="441.4" stroke="#d9d9d9" stroke-width="0.8"/>
<text x="451.20" y="444.20" font-size="8.5" fill="#4a4a4a" text-anchor="end" >0.0</text>
<text x="451.20" y="413.46" font-size="8.5" fill="#4a4a4a" text-anchor="end" >0.2</text>
<text x="451.20" y="382.72" font-size="8.5" fill="#4a4a4a" text-anchor="end" >0.4</text>
<text x="451.20" y="351.98" font-size="8.5" fill="#4a4a4a" text-anchor="end" >0.6</text>
<text x="451.20" y="321.24" font-size="8.5" fill="#4a4a4a" text-anchor="end" >0.8</text>
<text x="451.20" y="290.50" font-size="8.5" fill="#4a4a4a" text-anchor="end" >1.0</text>
<text x="458.00" y="453.90" font-size="8.5" fill="#4a4a4a" text-anchor="middle" >0</text>
<text x="541.10" y="453.90" font-size="8.5" fill="#4a4a4a" text-anchor="middle" >50</text>
<text x="624.20" y="453.90" font-size="8.5" fill="#4a4a4a" text-anchor="middle" >100</text>
<text transform="translate(432.2,365.8) rotate(-90)" font-size="9.45" fill="#404040" text-anchor="middle">Causal probability from CAVIAR</text>
<text x="543.20" y="468.60" font-size="9.4" fill="#404040" text-anchor="middle" >TR and the top 100 SNVs within 500kb</text>
<circle cx="459.20" cy="441.10" r="1.6" fill="#8c8c8c" stroke="#444" stroke-width="0.55"/>
<circle cx="460.86" cy="441.10" r="1.6" fill="#8c8c8c" stroke="#444" stroke-width="0.55"/>
<circle cx="462.52" cy="441.10" r="1.6" fill="#8c8c8c" stroke="#444" stroke-width="0.55"/>
<circle cx="464.19" cy="441.10" r="1.6" fill="#8c8c8c" stroke="#444" stroke-width="0.55"/>
<circle cx="465.85" cy="441.10" r="1.6" fill="#8c8c8c" stroke="#444" stroke-width="0.55"/>
<circle cx="467.51" cy="441.10" r="1.6" fill="#8c8c8c" stroke="#444" stroke-width="0.55"/>
<circle cx="469.17" cy="441.10" r="1.6" fill="#8c8c8c" stroke="#444" stroke-width="0.55"/>
<circle cx="470.83" cy="441.10" r="1.6" fill="#8c8c8c" stroke="#444" stroke-width="0.55"/>
<circle cx="472.50" cy="441.10" r="1.6" fill="#8c8c8c" stroke="#444" stroke-width="0.55"/>
<circle cx="474.16" cy="441.10" r="1.6" fill="#8c8c8c" stroke="#444" stroke-width="0.55"/>
<circle cx="475.82" cy="441.10" r="1.6" fill="#8c8c8c" stroke="#444" stroke-width="0.55"/>
<circle cx="477.48" cy="441.10" r="1.6" fill="#8c8c8c" stroke="#444" stroke-width="0.55"/>
<circle cx="479.14" cy="441.10" r="1.6" fill="#8c8c8c" stroke="#444" stroke-width="0.55"/>
<circle cx="480.81" cy="441.10" r="1.6" fill="#8c8c8c" stroke="#444" stroke-width="0.55"/>
<circle cx="482.47" cy="441.10" r="1.6" fill="#8c8c8c" stroke="#444" stroke-width="0.55"/>
<circle cx="484.13" cy="441.10" r="1.6" fill="#8c8c8c" stroke="#444" stroke-width="0.55"/>
<circle cx="485.79" cy="441.10" r="1.6" fill="#8c8c8c" stroke="#444" stroke-width="0.55"/>
<circle cx="487.45" cy="441.10" r="1.6" fill="#8c8c8c" stroke="#444" stroke-width="0.55"/>
<circle cx="489.12" cy="441.10" r="1.6" fill="#8c8c8c" stroke="#444" stroke-width="0.55"/>
<circle cx="490.78" cy="441.10" r="1.6" fill="#8c8c8c" stroke="#444" stroke-width="0.55"/>
<circle cx="492.44" cy="441.10" r="1.6" fill="#8c8c8c" stroke="#444" stroke-width="0.55"/>
<circle cx="494.10" cy="441.10" r="1.6" fill="#8c8c8c" stroke="#444" stroke-width="0.55"/>
<circle cx="495.76" cy="441.10" r="1.6" fill="#8c8c8c" stroke="#444" stroke-width="0.55"/>
<circle cx="497.43" cy="441.10" r="1.6" fill="#8c8c8c" stroke="#444" stroke-width="0.55"/>
<circle cx="499.09" cy="441.10" r="1.6" fill="#8c8c8c" stroke="#444" stroke-width="0.55"/>
<circle cx="500.75" cy="441.10" r="1.6" fill="#8c8c8c" stroke="#444" stroke-width="0.55"/>
<circle cx="502.41" cy="441.10" r="1.6" fill="#8c8c8c" stroke="#444" stroke-width="0.55"/>
<circle cx="504.07" cy="441.10" r="1.6" fill="#8c8c8c" stroke="#444" stroke-width="0.55"/>
<circle cx="505.74" cy="441.10" r="1.6" fill="#8c8c8c" stroke="#444" stroke-width="0.55"/>
<circle cx="507.40" cy="441.10" r="1.6" fill="#8c8c8c" stroke="#444" stroke-width="0.55"/>
<circle cx="509.06" cy="441.10" r="1.6" fill="#8c8c8c" stroke="#444" stroke-width="0.55"/>
<circle cx="510.72" cy="441.10" r="1.6" fill="#8c8c8c" stroke="#444" stroke-width="0.55"/>
<circle cx="512.38" cy="441.10" r="1.6" fill="#8c8c8c" stroke="#444" stroke-width="0.55"/>
<circle cx="514.05" cy="441.10" r="1.6" fill="#8c8c8c" stroke="#444" stroke-width="0.55"/>
<circle cx="515.71" cy="441.10" r="1.6" fill="#8c8c8c" stroke="#444" stroke-width="0.55"/>
<circle cx="517.37" cy="441.10" r="1.6" fill="#8c8c8c" stroke="#444" stroke-width="0.55"/>
<circle cx="519.03" cy="441.10" r="1.6" fill="#8c8c8c" stroke="#444" stroke-width="0.55"/>
<circle cx="520.69" cy="441.10" r="1.6" fill="#8c8c8c" stroke="#444" stroke-width="0.55"/>
<circle cx="522.36" cy="441.10" r="1.6" fill="#8c8c8c" stroke="#444" stroke-width="0.55"/>
<circle cx="524.02" cy="441.10" r="1.6" fill="#8c8c8c" stroke="#444" stroke-width="0.55"/>
<circle cx="525.68" cy="441.10" r="1.6" fill="#8c8c8c" stroke="#444" stroke-width="0.55"/>
<circle cx="527.34" cy="441.10" r="1.6" fill="#8c8c8c" stroke="#444" stroke-width="0.55"/>
<circle cx="529.00" cy="441.10" r="1.6" fill="#8c8c8c" stroke="#444" stroke-width="0.55"/>
<circle cx="530.67" cy="441.10" r="1.6" fill="#8c8c8c" stroke="#444" stroke-width="0.55"/>
<circle cx="532.33" cy="441.10" r="1.6" fill="#8c8c8c" stroke="#444" stroke-width="0.55"/>
<circle cx="533.99" cy="441.10" r="1.6" fill="#8c8c8c" stroke="#444" stroke-width="0.55"/>
<circle cx="535.65" cy="441.10" r="1.6" fill="#8c8c8c" stroke="#444" stroke-width="0.55"/>
<circle cx="537.31" cy="441.10" r="1.6" fill="#8c8c8c" stroke="#444" stroke-width="0.55"/>
<circle cx="538.98" cy="441.10" r="1.6" fill="#8c8c8c" stroke="#444" stroke-width="0.55"/>
<circle cx="540.64" cy="441.10" r="1.6" fill="#8c8c8c" stroke="#444" stroke-width="0.55"/>
<circle cx="542.30" cy="441.10" r="1.6" fill="#8c8c8c" stroke="#444" stroke-width="0.55"/>
<circle cx="543.96" cy="441.10" r="1.6" fill="#8c8c8c" stroke="#444" stroke-width="0.55"/>
<circle cx="545.62" cy="441.10" r="1.6" fill="#8c8c8c" stroke="#444" stroke-width="0.55"/>
<circle cx="547.29" cy="441.10" r="1.6" fill="#8c8c8c" stroke="#444" stroke-width="0.55"/>
<circle cx="548.95" cy="441.10" r="1.6" fill="#8c8c8c" stroke="#444" stroke-width="0.55"/>
<circle cx="550.61" cy="441.10" r="1.6" fill="#8c8c8c" stroke="#444" stroke-width="0.55"/>
<circle cx="552.27" cy="441.10" r="1.6" fill="#8c8c8c" stroke="#444" stroke-width="0.55"/>
<circle cx="553.93" cy="441.10" r="1.6" fill="#8c8c8c" stroke="#444" stroke-width="0.55"/>
<circle cx="555.60" cy="441.10" r="1.6" fill="#8c8c8c" stroke="#444" stroke-width="0.55"/>
<circle cx="557.26" cy="441.10" r="1.6" fill="#8c8c8c" stroke="#444" stroke-width="0.55"/>
<circle cx="558.92" cy="441.10" r="1.6" fill="#8c8c8c" stroke="#444" stroke-width="0.55"/>
<circle cx="560.58" cy="441.10" r="1.6" fill="#8c8c8c" stroke="#444" stroke-width="0.55"/>
<circle cx="562.24" cy="441.10" r="1.6" fill="#8c8c8c" stroke="#444" stroke-width="0.55"/>
<circle cx="563.91" cy="441.10" r="1.6" fill="#8c8c8c" stroke="#444" stroke-width="0.55"/>
<circle cx="565.57" cy="441.10" r="1.6" fill="#8c8c8c" stroke="#444" stroke-width="0.55"/>
<circle cx="567.23" cy="441.10" r="1.6" fill="#8c8c8c" stroke="#444" stroke-width="0.55"/>
<circle cx="568.89" cy="441.10" r="1.6" fill="#8c8c8c" stroke="#444" stroke-width="0.55"/>
<circle cx="570.55" cy="441.10" r="1.6" fill="#8c8c8c" stroke="#444" stroke-width="0.55"/>
<circle cx="572.22" cy="441.10" r="1.6" fill="#8c8c8c" stroke="#444" stroke-width="0.55"/>
<circle cx="573.88" cy="441.10" r="1.6" fill="#8c8c8c" stroke="#444" stroke-width="0.55"/>
<circle cx="575.54" cy="441.10" r="1.6" fill="#8c8c8c" stroke="#444" stroke-width="0.55"/>
<circle cx="577.20" cy="441.10" r="1.6" fill="#8c8c8c" stroke="#444" stroke-width="0.55"/>
<circle cx="578.86" cy="441.10" r="1.6" fill="#8c8c8c" stroke="#444" stroke-width="0.55"/>
<circle cx="580.53" cy="441.10" r="1.6" fill="#8c8c8c" stroke="#444" stroke-width="0.55"/>
<circle cx="582.19" cy="441.10" r="1.6" fill="#8c8c8c" stroke="#444" stroke-width="0.55"/>
<circle cx="583.85" cy="441.10" r="1.6" fill="#8c8c8c" stroke="#444" stroke-width="0.55"/>
<circle cx="585.51" cy="441.10" r="1.6" fill="#8c8c8c" stroke="#444" stroke-width="0.55"/>
<circle cx="587.17" cy="441.10" r="1.6" fill="#8c8c8c" stroke="#444" stroke-width="0.55"/>
<circle cx="588.84" cy="441.10" r="1.6" fill="#8c8c8c" stroke="#444" stroke-width="0.55"/>
<circle cx="590.50" cy="441.10" r="1.6" fill="#8c8c8c" stroke="#444" stroke-width="0.55"/>
<circle cx="592.16" cy="441.10" r="1.6" fill="#8c8c8c" stroke="#444" stroke-width="0.55"/>
<circle cx="593.82" cy="441.10" r="1.6" fill="#8c8c8c" stroke="#444" stroke-width="0.55"/>
<circle cx="595.48" cy="441.10" r="1.6" fill="#8c8c8c" stroke="#444" stroke-width="0.55"/>
<circle cx="597.15" cy="441.10" r="1.6" fill="#8c8c8c" stroke="#444" stroke-width="0.55"/>
<circle cx="598.81" cy="441.10" r="1.6" fill="#8c8c8c" stroke="#444" stroke-width="0.55"/>
<circle cx="600.47" cy="440.64" r="1.6" fill="#8c8c8c" stroke="#444" stroke-width="0.55"/>
<circle cx="602.13" cy="440.49" r="1.6" fill="#8c8c8c" stroke="#444" stroke-width="0.55"/>
<circle cx="603.79" cy="440.33" r="1.6" fill="#8c8c8c" stroke="#444" stroke-width="0.55"/>
<circle cx="605.46" cy="440.18" r="1.6" fill="#8c8c8c" stroke="#444" stroke-width="0.55"/>
<circle cx="607.12" cy="440.02" r="1.6" fill="#8c8c8c" stroke="#444" stroke-width="0.55"/>
<circle cx="608.78" cy="439.87" r="1.6" fill="#8c8c8c" stroke="#444" stroke-width="0.55"/>
<circle cx="610.44" cy="439.72" r="1.6" fill="#8c8c8c" stroke="#444" stroke-width="0.55"/>
<circle cx="612.10" cy="439.41" r="1.6" fill="#8c8c8c" stroke="#444" stroke-width="0.55"/>
<circle cx="613.77" cy="438.95" r="1.6" fill="#8c8c8c" stroke="#444" stroke-width="0.55"/>
<circle cx="615.43" cy="438.03" r="1.6" fill="#8c8c8c" stroke="#444" stroke-width="0.55"/>
<circle cx="617.09" cy="431.57" r="1.6" fill="#8c8c8c" stroke="#444" stroke-width="0.55"/>
<circle cx="618.75" cy="430.96" r="1.6" fill="#8c8c8c" stroke="#444" stroke-width="0.55"/>
<circle cx="620.41" cy="424.81" r="1.6" fill="#8c8c8c" stroke="#444" stroke-width="0.55"/>
<circle cx="622.08" cy="420.20" r="1.6" fill="#8c8c8c" stroke="#444" stroke-width="0.55"/>
<circle cx="623.74" cy="413.28" r="1.6" fill="#8c8c8c" stroke="#444" stroke-width="0.55"/>
<circle cx="625.6" cy="287.2" r="2.3" fill="#f00" stroke="#b00" stroke-width="0.5"/>
<line x1="594.10" y1="309.70" x2="618.25" y2="292.76" stroke="#000" stroke-width="1.0"/>
<path d="M618.90,292.30 L614.12,300.29 L614.03,295.72 L609.76,294.07 Z" fill="#000"/>
<text x="537.50" y="320.80" font-size="8.8" fill="#222" text-anchor="start" >poly(CCA) TR</text>
<text x="537.50" y="331.40" font-size="8.8" fill="#222" text-anchor="start" >within <tspan font-style="italic">HRCT1</tspan></text>
</svg></body></html>
